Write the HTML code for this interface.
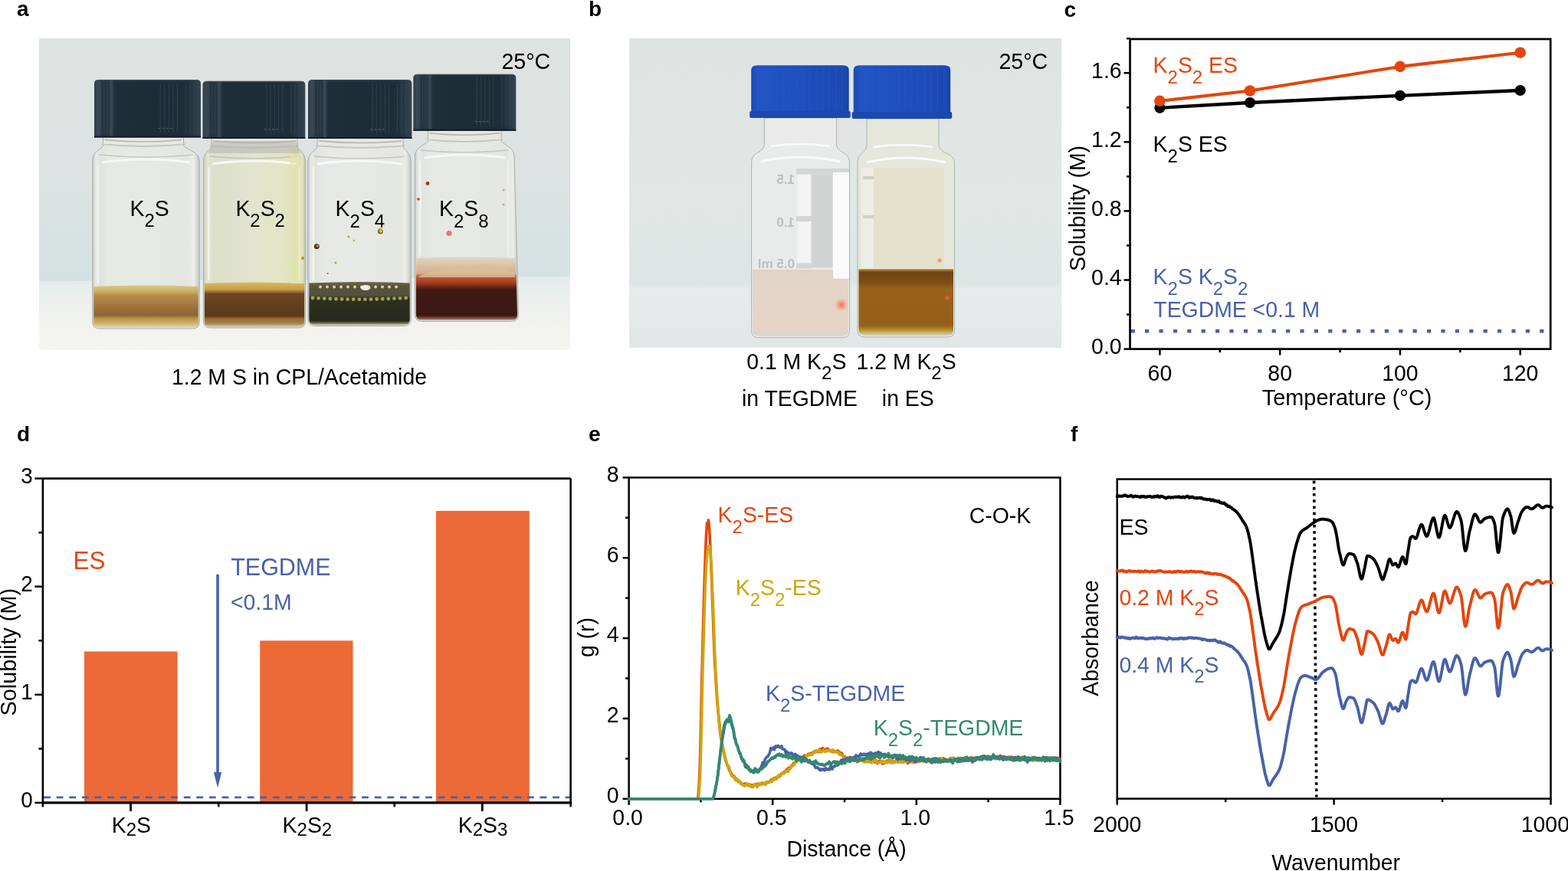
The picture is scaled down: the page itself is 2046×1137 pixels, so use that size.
<!DOCTYPE html>
<html><head><meta charset="utf-8"><title>Figure</title>
<style>
html,body{margin:0;padding:0;background:#fff;}
body{width:2046px;height:1137px;overflow:hidden;}
svg{display:block;}
text{font-family:"Liberation Sans", Arial, Helvetica, sans-serif;}
</style></head><body>
<svg width="2046" height="1137" viewBox="0 0 2046 1137">
<text x="22" y="21.1" font-size="28" fill="#000" text-anchor="start" font-weight="bold" >a</text>
<text x="768" y="21.1" font-size="28" fill="#000" text-anchor="start" font-weight="bold" >b</text>
<text x="1388.6" y="21.5" font-size="28" fill="#000" text-anchor="start" font-weight="bold" >c</text>
<text x="22" y="576" font-size="28" fill="#000" text-anchor="start" font-weight="bold" >d</text>
<text x="768" y="576.2" font-size="28" fill="#000" text-anchor="start" font-weight="bold" >e</text>
<text x="1397" y="576" font-size="28" fill="#000" text-anchor="start" font-weight="bold" >f</text>
<defs>
<linearGradient id="bgA" x1="0" y1="0" x2="0" y2="1">
 <stop offset="0" stop-color="#DEE3E1"/><stop offset="0.45" stop-color="#DCE3E2"/><stop offset="0.8" stop-color="#D5E1E1"/><stop offset="1" stop-color="#CCDDDE"/>
</linearGradient>
<linearGradient id="tblA" x1="0" y1="0" x2="0" y2="1">
 <stop offset="0" stop-color="#E2EBEB"/><stop offset="0.25" stop-color="#EBEFEE"/><stop offset="1" stop-color="#F7F4EE"/>
</linearGradient>
<linearGradient id="bgB" x1="0" y1="0" x2="0" y2="1">
 <stop offset="0" stop-color="#DFE3E2"/><stop offset="0.5" stop-color="#E1E7E5"/><stop offset="0.85" stop-color="#DCE6E5"/><stop offset="0.96" stop-color="#D4E2E2"/><stop offset="1" stop-color="#CFDFDF"/>
</linearGradient>
<linearGradient id="tblB" x1="0" y1="0" x2="0" y2="1">
 <stop offset="0" stop-color="#DCE6E5"/><stop offset="0.1" stop-color="#E5ECEB"/><stop offset="0.5" stop-color="#E4EAE9"/><stop offset="1" stop-color="#E0E7E6"/>
</linearGradient>
<linearGradient id="capK" x1="0" y1="0" x2="1" y2="0">
 <stop offset="0" stop-color="#2C3C48"/><stop offset="0.04" stop-color="#3A4A56"/><stop offset="0.08" stop-color="#24333E"/>
 <stop offset="0.14" stop-color="#283843"/><stop offset="0.16" stop-color="#3C4C58"/><stop offset="0.19" stop-color="#1F2F3A"/>
 <stop offset="0.5" stop-color="#1D2D38"/><stop offset="0.86" stop-color="#1E2E39"/><stop offset="0.95" stop-color="#2A3A46"/><stop offset="1" stop-color="#364652"/>
</linearGradient>
<linearGradient id="capB" x1="0" y1="0" x2="1" y2="0">
 <stop offset="0" stop-color="#1C4AB4"/><stop offset="0.08" stop-color="#2254C4"/><stop offset="0.5" stop-color="#1F4FBE"/>
 <stop offset="0.92" stop-color="#1C49B2"/><stop offset="1" stop-color="#1A44A8"/>
</linearGradient>
<linearGradient id="glass" x1="0" y1="0" x2="1" y2="0">
 <stop offset="0" stop-color="#C6CAC6"/><stop offset="0.03" stop-color="#E8EAE7"/><stop offset="0.08" stop-color="#E0E3DF"/>
 <stop offset="0.14" stop-color="#E6E8E4"/><stop offset="0.5" stop-color="#E7E9E5"/>
 <stop offset="0.88" stop-color="#E4E6E2"/><stop offset="0.95" stop-color="#EAECE8"/><stop offset="1" stop-color="#C2C6C2"/>
</linearGradient>
<linearGradient id="glassY" x1="0" y1="0" x2="1" y2="0">
 <stop offset="0" stop-color="#C8CBB8"/><stop offset="0.04" stop-color="#E2E5D2"/><stop offset="0.1" stop-color="#DCDFCB"/>
 <stop offset="0.5" stop-color="#E2E4CE"/><stop offset="0.8" stop-color="#E2E5C4"/><stop offset="0.9" stop-color="#DCE0B4"/><stop offset="0.97" stop-color="#E2E4C0"/><stop offset="1" stop-color="#BFC2AA"/>
</linearGradient>
<linearGradient id="liq1" x1="0" y1="0" x2="0" y2="1">
 <stop offset="0" stop-color="#D8C888"/><stop offset="0.14" stop-color="#CDB066"/><stop offset="0.24" stop-color="#B68C48"/><stop offset="0.45" stop-color="#A57840"/><stop offset="0.7" stop-color="#8E6234"/><stop offset="0.78" stop-color="#B89448"/><stop offset="0.88" stop-color="#CCB064"/><stop offset="0.95" stop-color="#D6CA98"/><stop offset="1" stop-color="#DEDACA"/>
</linearGradient>
<linearGradient id="liq2" x1="0" y1="0" x2="0" y2="1">
 <stop offset="0" stop-color="#D6BC66"/><stop offset="0.16" stop-color="#C69E44"/><stop offset="0.26" stop-color="#6E4620"/><stop offset="0.5" stop-color="#62401E"/><stop offset="0.75" stop-color="#5A3A1A"/><stop offset="0.82" stop-color="#9A6C34"/><stop offset="0.92" stop-color="#A88450"/><stop offset="1" stop-color="#D8D2C0"/>
</linearGradient>
<linearGradient id="liq3" x1="0" y1="0" x2="0" y2="1">
 <stop offset="0" stop-color="#6E6A48"/><stop offset="0.1" stop-color="#57543A"/><stop offset="0.3" stop-color="#54523A"/><stop offset="0.4" stop-color="#2E2F1F"/><stop offset="0.9" stop-color="#26291E"/><stop offset="0.95" stop-color="#6E6E48"/><stop offset="1" stop-color="#C8C8BA"/>
</linearGradient>
<linearGradient id="liq4" x1="0" y1="0" x2="0" y2="1">
 <stop offset="0" stop-color="#DDD6CC"/><stop offset="0.1" stop-color="#DCC8AE"/><stop offset="0.26" stop-color="#D4AE88"/><stop offset="0.3" stop-color="#B8603A"/><stop offset="0.4" stop-color="#A4401F"/><stop offset="0.47" stop-color="#6E2616"/><stop offset="0.52" stop-color="#3E1A12"/><stop offset="0.92" stop-color="#3A1812"/><stop offset="0.97" stop-color="#8A5A4A"/><stop offset="1" stop-color="#D8CCC6"/>
</linearGradient>
<linearGradient id="liqB1" x1="0" y1="0" x2="0" y2="1">
 <stop offset="0" stop-color="#DCD3C6"/><stop offset="0.08" stop-color="#E2D5C7"/><stop offset="0.9" stop-color="#E6D4C6"/><stop offset="1" stop-color="#DAD4CC"/>
</linearGradient>
<linearGradient id="liqB2" x1="0" y1="0" x2="0" y2="1">
 <stop offset="0" stop-color="#B89030"/><stop offset="0.05" stop-color="#704214"/><stop offset="0.2" stop-color="#7E4E16"/><stop offset="0.3" stop-color="#986218"/><stop offset="0.85" stop-color="#94601A"/><stop offset="0.92" stop-color="#B8922A"/><stop offset="1" stop-color="#D9D5C4"/>
</linearGradient>
<radialGradient id="laser" cx="0.5" cy="0.5" r="0.5">
 <stop offset="0" stop-color="#FF5A48" stop-opacity="0.9"/><stop offset="1" stop-color="#FF8070" stop-opacity="0"/>
</radialGradient>
</defs>
<rect x="51" y="50" width="693" height="405.5" fill="url(#bgA)"/>
<path d="M51,367.6 L744,361 L744,455.5 L51,455.5 Z" fill="url(#tblA)"/>
<path d="M134.5,179.5 L239.5,179.5 L239.5,190 C243.5,196 260.2,198 260.2,210 L260.2,420 Q260.2,429 251.2,429 L129.8,429 Q120.8,429 120.8,420 L120.8,210 C120.8,198 130.5,196 134.5,190 Z" fill="url(#glass)" stroke="#A9AEAA" stroke-width="1"/>
<path d="M132.5,188 Q187.0,194 241.5,188" fill="none" stroke="#C4C7C3" stroke-width="2"/>
<rect x="135.5" y="179.5" width="103.0" height="8.5" fill="#E6E7E4" opacity="0.85"/>
<path d="M136.5,182.5 Q187.0,187.5 237.5,182.5" fill="none" stroke="#8C8F8C" stroke-width="1.5" opacity="0.6"/>
<path d="M128.8,202 Q190.5,208 252.2,202" fill="none" stroke="#A4A7A4" stroke-width="1.5" opacity="0.5"/>
<path d="M132.8,212 Q190.5,204 248.2,212" fill="none" stroke="#F7F8F5" stroke-width="3"/>
<line x1="127.8" y1="216" x2="127.8" y2="370" stroke="#F4F5F2" stroke-width="2.5" opacity="0.9"/>
<line x1="252.2" y1="216" x2="252.2" y2="370" stroke="#F0F1EE" stroke-width="2" opacity="0.7"/>
<path d="M122.3,374 Q190.5,371 258.7,374 L258.7,420 Q258.7,428 250.2,428 L130.8,428 Q122.3,428 122.3,420 Z" fill="url(#liq1)"/>
<path d="M123,179.5 L123,108.9 Q123,103.9 129,103.9 L256,103.9 Q262,103.9 262,108.9 L262,179.5 Z" fill="url(#capK)"/>
<line x1="127.2" y1="107.9" x2="127.2" y2="173.5" stroke="#3A4A56" stroke-width="1.2" opacity="0.55"/>
<line x1="131.3" y1="107.9" x2="131.3" y2="173.5" stroke="#3A4A56" stroke-width="1.2" opacity="0.55"/>
<line x1="135.5" y1="107.9" x2="135.5" y2="173.5" stroke="#3A4A56" stroke-width="1.2" opacity="0.55"/>
<line x1="139.7" y1="107.9" x2="139.7" y2="173.5" stroke="#3A4A56" stroke-width="1.2" opacity="0.55"/>
<line x1="209.2" y1="107.9" x2="209.2" y2="173.5" stroke="#3A4A56" stroke-width="1.2" opacity="0.55"/>
<line x1="214.7" y1="107.9" x2="214.7" y2="173.5" stroke="#3A4A56" stroke-width="1.2" opacity="0.55"/>
<line x1="220.3" y1="107.9" x2="220.3" y2="173.5" stroke="#3A4A56" stroke-width="1.2" opacity="0.55"/>
<line x1="225.9" y1="107.9" x2="225.9" y2="173.5" stroke="#3A4A56" stroke-width="1.2" opacity="0.55"/>
<line x1="231.4" y1="107.9" x2="231.4" y2="173.5" stroke="#3A4A56" stroke-width="1.2" opacity="0.55"/>
<line x1="242.5" y1="107.9" x2="242.5" y2="173.5" stroke="#3A4A56" stroke-width="1.2" opacity="0.55"/>
<line x1="248.1" y1="107.9" x2="248.1" y2="173.5" stroke="#3A4A56" stroke-width="1.2" opacity="0.55"/>
<line x1="253.7" y1="107.9" x2="253.7" y2="173.5" stroke="#3A4A56" stroke-width="1.2" opacity="0.55"/>
<line x1="206.4" y1="167.5" x2="227.2" y2="167.5" stroke="#5A636C" stroke-width="1.2" stroke-dasharray="3 2" opacity="0.8"/>
<line x1="123" y1="178.5" x2="262" y2="178.5" stroke="#161B21" stroke-width="2"/>
<line x1="126" y1="104.9" x2="259" y2="104.9" stroke="#4A5560" stroke-width="1.2" opacity="0.8"/>
<path d="M276,181.1 L388,181.1 L388,192 C392,198 398.6,200 398.6,212 L398.6,419 Q398.6,428 389.6,428 L274.4,428 Q265.4,428 265.4,419 L265.4,212 C265.4,200 272,198 276,192 Z" fill="url(#glassY)" stroke="#A9AEAA" stroke-width="1"/>
<path d="M274,190 Q332.0,196 390,190" fill="none" stroke="#C4C7C3" stroke-width="2"/>
<rect x="277" y="181.1" width="110" height="8.900000000000006" fill="#E6E7E4" opacity="0.85"/>
<path d="M278,184.1 Q332.0,189.1 386,184.1" fill="none" stroke="#8C8F8C" stroke-width="1.5" opacity="0.6"/>
<path d="M273.4,204 Q332.0,210 390.6,204" fill="none" stroke="#A4A7A4" stroke-width="1.5" opacity="0.5"/>
<path d="M277.4,214 Q332.0,206 386.6,214" fill="none" stroke="#F7F8F5" stroke-width="3"/>
<line x1="272.4" y1="218" x2="272.4" y2="366" stroke="#F4F5F2" stroke-width="2.5" opacity="0.9"/>
<line x1="390.6" y1="218" x2="390.6" y2="366" stroke="#F0F1EE" stroke-width="2" opacity="0.7"/>
<path d="M266.9,370 Q332.0,367 397.1,370 L397.1,419 Q397.1,427 388.6,427 L275.4,427 Q266.9,427 266.9,419 Z" fill="url(#liq2)"/>
<path d="M264.5,181.1 L264.5,110.7 Q264.5,105.7 270.5,105.7 L392.3,105.7 Q398.3,105.7 398.3,110.7 L398.3,181.1 Z" fill="url(#capK)"/>
<line x1="268.5" y1="109.7" x2="268.5" y2="175.1" stroke="#3A4A56" stroke-width="1.2" opacity="0.55"/>
<line x1="272.5" y1="109.7" x2="272.5" y2="175.1" stroke="#3A4A56" stroke-width="1.2" opacity="0.55"/>
<line x1="276.5" y1="109.7" x2="276.5" y2="175.1" stroke="#3A4A56" stroke-width="1.2" opacity="0.55"/>
<line x1="280.6" y1="109.7" x2="280.6" y2="175.1" stroke="#3A4A56" stroke-width="1.2" opacity="0.55"/>
<line x1="347.5" y1="109.7" x2="347.5" y2="175.1" stroke="#3A4A56" stroke-width="1.2" opacity="0.55"/>
<line x1="352.8" y1="109.7" x2="352.8" y2="175.1" stroke="#3A4A56" stroke-width="1.2" opacity="0.55"/>
<line x1="358.2" y1="109.7" x2="358.2" y2="175.1" stroke="#3A4A56" stroke-width="1.2" opacity="0.55"/>
<line x1="363.5" y1="109.7" x2="363.5" y2="175.1" stroke="#3A4A56" stroke-width="1.2" opacity="0.55"/>
<line x1="368.9" y1="109.7" x2="368.9" y2="175.1" stroke="#3A4A56" stroke-width="1.2" opacity="0.55"/>
<line x1="379.6" y1="109.7" x2="379.6" y2="175.1" stroke="#3A4A56" stroke-width="1.2" opacity="0.55"/>
<line x1="384.9" y1="109.7" x2="384.9" y2="175.1" stroke="#3A4A56" stroke-width="1.2" opacity="0.55"/>
<line x1="390.3" y1="109.7" x2="390.3" y2="175.1" stroke="#3A4A56" stroke-width="1.2" opacity="0.55"/>
<line x1="344.8" y1="169.1" x2="364.9" y2="169.1" stroke="#5A636C" stroke-width="1.2" stroke-dasharray="3 2" opacity="0.8"/>
<line x1="264.5" y1="180.1" x2="398.3" y2="180.1" stroke="#161B21" stroke-width="2"/>
<line x1="267.5" y1="106.7" x2="395.3" y2="106.7" stroke="#4A5560" stroke-width="1.2" opacity="0.8"/>
<path d="M414,181.1 L526,181.1 L526,192 C530,198 536.2,200 536.2,212 L536.2,416.5 Q536.2,425.5 527.2,425.5 L410.8,425.5 Q401.8,425.5 401.8,416.5 L401.8,212 C401.8,200 410,198 414,192 Z" fill="url(#glass)" stroke="#A9AEAA" stroke-width="1"/>
<path d="M412,190 Q470.0,196 528,190" fill="none" stroke="#C4C7C3" stroke-width="2"/>
<rect x="415" y="181.1" width="110" height="8.900000000000006" fill="#E6E7E4" opacity="0.85"/>
<path d="M416,184.1 Q470.0,189.1 524,184.1" fill="none" stroke="#8C8F8C" stroke-width="1.5" opacity="0.6"/>
<path d="M409.8,204 Q469.0,210 528.2,204" fill="none" stroke="#A4A7A4" stroke-width="1.5" opacity="0.5"/>
<path d="M413.8,214 Q469.0,206 524.2,214" fill="none" stroke="#F7F8F5" stroke-width="3"/>
<line x1="408.8" y1="218" x2="408.8" y2="365.5" stroke="#F4F5F2" stroke-width="2.5" opacity="0.9"/>
<line x1="528.2" y1="218" x2="528.2" y2="365.5" stroke="#F0F1EE" stroke-width="2" opacity="0.7"/>
<path d="M403.3,369.5 Q469.0,366.5 534.7,369.5 L534.7,416.5 Q534.7,424.5 526.2,424.5 L411.8,424.5 Q403.3,424.5 403.3,416.5 Z" fill="url(#liq3)"/>
<path d="M402,181.1 L402,109 Q402,104 408,104 L531.4,104 Q537.4,104 537.4,109 L537.4,181.1 Z" fill="url(#capK)"/>
<line x1="406.1" y1="108" x2="406.1" y2="175.1" stroke="#3A4A56" stroke-width="1.2" opacity="0.55"/>
<line x1="410.1" y1="108" x2="410.1" y2="175.1" stroke="#3A4A56" stroke-width="1.2" opacity="0.55"/>
<line x1="414.2" y1="108" x2="414.2" y2="175.1" stroke="#3A4A56" stroke-width="1.2" opacity="0.55"/>
<line x1="418.2" y1="108" x2="418.2" y2="175.1" stroke="#3A4A56" stroke-width="1.2" opacity="0.55"/>
<line x1="485.9" y1="108" x2="485.9" y2="175.1" stroke="#3A4A56" stroke-width="1.2" opacity="0.55"/>
<line x1="491.4" y1="108" x2="491.4" y2="175.1" stroke="#3A4A56" stroke-width="1.2" opacity="0.55"/>
<line x1="496.8" y1="108" x2="496.8" y2="175.1" stroke="#3A4A56" stroke-width="1.2" opacity="0.55"/>
<line x1="502.2" y1="108" x2="502.2" y2="175.1" stroke="#3A4A56" stroke-width="1.2" opacity="0.55"/>
<line x1="507.6" y1="108" x2="507.6" y2="175.1" stroke="#3A4A56" stroke-width="1.2" opacity="0.55"/>
<line x1="518.4" y1="108" x2="518.4" y2="175.1" stroke="#3A4A56" stroke-width="1.2" opacity="0.55"/>
<line x1="523.9" y1="108" x2="523.9" y2="175.1" stroke="#3A4A56" stroke-width="1.2" opacity="0.55"/>
<line x1="529.3" y1="108" x2="529.3" y2="175.1" stroke="#3A4A56" stroke-width="1.2" opacity="0.55"/>
<line x1="483.2" y1="169.1" x2="503.5" y2="169.1" stroke="#5A636C" stroke-width="1.2" stroke-dasharray="3 2" opacity="0.8"/>
<line x1="402" y1="180.1" x2="537.4" y2="180.1" stroke="#161B21" stroke-width="2"/>
<line x1="405" y1="105" x2="534.4" y2="105" stroke="#4A5560" stroke-width="1.2" opacity="0.8"/>
<path d="M558.4,170.7 L654.1,170.7 L654.1,184 C658.1,190 671,192 671,204 L676.5,410.5 Q676.5,419.5 667.5,419.5 L550.4,419.5 Q541.4,419.5 541.4,410.5 L541.4,204 C541.4,192 554.4,190 558.4,184 Z" fill="url(#glass)" stroke="#A9AEAA" stroke-width="1"/>
<path d="M556.4,182 Q606.25,188 656.1,182" fill="none" stroke="#C4C7C3" stroke-width="2"/>
<rect x="559.4" y="170.7" width="93.70000000000005" height="11.300000000000011" fill="#E6E7E4" opacity="0.85"/>
<path d="M560.4,173.7 Q606.25,178.7 652.1,173.7" fill="none" stroke="#8C8F8C" stroke-width="1.5" opacity="0.6"/>
<path d="M549.4,196 Q606.2,202 663,196" fill="none" stroke="#A4A7A4" stroke-width="1.5" opacity="0.5"/>
<path d="M553.4,206 Q606.2,198 659,206" fill="none" stroke="#F7F8F5" stroke-width="3"/>
<line x1="548.4" y1="210" x2="548.4" y2="333" stroke="#F4F5F2" stroke-width="2.5" opacity="0.9"/>
<line x1="663" y1="210" x2="663" y2="333" stroke="#F0F1EE" stroke-width="2" opacity="0.7"/>
<path d="M542.9,337 Q607.9614379084967,334 673.0228758169935,337 L675.0,410.5 Q675.0,418.5 666.5,418.5 L551.4,418.5 Q542.9,418.5 542.9,410.5 Z" fill="url(#liq4)"/>
<path d="M539.3,170.7 L539.3,101.7 Q539.3,96.7 545.3,96.7 L667.3,96.7 Q673.3,96.7 673.3,101.7 L673.3,170.7 Z" fill="url(#capK)"/>
<line x1="543.3" y1="100.7" x2="543.3" y2="164.7" stroke="#3A4A56" stroke-width="1.2" opacity="0.55"/>
<line x1="547.3" y1="100.7" x2="547.3" y2="164.7" stroke="#3A4A56" stroke-width="1.2" opacity="0.55"/>
<line x1="551.4" y1="100.7" x2="551.4" y2="164.7" stroke="#3A4A56" stroke-width="1.2" opacity="0.55"/>
<line x1="555.4" y1="100.7" x2="555.4" y2="164.7" stroke="#3A4A56" stroke-width="1.2" opacity="0.55"/>
<line x1="622.4" y1="100.7" x2="622.4" y2="164.7" stroke="#3A4A56" stroke-width="1.2" opacity="0.55"/>
<line x1="627.7" y1="100.7" x2="627.7" y2="164.7" stroke="#3A4A56" stroke-width="1.2" opacity="0.55"/>
<line x1="633.1" y1="100.7" x2="633.1" y2="164.7" stroke="#3A4A56" stroke-width="1.2" opacity="0.55"/>
<line x1="638.5" y1="100.7" x2="638.5" y2="164.7" stroke="#3A4A56" stroke-width="1.2" opacity="0.55"/>
<line x1="643.8" y1="100.7" x2="643.8" y2="164.7" stroke="#3A4A56" stroke-width="1.2" opacity="0.55"/>
<line x1="654.5" y1="100.7" x2="654.5" y2="164.7" stroke="#3A4A56" stroke-width="1.2" opacity="0.55"/>
<line x1="659.9" y1="100.7" x2="659.9" y2="164.7" stroke="#3A4A56" stroke-width="1.2" opacity="0.55"/>
<line x1="665.3" y1="100.7" x2="665.3" y2="164.7" stroke="#3A4A56" stroke-width="1.2" opacity="0.55"/>
<line x1="619.7" y1="158.7" x2="639.8" y2="158.7" stroke="#5A636C" stroke-width="1.2" stroke-dasharray="3 2" opacity="0.8"/>
<line x1="539.3" y1="169.7" x2="673.3" y2="169.7" stroke="#161B21" stroke-width="2"/>
<line x1="542.3" y1="97.7" x2="670.3" y2="97.7" stroke="#4A5560" stroke-width="1.2" opacity="0.8"/>
<path d="M278,184 L386,184 L392,200 L272,200 Z" fill="#B4B5AE" opacity="0.55"/>
<rect x="378" y="200" width="12" height="170" fill="#E4E6AC" opacity="0.6"/>
<circle cx="408.0" cy="389.0" r="2.4" fill="#A8A25A" opacity="0.95"/>
<circle cx="415.6" cy="389.35116257962903" r="2.4" fill="#A8A25A" opacity="0.95"/>
<circle cx="423.2" cy="389.68883017825715" r="2.4" fill="#A8A25A" opacity="0.95"/>
<circle cx="430.8" cy="390.0000264194353" r="2.4" fill="#A8A25A" opacity="0.95"/>
<circle cx="438.4" cy="390.27279220613576" r="2.4" fill="#A8A25A" opacity="0.95"/>
<circle cx="446.0" cy="390.4966453021446" r="2.4" fill="#A8A25A" opacity="0.95"/>
<circle cx="453.6" cy="390.6629831585203" r="2.4" fill="#A8A25A" opacity="0.95"/>
<circle cx="461.2" cy="390.7654135047258" r="2.4" fill="#A8A25A" opacity="0.95"/>
<circle cx="468.8" cy="390.8" r="2.4" fill="#A8A25A" opacity="0.95"/>
<circle cx="476.4" cy="390.7654135047258" r="2.4" fill="#A8A25A" opacity="0.95"/>
<circle cx="484.0" cy="390.6629831585203" r="2.4" fill="#A8A25A" opacity="0.95"/>
<circle cx="491.6" cy="390.4966453021446" r="2.4" fill="#A8A25A" opacity="0.95"/>
<circle cx="499.2" cy="390.27279220613576" r="2.4" fill="#A8A25A" opacity="0.95"/>
<circle cx="506.8" cy="390.0000264194353" r="2.4" fill="#A8A25A" opacity="0.95"/>
<circle cx="514.4" cy="389.68883017825715" r="2.4" fill="#A8A25A" opacity="0.95"/>
<circle cx="522.0" cy="389.35116257962903" r="2.4" fill="#A8A25A" opacity="0.95"/>
<circle cx="529.6" cy="389.0" r="2.4" fill="#A8A25A" opacity="0.95"/>
<circle cx="418.0" cy="374.5" r="2" fill="#DCD8B8" opacity="0.95"/>
<circle cx="427.0" cy="374.5" r="2" fill="#DCD8B8" opacity="0.95"/>
<circle cx="436.0" cy="374.5" r="2" fill="#DCD8B8" opacity="0.95"/>
<circle cx="445.0" cy="374.5" r="2" fill="#DCD8B8" opacity="0.95"/>
<circle cx="454.0" cy="374.5" r="2" fill="#DCD8B8" opacity="0.95"/>
<circle cx="463.0" cy="374.5" r="2" fill="#DCD8B8" opacity="0.95"/>
<circle cx="472.0" cy="374.5" r="2" fill="#DCD8B8" opacity="0.95"/>
<circle cx="481.0" cy="374.5" r="2" fill="#DCD8B8" opacity="0.95"/>
<circle cx="490.0" cy="374.5" r="2" fill="#DCD8B8" opacity="0.95"/>
<circle cx="499.0" cy="374.5" r="2" fill="#DCD8B8" opacity="0.95"/>
<circle cx="508.0" cy="374.5" r="2" fill="#DCD8B8" opacity="0.95"/>
<circle cx="517.0" cy="374.5" r="2" fill="#DCD8B8" opacity="0.95"/>
<ellipse cx="477" cy="375.5" rx="6.5" ry="3.5" fill="#F2F2EC"/>
<path d="M545,362 C560,352 575,356 590,349 C602,343 612,352 625,346 C640,340 655,352 672,356 L672,362 Z" fill="#D9BE9A" opacity="0.8"/>
<circle cx="413.3" cy="321.7" r="3.4" fill="#3A3418"/>
<circle cx="496.3" cy="302" r="3.5" fill="#7A6A10"/>
<circle cx="455" cy="309" r="1.6" fill="#C0A840"/>
<circle cx="462" cy="314" r="1.2" fill="#C0A840"/>
<circle cx="438" cy="343" r="1.5" fill="#B8A030"/>
<circle cx="427.7" cy="357" r="1.1" fill="#807030"/>
<circle cx="558" cy="239.5" r="2.4" fill="#A83020"/>
<circle cx="546" cy="260" r="1.8" fill="#B84030"/>
<circle cx="586" cy="304.5" r="3.6" fill="#E08060"/>
<circle cx="657" cy="248" r="1.6" fill="#D0A098"/>
<circle cx="657" cy="267" r="1.6" fill="#D0A098"/>
<circle cx="395" cy="337" r="2" fill="#B89418"/>
<circle cx="496.8" cy="301.5" r="2.2" fill="#D8C020"/>
<circle cx="414" cy="321" r="1.8" fill="#B8A030"/>
<text x="169.6" y="282" font-size="28.4" fill="#000" transform="matrix(1 0 0 1.035 0 -9.870)">K<tspan dy="14" font-size="24">2</tspan><tspan dy="-14">S</tspan></text>
<text x="307.4" y="282" font-size="28.4" fill="#000" transform="matrix(1 0 0 1.035 0 -9.870)">K<tspan dy="14" font-size="24">2</tspan><tspan dy="-14">S</tspan><tspan dy="14" font-size="24">2</tspan></text>
<text x="437.6" y="282.3" font-size="28.4" fill="#000" transform="matrix(1 0 0 1.035 0 -9.880)">K<tspan dy="14" font-size="24">2</tspan><tspan dy="-14">S</tspan><tspan dy="14" font-size="24">4</tspan></text>
<text x="573" y="282.3" font-size="28.4" fill="#000" transform="matrix(1 0 0 1.035 0 -9.880)">K<tspan dy="14" font-size="24">2</tspan><tspan dy="-14">S</tspan><tspan dy="14" font-size="24">8</tspan></text>
<text x="654.4" y="90.2" font-size="28.6" fill="#000" text-anchor="start" font-weight="normal"  transform="matrix(1 0 0 1.035 0 -3.157)">25°C</text>
<text x="390.5" y="502" font-size="28.4" fill="#000" text-anchor="middle" font-weight="normal"  transform="matrix(1 0 0 1.035 0 -17.570)">1.2 M S in CPL/Acetamide</text>
<rect x="821" y="50" width="564" height="403.8" fill="url(#bgB)"/>
<rect x="821" y="369.5" width="564" height="84.3" fill="url(#tblB)"/>
<path d="M997.4,154 L1091.5,154 L1091.5,189 C1093.5,201 1108.5,197 1108.5,213 L1108.5,431.7 Q1108.5,440.7 1099.5,440.7 L989.6,440.7 Q980.6,440.7 980.6,431.7 L980.6,213 C980.6,197 995.4,201 997.4,189 Z" fill="#E8EBE9" stroke="#AEB2AF" stroke-width="1"/>
<path d="M992.6,211 Q1044.55,199 1096.5,211" fill="none" stroke="#FAFBF9" stroke-width="3"/>
<path d="M1005.4,191 Q1044.45,185 1083.5,191" fill="none" stroke="#FAFBF9" stroke-width="2.5"/>
<path d="M982.1,352 L1107.0,352 L1107.0,431.7 Q1107.0,438.7 1098.5,438.7 L990.6,438.7 Q982.1,438.7 982.1,431.7 Z" fill="url(#liqB1)"/>
<path d="M980.2,146 L980.2,91.2 Q980.2,85.2 988.2,85.2 L1099.7,85.2 Q1107.7,85.2 1107.7,91.2 L1107.7,146 Z" fill="url(#capB)"/>
<rect x="978.2" y="145" width="131.5" height="9" rx="2" fill="#1C48B0"/>
<line x1="988.7" y1="89.2" x2="988.7" y2="143" stroke="#2A5AC8" stroke-width="1" opacity="0.6"/>
<line x1="997.2" y1="89.2" x2="997.2" y2="143" stroke="#2A5AC8" stroke-width="1" opacity="0.6"/>
<line x1="1005.7" y1="89.2" x2="1005.7" y2="143" stroke="#2A5AC8" stroke-width="1" opacity="0.6"/>
<line x1="1014.2" y1="89.2" x2="1014.2" y2="143" stroke="#2A5AC8" stroke-width="1" opacity="0.6"/>
<line x1="1022.7" y1="89.2" x2="1022.7" y2="143" stroke="#2A5AC8" stroke-width="1" opacity="0.6"/>
<line x1="1031.2" y1="89.2" x2="1031.2" y2="143" stroke="#2A5AC8" stroke-width="1" opacity="0.6"/>
<line x1="1039.7" y1="89.2" x2="1039.7" y2="143" stroke="#2A5AC8" stroke-width="1" opacity="0.6"/>
<line x1="1048.2" y1="89.2" x2="1048.2" y2="143" stroke="#2A5AC8" stroke-width="1" opacity="0.6"/>
<line x1="1056.7" y1="89.2" x2="1056.7" y2="143" stroke="#2A5AC8" stroke-width="1" opacity="0.6"/>
<line x1="1065.2" y1="89.2" x2="1065.2" y2="143" stroke="#2A5AC8" stroke-width="1" opacity="0.6"/>
<line x1="1073.7" y1="89.2" x2="1073.7" y2="143" stroke="#2A5AC8" stroke-width="1" opacity="0.6"/>
<line x1="1082.2" y1="89.2" x2="1082.2" y2="143" stroke="#2A5AC8" stroke-width="1" opacity="0.6"/>
<line x1="1090.7" y1="89.2" x2="1090.7" y2="143" stroke="#2A5AC8" stroke-width="1" opacity="0.6"/>
<line x1="1099.2" y1="89.2" x2="1099.2" y2="143" stroke="#2A5AC8" stroke-width="1" opacity="0.6"/>
<path d="M1131,155 L1225,155 L1225,190 C1227,202 1245.5,198 1245.5,214 L1245.5,431 Q1245.5,440 1236.5,440 L1128,440 Q1119,440 1119,431 L1119,214 C1119,198 1129,202 1131,190 Z" fill="#E5E6DC" stroke="#AEB2AF" stroke-width="1"/>
<path d="M1131,212 Q1182.25,200 1233.5,212" fill="none" stroke="#FAFBF9" stroke-width="3"/>
<path d="M1139,192 Q1178.0,186 1217,192" fill="none" stroke="#FAFBF9" stroke-width="2.5"/>
<path d="M1120.5,351.2 L1244.0,351.2 L1244.0,431 Q1244.0,438 1235.5,438 L1129,438 Q1120.5,438 1120.5,431 Z" fill="url(#liqB2)"/>
<path d="M1113.7,147 L1113.7,91.2 Q1113.7,85.2 1121.7,85.2 L1232.2,85.2 Q1240.2,85.2 1240.2,91.2 L1240.2,147 Z" fill="url(#capB)"/>
<rect x="1111.7" y="146" width="130.5" height="9" rx="2" fill="#1C48B0"/>
<line x1="1122.1" y1="89.2" x2="1122.1" y2="144" stroke="#2A5AC8" stroke-width="1" opacity="0.6"/>
<line x1="1130.6" y1="89.2" x2="1130.6" y2="144" stroke="#2A5AC8" stroke-width="1" opacity="0.6"/>
<line x1="1139.0" y1="89.2" x2="1139.0" y2="144" stroke="#2A5AC8" stroke-width="1" opacity="0.6"/>
<line x1="1147.4" y1="89.2" x2="1147.4" y2="144" stroke="#2A5AC8" stroke-width="1" opacity="0.6"/>
<line x1="1155.9" y1="89.2" x2="1155.9" y2="144" stroke="#2A5AC8" stroke-width="1" opacity="0.6"/>
<line x1="1164.3" y1="89.2" x2="1164.3" y2="144" stroke="#2A5AC8" stroke-width="1" opacity="0.6"/>
<line x1="1172.7" y1="89.2" x2="1172.7" y2="144" stroke="#2A5AC8" stroke-width="1" opacity="0.6"/>
<line x1="1181.2" y1="89.2" x2="1181.2" y2="144" stroke="#2A5AC8" stroke-width="1" opacity="0.6"/>
<line x1="1189.6" y1="89.2" x2="1189.6" y2="144" stroke="#2A5AC8" stroke-width="1" opacity="0.6"/>
<line x1="1198.0" y1="89.2" x2="1198.0" y2="144" stroke="#2A5AC8" stroke-width="1" opacity="0.6"/>
<line x1="1206.5" y1="89.2" x2="1206.5" y2="144" stroke="#2A5AC8" stroke-width="1" opacity="0.6"/>
<line x1="1214.9" y1="89.2" x2="1214.9" y2="144" stroke="#2A5AC8" stroke-width="1" opacity="0.6"/>
<line x1="1223.3" y1="89.2" x2="1223.3" y2="144" stroke="#2A5AC8" stroke-width="1" opacity="0.6"/>
<line x1="1231.8" y1="89.2" x2="1231.8" y2="144" stroke="#2A5AC8" stroke-width="1" opacity="0.6"/>
<rect x="1039" y="219.7" width="69" height="132.3" fill="#ECEDEC"/>
<rect x="1041.5" y="228" width="17" height="54" fill="#F3F4F3"/>
<rect x="1041.5" y="290" width="17" height="53.5" fill="#F3F4F3"/>
<rect x="1058.5" y="227.5" width="28" height="122" fill="#D0D3D2"/>
<rect x="1039" y="220" width="69" height="7.5" fill="#D3D6D5"/>
<rect x="1039" y="282" width="20" height="7" fill="#D3D6D5"/>
<rect x="1039" y="343.5" width="20" height="7" fill="#D3D6D5"/>
<rect x="1087" y="224.8" width="21" height="139" fill="#FAFAFA"/>
<text x="-1037" y="240" font-size="17" font-weight="bold" fill="#BDBFBE" transform="scale(-1,1)">1.5</text>
<text x="-1037" y="296" font-size="17" font-weight="bold" fill="#BDBFBE" transform="scale(-1,1)">1.0</text>
<text x="-1037" y="350" font-size="17" font-weight="bold" fill="#BDBFBE" transform="scale(-1,1)">0.5 ml</text>
<rect x="1140" y="219" width="92" height="131" fill="#E4E1CC"/>
<rect x="1124" y="219" width="16" height="131" fill="#EDEDE5"/>
<rect x="1126" y="230" width="14" height="4" fill="#CFCFC4"/>
<rect x="1126" y="281" width="14" height="4" fill="#CFCFC4"/>
<circle cx="1098" cy="398" r="9" fill="url(#laser)"/>
<circle cx="1226" cy="340" r="4" fill="url(#laser)"/>
<circle cx="1236" cy="389" r="4" fill="url(#laser)"/>
<text x="1303.4" y="89.8" font-size="28.6" fill="#000" text-anchor="start" font-weight="normal"  transform="matrix(1 0 0 1.035 0 -3.143)">25°C</text>
<text x="1039.3" y="482.1" font-size="28.4" text-anchor="middle" transform="matrix(1 0 0 1.035 0 -16.873)">0.1 M K<tspan dy="12.8" font-size="24">2</tspan><tspan dy="-12.8">S</tspan></text>
<text x="1182.6" y="482.1" font-size="28.4" text-anchor="middle" transform="matrix(1 0 0 1.035 0 -16.873)">1.2 M K<tspan dy="12.8" font-size="24">2</tspan><tspan dy="-12.8">S</tspan></text>
<text x="1043.4" y="529.8" font-size="28.4" fill="#000" text-anchor="middle" font-weight="normal"  transform="matrix(1 0 0 1.035 0 -18.543)">in TEGDME</text>
<text x="1184.8" y="529.8" font-size="28.4" fill="#000" text-anchor="middle" font-weight="normal"  transform="matrix(1 0 0 1.035 0 -18.543)">in ES</text>
<line x1="1475.6" y1="432.2" x2="2016" y2="432.2" stroke="#4862A8" stroke-width="4.6" stroke-dasharray="5.2 13.2"/>
<rect x="1474.5" y="51.0" width="548.7" height="404.6" fill="none" stroke="#000" stroke-width="2.7" stroke-linejoin="miter"/>
<line x1="1466.5" y1="455.6" x2="1474.5" y2="455.6" stroke="#000" stroke-width="2.5" />
<line x1="1466.5" y1="365.52000000000004" x2="1474.5" y2="365.52000000000004" stroke="#000" stroke-width="2.5" />
<line x1="1466.5" y1="275.44000000000005" x2="1474.5" y2="275.44000000000005" stroke="#000" stroke-width="2.5" />
<line x1="1466.5" y1="185.36000000000007" x2="1474.5" y2="185.36000000000007" stroke="#000" stroke-width="2.5" />
<line x1="1466.5" y1="95.28000000000003" x2="1474.5" y2="95.28000000000003" stroke="#000" stroke-width="2.5" />
<line x1="1470.0" y1="410.56" x2="1474.5" y2="410.56" stroke="#000" stroke-width="2.5" />
<line x1="1470.0" y1="320.48" x2="1474.5" y2="320.48" stroke="#000" stroke-width="2.5" />
<line x1="1470.0" y1="230.40000000000003" x2="1474.5" y2="230.40000000000003" stroke="#000" stroke-width="2.5" />
<line x1="1470.0" y1="140.32000000000005" x2="1474.5" y2="140.32000000000005" stroke="#000" stroke-width="2.5" />
<line x1="1470.0" y1="50.24000000000001" x2="1474.5" y2="50.24000000000001" stroke="#000" stroke-width="2.5" />
<line x1="1513.4" y1="455.6" x2="1513.4" y2="463.6" stroke="#000" stroke-width="2.5" />
<line x1="1670.16" y1="455.6" x2="1670.16" y2="463.6" stroke="#000" stroke-width="2.5" />
<line x1="1826.92" y1="455.6" x2="1826.92" y2="463.6" stroke="#000" stroke-width="2.5" />
<line x1="1983.68" y1="455.6" x2="1983.68" y2="463.6" stroke="#000" stroke-width="2.5" />
<line x1="1591.7800000000002" y1="455.6" x2="1591.7800000000002" y2="460.1" stroke="#000" stroke-width="2.5" />
<line x1="1748.5400000000002" y1="455.6" x2="1748.5400000000002" y2="460.1" stroke="#000" stroke-width="2.5" />
<line x1="1905.3000000000002" y1="455.6" x2="1905.3000000000002" y2="460.1" stroke="#000" stroke-width="2.5" />
<text x="1463.6" y="462.0" font-size="28.4" fill="#000" text-anchor="end" font-weight="normal"  transform="matrix(1 0 0 1.035 0 -16.170)">0.0</text>
<text x="1463.6" y="371.92" font-size="28.4" fill="#000" text-anchor="end" font-weight="normal"  transform="matrix(1 0 0 1.035 0 -13.017)">0.4</text>
<text x="1463.6" y="281.84000000000003" font-size="28.4" fill="#000" text-anchor="end" font-weight="normal"  transform="matrix(1 0 0 1.035 0 -9.864)">0.8</text>
<text x="1463.6" y="191.76000000000008" font-size="28.4" fill="#000" text-anchor="end" font-weight="normal"  transform="matrix(1 0 0 1.035 0 -6.712)">1.2</text>
<text x="1463.6" y="101.68000000000004" font-size="28.4" fill="#000" text-anchor="end" font-weight="normal"  transform="matrix(1 0 0 1.035 0 -3.559)">1.6</text>
<text x="1513.4" y="497.2" font-size="28.4" fill="#000" text-anchor="middle" font-weight="normal"  transform="matrix(1 0 0 1.035 0 -17.402)">60</text>
<text x="1670.16" y="497.2" font-size="28.4" fill="#000" text-anchor="middle" font-weight="normal"  transform="matrix(1 0 0 1.035 0 -17.402)">80</text>
<text x="1826.92" y="497.2" font-size="28.4" fill="#000" text-anchor="middle" font-weight="normal"  transform="matrix(1 0 0 1.035 0 -17.402)">100</text>
<text x="1983.68" y="497.2" font-size="28.4" fill="#000" text-anchor="middle" font-weight="normal"  transform="matrix(1 0 0 1.035 0 -17.402)">120</text>
<text x="1757.6" y="528.7" font-size="28.85" fill="#000" text-anchor="middle" font-weight="normal"  transform="matrix(1 0 0 1.035 0 -18.504)">Temperature (°C)</text>
<text x="1415.6" y="272" font-size="28.4" fill="#000" text-anchor="middle" transform="rotate(-90 1415.6 272) matrix(1 0 0 1.035 0 -9.520)">Solubility (M)</text>
<path d="M1513.4,140.8 L1631.0,134.0 L1826.9,124.8 L1983.7,118.0" fill="none" stroke="#000" stroke-width="4.3" stroke-linejoin="round" stroke-linecap="round" />
<circle cx="1513.4" cy="140.8" r="7.1" fill="#000"/>
<circle cx="1631.0" cy="134.0" r="7.1" fill="#000"/>
<circle cx="1826.9" cy="124.8" r="7.1" fill="#000"/>
<circle cx="1983.7" cy="118.0" r="7.1" fill="#000"/>
<path d="M1513.4,131.8 L1631.0,118.5 L1826.9,86.9 L1983.7,68.7" fill="none" stroke="#E5450C" stroke-width="4.1" stroke-linejoin="round" stroke-linecap="round" />
<circle cx="1513.4" cy="131.8" r="7.3" fill="#E5450C"/>
<circle cx="1631.0" cy="118.5" r="7.3" fill="#E5450C"/>
<circle cx="1826.9" cy="86.9" r="7.3" fill="#E5450C"/>
<circle cx="1983.7" cy="68.7" r="7.3" fill="#E5450C"/>
<text x="1504.6" y="94.9" font-size="28.4" fill="#E5450C" text-anchor="start" transform="matrix(1 0 0 1.035 0 -3.321)">K<tspan dy="14" font-size="24">2</tspan><tspan dy="-14">S</tspan><tspan dy="14" font-size="24">2</tspan><tspan dy="-14"> ES</tspan></text>
<text x="1504.6" y="198" font-size="28.4" fill="#000" text-anchor="start" transform="matrix(1 0 0 1.035 0 -6.930)">K<tspan dy="14" font-size="24">2</tspan><tspan dy="-14">S ES</tspan></text>
<text x="1504.6" y="371" font-size="28.4" fill="#4862A8" text-anchor="start" transform="matrix(1 0 0 1.035 0 -12.985)">K<tspan dy="13.7" font-size="24">2</tspan><tspan dy="-13.7">S K</tspan><tspan dy="13.7" font-size="24">2</tspan><tspan dy="-13.7">S</tspan><tspan dy="13.7" font-size="24">2</tspan></text>
<text x="1505.3" y="413.9" font-size="28.4" fill="#4862A8" text-anchor="start" font-weight="normal"  transform="matrix(1 0 0 1.035 0 -14.486)">TEGDME &lt;0.1 M</text>
<rect x="110" y="850.4" width="121.6" height="197.5" fill="#EC6A37"/>
<rect x="339.2" y="836.3" width="121.3" height="211.6" fill="#EC6A37"/>
<rect x="568.8" y="666.9" width="122.0" height="381.0" fill="#EC6A37"/>
<line x1="57.1" y1="1040.9" x2="744" y2="1040.9" stroke="#4862A8" stroke-width="2.8" stroke-dasharray="8.8 7.8"/>
<line x1="55.9" y1="624.6" x2="744.6" y2="624.6" stroke="#000" stroke-width="2.6" />
<line x1="55.9" y1="624.6" x2="55.9" y2="1047.9" stroke="#000" stroke-width="2.6" />
<line x1="744.6" y1="624.6" x2="744.6" y2="1047.9" stroke="#000" stroke-width="2.6" />
<line x1="54.6" y1="1047.9" x2="745.9" y2="1047.9" stroke="#000" stroke-width="3.4" />
<line x1="45.4" y1="1047.9" x2="55.9" y2="1047.9" stroke="#000" stroke-width="2.5" />
<line x1="45.4" y1="906.8000000000001" x2="55.9" y2="906.8000000000001" stroke="#000" stroke-width="2.5" />
<line x1="45.4" y1="765.7" x2="55.9" y2="765.7" stroke="#000" stroke-width="2.5" />
<line x1="45.4" y1="624.6000000000001" x2="55.9" y2="624.6000000000001" stroke="#000" stroke-width="2.5" />
<line x1="50.4" y1="977.3500000000001" x2="55.9" y2="977.3500000000001" stroke="#000" stroke-width="2.5" />
<line x1="50.4" y1="836.2500000000001" x2="55.9" y2="836.2500000000001" stroke="#000" stroke-width="2.5" />
<line x1="50.4" y1="695.1500000000001" x2="55.9" y2="695.1500000000001" stroke="#000" stroke-width="2.5" />
<line x1="170.5" y1="1047.9" x2="170.5" y2="1058.9" stroke="#000" stroke-width="2.8" />
<line x1="400.1" y1="1047.9" x2="400.1" y2="1058.9" stroke="#000" stroke-width="2.8" />
<line x1="629.3" y1="1047.9" x2="629.3" y2="1058.9" stroke="#000" stroke-width="2.8" />
<line x1="55.9" y1="1047.9" x2="55.9" y2="1053.4" stroke="#000" stroke-width="2.6" />
<line x1="285.2" y1="1047.9" x2="285.2" y2="1053.4" stroke="#000" stroke-width="2.6" />
<line x1="514.7" y1="1047.9" x2="514.7" y2="1053.4" stroke="#000" stroke-width="2.6" />
<line x1="744.6" y1="1047.9" x2="744.6" y2="1053.4" stroke="#000" stroke-width="2.6" />
<text x="42.6" y="1054.1000000000001" font-size="27.8" fill="#000" text-anchor="end" font-weight="normal"  transform="matrix(1 0 0 1.035 0 -36.893)">0</text>
<text x="42.6" y="913.0000000000001" font-size="27.8" fill="#000" text-anchor="end" font-weight="normal"  transform="matrix(1 0 0 1.035 0 -31.955)">1</text>
<text x="42.6" y="771.9000000000001" font-size="27.8" fill="#000" text-anchor="end" font-weight="normal"  transform="matrix(1 0 0 1.035 0 -27.016)">2</text>
<text x="42.6" y="630.8000000000002" font-size="27.8" fill="#000" text-anchor="end" font-weight="normal"  transform="matrix(1 0 0 1.035 0 -22.078)">3</text>
<text x="171.3" y="1086.9" font-size="28.4" text-anchor="middle" transform="matrix(1 0 0 1.035 0 -38.041)">K<tspan font-size="24" dy="3.9">2</tspan><tspan dy="-3.9">S</tspan></text>
<text x="400.90000000000003" y="1086.9" font-size="28.4" text-anchor="middle" transform="matrix(1 0 0 1.035 0 -38.041)">K<tspan font-size="24" dy="3.9">2</tspan><tspan dy="-3.9">S</tspan><tspan font-size="24" dy="3.9">2</tspan></text>
<text x="630.0999999999999" y="1086.9" font-size="28.4" text-anchor="middle" transform="matrix(1 0 0 1.035 0 -38.041)">K<tspan font-size="24" dy="3.9">2</tspan><tspan dy="-3.9">S</tspan><tspan font-size="24" dy="3.9">3</tspan></text>
<text x="20.9" y="851.2" font-size="28.8" fill="#000" text-anchor="middle" transform="rotate(-90 20.9 851.2) matrix(1 0 0 1.035 0 -29.792)">Solubility (M)</text>
<text x="95.5" y="743" font-size="31.5" fill="#E5450C" text-anchor="start" font-weight="normal"  transform="matrix(1 0 0 1.035 0 -26.005)">ES</text>
<text x="301.2" y="750.9" font-size="30.5" fill="#4862A8" text-anchor="start" font-weight="normal"  transform="matrix(1 0 0 1.035 0 -26.281)">TEGDME</text>
<text x="300.9" y="796.1" font-size="28.4" fill="#4862A8" text-anchor="start" font-weight="normal"  transform="matrix(1 0 0 1.035 0 -27.863)">&lt;0.1M</text>
<line x1="284" y1="749.7" x2="284" y2="1012" stroke="#4862A8" stroke-width="3.6" />
<path d="M278.8,1008 L289.2,1008 L284,1028.5 Z" fill="#4862A8"/>
<rect x="820.6" y="623.4" width="562.8000000000001" height="419.4" fill="none" stroke="#000" stroke-width="2.5" stroke-linejoin="miter"/>
<line x1="812.6" y1="1042.8" x2="820.6" y2="1042.8" stroke="#000" stroke-width="2.5" />
<line x1="812.6" y1="937.9399999999999" x2="820.6" y2="937.9399999999999" stroke="#000" stroke-width="2.5" />
<line x1="812.6" y1="833.0799999999999" x2="820.6" y2="833.0799999999999" stroke="#000" stroke-width="2.5" />
<line x1="812.6" y1="728.22" x2="820.6" y2="728.22" stroke="#000" stroke-width="2.5" />
<line x1="812.6" y1="623.3599999999999" x2="820.6" y2="623.3599999999999" stroke="#000" stroke-width="2.5" />
<line x1="816.1" y1="990.37" x2="820.6" y2="990.37" stroke="#000" stroke-width="2.5" />
<line x1="816.1" y1="885.51" x2="820.6" y2="885.51" stroke="#000" stroke-width="2.5" />
<line x1="816.1" y1="780.65" x2="820.6" y2="780.65" stroke="#000" stroke-width="2.5" />
<line x1="816.1" y1="675.79" x2="820.6" y2="675.79" stroke="#000" stroke-width="2.5" />
<line x1="820.6" y1="1042.8" x2="820.6" y2="1050.8" stroke="#000" stroke-width="2.5" />
<line x1="1008.2" y1="1042.8" x2="1008.2" y2="1050.8" stroke="#000" stroke-width="2.5" />
<line x1="1195.8" y1="1042.8" x2="1195.8" y2="1050.8" stroke="#000" stroke-width="2.5" />
<line x1="1383.4" y1="1042.8" x2="1383.4" y2="1050.8" stroke="#000" stroke-width="2.5" />
<line x1="914.4" y1="1042.8" x2="914.4" y2="1047.3" stroke="#000" stroke-width="2.5" />
<line x1="1102.0" y1="1042.8" x2="1102.0" y2="1047.3" stroke="#000" stroke-width="2.5" />
<line x1="1289.6" y1="1042.8" x2="1289.6" y2="1047.3" stroke="#000" stroke-width="2.5" />
<path d="M820.6,1042.8 L821.2,1042.8 L821.7,1042.8 L822.3,1042.8 L822.9,1042.8 L823.4,1042.8 L824.0,1042.8 L824.5,1042.8 L825.1,1042.8 L825.7,1042.8 L826.2,1042.8 L826.8,1042.8 L827.4,1042.8 L827.9,1042.8 L828.5,1042.8 L829.1,1042.8 L829.6,1042.8 L830.2,1042.8 L830.7,1042.8 L831.3,1042.8 L831.9,1042.8 L832.4,1042.8 L833.0,1042.8 L833.6,1042.8 L834.1,1042.8 L834.7,1042.8 L835.2,1042.8 L835.8,1042.8 L836.4,1042.8 L836.9,1042.8 L837.5,1042.8 L838.1,1042.8 L838.6,1042.8 L839.2,1042.8 L839.8,1042.8 L840.3,1042.8 L840.9,1042.8 L841.4,1042.8 L842.0,1042.8 L842.6,1042.8 L843.1,1042.8 L843.7,1042.8 L844.3,1042.8 L844.8,1042.8 L845.4,1042.8 L846.0,1042.8 L846.5,1042.8 L847.1,1042.8 L847.6,1042.8 L848.2,1042.8 L848.8,1042.8 L849.3,1042.8 L849.9,1042.8 L850.5,1042.8 L851.0,1042.8 L851.6,1042.8 L852.1,1042.8 L852.7,1042.8 L853.3,1042.8 L853.8,1042.8 L854.4,1042.8 L855.0,1042.8 L855.5,1042.8 L856.1,1042.8 L856.7,1042.8 L857.2,1042.8 L857.8,1042.8 L858.3,1042.8 L858.9,1042.8 L859.5,1042.8 L860.0,1042.8 L860.6,1042.8 L861.2,1042.8 L861.7,1042.8 L862.3,1042.8 L862.9,1042.8 L863.4,1042.8 L864.0,1042.8 L864.5,1042.8 L865.1,1042.8 L865.7,1042.8 L866.2,1042.8 L866.8,1042.8 L867.4,1042.8 L867.9,1042.8 L868.5,1042.8 L869.0,1042.8 L869.6,1042.8 L870.2,1042.8 L870.7,1042.8 L871.3,1042.8 L871.9,1042.8 L872.4,1042.8 L873.0,1042.8 L873.6,1042.8 L874.1,1042.8 L874.7,1042.8 L875.2,1042.8 L875.8,1042.8 L876.4,1042.8 L876.9,1042.8 L877.5,1042.8 L878.1,1042.8 L878.6,1042.8 L879.2,1042.8 L879.8,1042.8 L880.3,1042.8 L880.9,1042.8 L881.4,1042.8 L882.0,1042.8 L882.6,1042.8 L883.1,1042.8 L883.7,1042.8 L884.3,1042.8 L884.8,1042.8 L885.4,1042.8 L886.0,1042.8 L886.5,1042.8 L887.1,1042.8 L887.6,1042.8 L888.2,1042.8 L888.8,1042.8 L889.3,1042.8 L889.9,1042.8 L890.5,1042.8 L891.0,1042.8 L891.6,1042.8 L892.1,1042.8 L892.7,1042.8 L893.3,1042.8 L893.8,1042.8 L894.4,1042.8 L895.0,1042.8 L895.5,1042.8 L896.1,1042.8 L896.7,1042.8 L897.2,1042.8 L897.8,1042.8 L898.3,1042.8 L898.9,1042.8 L899.5,1042.8 L900.0,1042.8 L900.6,1042.8 L901.2,1042.8 L901.7,1042.8 L902.3,1042.8 L902.9,1042.8 L903.4,1042.8 L904.0,1042.8 L904.5,1042.8 L905.1,1042.8 L905.7,1042.8 L906.2,1042.8 L906.8,1042.8 L907.4,1042.8 L907.9,1042.8 L908.5,1042.8 L909.0,1042.8 L909.6,1042.8 L910.2,1042.8 L910.7,1041.2 L911.3,1035.8 L911.9,1027.7 L912.4,1018.2 L913.0,1005.9 L913.6,987.2 L914.1,963.9 L914.7,938.0 L915.2,911.2 L915.8,885.6 L916.4,863.0 L916.9,841.4 L917.5,819.5 L918.1,797.9 L918.6,777.2 L919.2,758.0 L919.8,740.9 L920.3,726.1 L920.9,712.2 L921.4,699.9 L922.0,690.0 L922.6,682.7 L923.1,683.7 L923.7,688.4 L924.3,678.8 L924.8,681.1 L925.4,687.5 L925.9,696.0 L926.5,707.0 L927.1,719.6 L927.6,732.6 L928.2,745.6 L928.8,759.9 L929.3,775.4 L929.9,791.7 L930.5,808.1 L931.0,824.1 L931.6,839.4 L932.1,853.2 L932.7,865.2 L933.3,873.7 L933.8,883.3 L934.4,894.1 L935.0,903.1 L935.5,910.9 L936.1,918.6 L936.7,924.8 L937.2,930.2 L937.8,936.8 L938.3,942.8 L938.9,947.7 L939.5,953.1 L940.0,957.9 L940.6,962.1 L941.2,966.0 L941.7,969.7 L942.3,972.6 L942.8,975.1 L943.4,977.8 L944.0,980.4 L944.5,982.6 L945.1,984.7 L945.7,987.3 L946.2,989.9 L946.8,992.1 L947.4,994.4 L947.9,995.9 L948.5,997.0 L949.0,999.0 L949.6,1000.4 L950.2,1000.8 L950.7,1002.0 L951.3,1004.5 L951.9,1006.3 L952.4,1006.3 L953.0,1007.2 L953.6,1008.8 L954.1,1009.2 L954.7,1010.6 L955.2,1011.9 L955.8,1012.0 L956.4,1012.3 L956.9,1013.4 L957.5,1014.0 L958.1,1013.5 L958.6,1015.0 L959.2,1016.4 L959.8,1015.9 L960.3,1016.1 L960.9,1016.7 L961.4,1017.3 L962.0,1017.7 L962.6,1018.2 L963.1,1018.8 L963.7,1019.0 L964.3,1020.0 L964.8,1020.9 L965.4,1020.7 L965.9,1020.8 L966.5,1021.8 L967.1,1022.4 L967.6,1022.8 L968.2,1024.1 L968.8,1024.2 L969.3,1023.8 L969.9,1024.1 L970.5,1023.7 L971.0,1023.0 L971.6,1023.1 L972.1,1024.2 L972.7,1024.4 L973.3,1024.8 L973.8,1024.5 L974.4,1022.9 L975.0,1023.8 L975.5,1024.8 L976.1,1024.0 L976.7,1024.8 L977.2,1025.7 L977.8,1024.4 L978.3,1023.9 L978.9,1024.8 L979.5,1025.0 L980.0,1024.9 L980.6,1025.2 L981.2,1024.8 L981.7,1024.9 L982.3,1025.9 L982.8,1026.4 L983.4,1026.0 L984.0,1025.4 L984.5,1024.5 L985.1,1024.1 L985.7,1024.2 L986.2,1024.3 L986.8,1024.8 L987.4,1025.0 L987.9,1023.7 L988.5,1023.0 L989.0,1024.2 L989.6,1024.9 L990.2,1024.7 L990.7,1024.8 L991.3,1024.6 L991.9,1024.0 L992.4,1023.2 L993.0,1022.4 L993.6,1022.6 L994.1,1022.5 L994.7,1022.2 L995.2,1022.1 L995.8,1021.9 L996.4,1022.7 L996.9,1023.3 L997.5,1022.8 L998.1,1022.7 L998.6,1022.9 L999.2,1022.8 L999.7,1022.2 L1000.3,1020.8 L1000.9,1020.8 L1001.4,1021.7 L1002.0,1021.7 L1002.6,1021.1 L1003.1,1020.8 L1003.7,1021.1 L1004.3,1020.8 L1004.8,1020.1 L1005.4,1019.2 L1005.9,1017.8 L1006.5,1017.3 L1007.1,1017.6 L1007.6,1018.1 L1008.2,1018.3 L1008.8,1017.4 L1009.3,1016.7 L1009.9,1015.8 L1010.5,1015.9 L1011.0,1017.2 L1011.6,1017.0 L1012.1,1016.1 L1012.7,1015.7 L1013.3,1015.9 L1013.8,1015.4 L1014.4,1014.0 L1015.0,1013.3 L1015.5,1013.6 L1016.1,1014.0 L1016.7,1013.3 L1017.2,1012.0 L1017.8,1012.5 L1018.3,1012.8 L1018.9,1011.2 L1019.5,1010.0 L1020.0,1009.9 L1020.6,1009.8 L1021.2,1009.7 L1021.7,1009.7 L1022.3,1009.1 L1022.8,1008.5 L1023.4,1007.4 L1024.0,1007.0 L1024.5,1007.5 L1025.1,1007.2 L1025.7,1005.9 L1026.2,1004.8 L1026.8,1005.0 L1027.4,1005.6 L1027.9,1004.5 L1028.5,1002.6 L1029.0,1002.4 L1029.6,1003.9 L1030.2,1003.3 L1030.7,1001.9 L1031.3,1002.7 L1031.9,1002.4 L1032.4,1000.2 L1033.0,999.2 L1033.6,999.3 L1034.1,998.6 L1034.7,997.3 L1035.2,996.4 L1035.8,996.1 L1036.4,996.1 L1036.9,996.4 L1037.5,996.0 L1038.1,994.6 L1038.6,993.3 L1039.2,993.2 L1039.7,993.5 L1040.3,992.4 L1040.9,991.6 L1041.4,991.9 L1042.0,992.0 L1042.6,992.2 L1043.1,992.3 L1043.7,991.0 L1044.3,990.3 L1044.8,990.2 L1045.4,989.9 L1045.9,990.3 L1046.5,990.1 L1047.1,988.5 L1047.6,987.6 L1048.2,988.3 L1048.8,987.6 L1049.3,986.4 L1049.9,986.1 L1050.5,986.3 L1051.0,987.9 L1051.6,988.3 L1052.1,987.0 L1052.7,986.7 L1053.3,986.9 L1053.8,986.1 L1054.4,984.5 L1055.0,984.2 L1055.5,984.6 L1056.1,984.1 L1056.6,983.9 L1057.2,984.2 L1057.8,984.0 L1058.3,983.6 L1058.9,983.0 L1059.5,982.9 L1060.0,982.8 L1060.6,982.4 L1061.2,982.6 L1061.7,982.2 L1062.3,981.1 L1062.8,980.8 L1063.4,980.8 L1064.0,980.2 L1064.5,980.5 L1065.1,981.4 L1065.7,981.2 L1066.2,980.4 L1066.8,980.6 L1067.4,981.5 L1067.9,981.6 L1068.5,981.0 L1069.0,980.0 L1069.6,978.4 L1070.2,977.6 L1070.7,977.9 L1071.3,978.7 L1071.9,979.3 L1072.4,978.8 L1073.0,977.4 L1073.6,976.5 L1074.1,977.4 L1074.7,978.7 L1075.2,979.1 L1075.8,979.5 L1076.4,979.7 L1076.9,979.3 L1077.5,978.1 L1078.1,977.5 L1078.6,977.8 L1079.2,977.3 L1079.7,977.2 L1080.3,977.9 L1080.9,977.8 L1081.4,978.4 L1082.0,979.5 L1082.6,979.6 L1083.1,979.7 L1083.7,980.1 L1084.3,980.1 L1084.8,979.9 L1085.4,980.1 L1085.9,980.8 L1086.5,981.3 L1087.1,981.6 L1087.6,980.8 L1088.2,980.1 L1088.8,980.3 L1089.3,980.4 L1089.9,980.8 L1090.5,981.6 L1091.0,981.6 L1091.6,980.8 L1092.1,980.5 L1092.7,980.1 L1093.3,979.9 L1093.8,980.8 L1094.4,981.1 L1095.0,981.2 L1095.5,982.7 L1096.1,984.2 L1096.6,984.5 L1097.2,983.4 L1097.8,982.8 L1098.3,983.4 L1098.9,984.5 L1099.5,985.3 L1100.0,986.7 L1100.6,988.3 L1101.2,988.3 L1101.7,988.6 L1102.3,988.6 L1102.8,987.9 L1103.4,989.4 L1104.0,990.8 L1104.5,990.0 L1105.1,989.2 L1105.7,989.4 L1106.2,989.2 L1106.8,988.9 L1107.4,990.0 L1107.9,991.2 L1108.5,990.5 L1109.0,989.8 L1109.6,991.1 L1110.2,991.8 L1110.7,990.8 L1111.3,990.1 L1111.9,990.1 L1112.4,990.8 L1113.0,991.3 L1113.5,990.7 L1114.1,991.1 L1114.7,991.8 L1115.2,990.0 L1115.8,989.5 L1116.4,991.3 L1116.9,991.4 L1117.5,991.3 L1118.1,993.3 L1118.6,994.6 L1119.2,994.0 L1119.7,993.3 L1120.3,992.6 L1120.9,991.8 L1121.4,992.3 L1122.0,993.0 L1122.6,991.7 L1123.1,990.3 L1123.7,990.4 L1124.3,991.3 L1124.8,991.8 L1125.4,992.2 L1125.9,992.7 L1126.5,992.5 L1127.1,992.1 L1127.6,991.7 L1128.2,992.4 L1128.8,993.5 L1129.3,992.8 L1129.9,992.4 L1130.4,993.6 L1131.0,994.2 L1131.6,994.5 L1132.1,994.2 L1132.7,992.5 L1133.3,991.5 L1133.8,992.0 L1134.4,992.8 L1135.0,993.2 L1135.5,993.5 L1136.1,993.5 L1136.6,992.6 L1137.2,991.9 L1137.8,992.6 L1138.3,993.5 L1138.9,993.8 L1139.5,993.0 L1140.0,992.2 L1140.6,993.6 L1141.2,994.9 L1141.7,993.4 L1142.3,991.8 L1142.8,992.2 L1143.4,992.8 L1144.0,994.2 L1144.5,996.1 L1145.1,996.6 L1145.7,995.6 L1146.2,994.4 L1146.8,993.5 L1147.4,993.4 L1147.9,993.6 L1148.5,993.5 L1149.0,994.1 L1149.6,994.3 L1150.2,994.0 L1150.7,995.5 L1151.3,997.0 L1151.9,995.9 L1152.4,995.6 L1153.0,996.6 L1153.5,995.7 L1154.1,995.0 L1154.7,995.9 L1155.2,995.9 L1155.8,995.2 L1156.4,994.2 L1156.9,993.1 L1157.5,993.9 L1158.1,995.5 L1158.6,995.1 L1159.2,993.1 L1159.7,992.1 L1160.3,992.9 L1160.9,992.9 L1161.4,992.5 L1162.0,993.4 L1162.6,994.8 L1163.1,995.5 L1163.7,994.1 L1164.3,993.1 L1164.8,994.3 L1165.4,995.1 L1165.9,995.1 L1166.5,994.1 L1167.1,993.4 L1167.6,993.6 L1168.2,993.3 L1168.8,993.0 L1169.3,992.7 L1169.9,992.2 L1170.4,992.9 L1171.0,994.2 L1171.6,995.0 L1172.1,994.8 L1172.7,994.1 L1173.3,993.0 L1173.8,991.3 L1174.4,991.6 L1175.0,993.6 L1175.5,993.7 L1176.1,993.6 L1176.6,995.0 L1177.2,994.7 L1177.8,993.8 L1178.3,994.5 L1178.9,994.8 L1179.5,994.1 L1180.0,993.5 L1180.6,993.4 L1181.2,993.3 L1181.7,993.2 L1182.3,993.1 L1182.8,993.2 L1183.4,994.4 L1184.0,995.8 L1184.5,996.3 L1185.1,995.8 L1185.7,994.3 L1186.2,992.9 L1186.8,993.2 L1187.3,994.3 L1187.9,994.7 L1188.5,994.4 L1189.0,994.1 L1189.6,994.5 L1190.2,994.8 L1190.7,993.8 L1191.3,993.5 L1191.9,994.6 L1192.4,995.0 L1193.0,994.8 L1193.5,994.1 L1194.1,994.4 L1194.7,994.9 L1195.2,993.0 L1195.8,991.5 L1196.4,991.7 L1196.9,992.0 L1197.5,993.4 L1198.1,994.4 L1198.6,993.5 L1199.2,993.5 L1199.7,993.8 L1200.3,992.6 L1200.9,992.4 L1201.4,992.7 L1202.0,992.6 L1202.6,992.8 L1203.1,992.9 L1203.7,992.9 L1204.3,993.0 L1204.8,992.7 L1205.4,991.7 L1205.9,991.2 L1206.5,991.6 L1207.1,992.8 L1207.6,992.8 L1208.2,993.0 L1208.8,994.7 L1209.3,993.9 L1209.9,991.8 L1210.4,991.2 L1211.0,991.5 L1211.6,991.9 L1212.1,992.2 L1212.7,993.1 L1213.3,994.2 L1213.8,994.3 L1214.4,993.5 L1215.0,993.0 L1215.5,994.2 L1216.1,995.9 L1216.6,995.2 L1217.2,993.1 L1217.8,992.2 L1218.3,992.7 L1218.9,993.8 L1219.5,993.3 L1220.0,991.7 L1220.6,991.3 L1221.2,990.4 L1221.7,989.9 L1222.3,991.2 L1222.8,992.1 L1223.4,992.4 L1224.0,992.5 L1224.5,992.0 L1225.1,991.4 L1225.7,990.9 L1226.2,990.0 L1226.8,990.1 L1227.3,990.8 L1227.9,991.3 L1228.5,992.2 L1229.0,992.8 L1229.6,992.8 L1230.2,992.2 L1230.7,990.8 L1231.3,989.9 L1231.9,990.1 L1232.4,990.9 L1233.0,991.5 L1233.5,992.2 L1234.1,992.3 L1234.7,991.4 L1235.2,991.4 L1235.8,991.9 L1236.4,992.0 L1236.9,992.5 L1237.5,992.4 L1238.1,992.0 L1238.6,992.3 L1239.2,991.9 L1239.7,990.7 L1240.3,989.9 L1240.9,990.0 L1241.4,991.1 L1242.0,992.3 L1242.6,992.4 L1243.1,992.0 L1243.7,990.8 L1244.2,989.9 L1244.8,990.6 L1245.4,991.6 L1245.9,991.5 L1246.5,991.6 L1247.1,992.1 L1247.6,991.4 L1248.2,991.0 L1248.8,991.5 L1249.3,991.5 L1249.9,991.4 L1250.4,991.9 L1251.0,991.6 L1251.6,990.6 L1252.1,989.8 L1252.7,989.9 L1253.3,991.7 L1253.8,992.3 L1254.4,990.5 L1255.0,990.1 L1255.5,991.7 L1256.1,992.3 L1256.6,992.2 L1257.2,992.4 L1257.8,992.6 L1258.3,992.8 L1258.9,992.7 L1259.5,992.6 L1260.0,991.2 L1260.6,989.8 L1261.2,990.1 L1261.7,990.5 L1262.3,991.3 L1262.8,992.2 L1263.4,991.8 L1264.0,990.5 L1264.5,989.6 L1265.1,989.8 L1265.7,991.0 L1266.2,991.2 L1266.8,990.1 L1267.3,988.7 L1267.9,988.8 L1268.5,990.8 L1269.0,992.3 L1269.6,991.8 L1270.2,990.1 L1270.7,990.2 L1271.3,991.0 L1271.9,991.7 L1272.4,993.1 L1273.0,992.3 L1273.5,990.1 L1274.1,989.5 L1274.7,990.4 L1275.2,990.7 L1275.8,989.4 L1276.4,989.0 L1276.9,990.4 L1277.5,990.7 L1278.1,990.2 L1278.6,989.9 L1279.2,989.8 L1279.7,990.3 L1280.3,990.6 L1280.9,990.4 L1281.4,990.3 L1282.0,990.1 L1282.6,989.5 L1283.1,989.3 L1283.7,989.9 L1284.2,989.6 L1284.8,988.8 L1285.4,989.3 L1285.9,989.3 L1286.5,988.7 L1287.1,988.7 L1287.6,989.0 L1288.2,989.5 L1288.8,989.9 L1289.3,988.8 L1289.9,987.7 L1290.4,988.7 L1291.0,989.9 L1291.6,989.8 L1292.1,989.7 L1292.7,989.4 L1293.3,989.4 L1293.8,989.3 L1294.4,988.3 L1295.0,988.1 L1295.5,988.0 L1296.1,987.5 L1296.6,987.1 L1297.2,988.0 L1297.8,989.5 L1298.3,990.2 L1298.9,990.7 L1299.5,989.8 L1300.0,988.1 L1300.6,987.4 L1301.1,987.7 L1301.7,988.6 L1302.3,988.8 L1302.8,988.3 L1303.4,987.4 L1304.0,987.4 L1304.5,987.2 L1305.1,986.3 L1305.7,987.8 L1306.2,989.2 L1306.8,988.6 L1307.3,988.2 L1307.9,988.8 L1308.5,989.0 L1309.0,988.4 L1309.6,988.2 L1310.2,987.6 L1310.7,988.3 L1311.3,990.3 L1311.9,991.2 L1312.4,990.7 L1313.0,989.8 L1313.5,989.4 L1314.1,989.8 L1314.7,990.1 L1315.2,989.2 L1315.8,989.1 L1316.4,990.4 L1316.9,990.5 L1317.5,989.9 L1318.0,990.1 L1318.6,989.5 L1319.2,988.2 L1319.7,988.0 L1320.3,989.2 L1320.9,989.5 L1321.4,988.6 L1322.0,989.3 L1322.6,990.7 L1323.1,991.0 L1323.7,990.0 L1324.2,988.8 L1324.8,989.3 L1325.4,991.1 L1325.9,991.7 L1326.5,991.1 L1327.1,991.4 L1327.6,991.5 L1328.2,990.7 L1328.8,990.5 L1329.3,989.7 L1329.9,989.9 L1330.4,991.5 L1331.0,991.9 L1331.6,991.8 L1332.1,990.8 L1332.7,990.3 L1333.3,990.5 L1333.8,989.7 L1334.4,990.5 L1335.0,991.6 L1335.5,990.8 L1336.1,990.5 L1336.6,991.3 L1337.2,991.6 L1337.8,991.2 L1338.3,990.1 L1338.9,990.2 L1339.5,990.5 L1340.0,990.5 L1340.6,991.4 L1341.1,990.7 L1341.7,989.4 L1342.3,989.5 L1342.8,989.5 L1343.4,990.2 L1344.0,991.2 L1344.5,991.1 L1345.1,990.9 L1345.7,991.3 L1346.2,991.8 L1346.8,992.2 L1347.3,992.1 L1347.9,991.0 L1348.5,990.1 L1349.0,990.7 L1349.6,991.5 L1350.2,990.8 L1350.7,991.0 L1351.3,991.8 L1351.9,990.9 L1352.4,989.9 L1353.0,989.7 L1353.5,989.6 L1354.1,989.4 L1354.7,989.7 L1355.2,991.3 L1355.8,992.7 L1356.4,992.1 L1356.9,991.0 L1357.5,990.8 L1358.0,990.1 L1358.6,989.9 L1359.2,989.7 L1359.7,989.7 L1360.3,990.5 L1360.9,990.7 L1361.4,991.1 L1362.0,991.4 L1362.6,990.9 L1363.1,990.8 L1363.7,990.9 L1364.2,991.4 L1364.8,991.6 L1365.4,991.6 L1365.9,991.5 L1366.5,991.7 L1367.1,991.7 L1367.6,991.3 L1368.2,992.0 L1368.8,991.8 L1369.3,990.2 L1369.9,989.5 L1370.4,989.9 L1371.0,989.5 L1371.6,989.4 L1372.1,991.2 L1372.7,992.4 L1373.3,991.6 L1373.8,990.5 L1374.4,989.9 L1374.9,989.5 L1375.5,989.8 L1376.1,991.0 L1376.6,992.0 L1377.2,991.1 L1377.8,989.2 L1378.3,989.1 L1378.9,990.2 L1379.5,991.0 L1380.0,991.3 L1380.6,991.4 L1381.1,992.3 L1381.7,993.0 L1382.3,992.1 L1382.8,991.1 L1383.4,990.8" fill="none" stroke="#E5450C" stroke-width="3.6" stroke-linejoin="round" stroke-linecap="round" />
<path d="M820.6,1042.8 L821.2,1042.8 L821.7,1042.8 L822.3,1042.8 L822.9,1042.8 L823.4,1042.8 L824.0,1042.8 L824.5,1042.8 L825.1,1042.8 L825.7,1042.8 L826.2,1042.8 L826.8,1042.8 L827.4,1042.8 L827.9,1042.8 L828.5,1042.8 L829.1,1042.8 L829.6,1042.8 L830.2,1042.8 L830.7,1042.8 L831.3,1042.8 L831.9,1042.8 L832.4,1042.8 L833.0,1042.8 L833.6,1042.8 L834.1,1042.8 L834.7,1042.8 L835.2,1042.8 L835.8,1042.8 L836.4,1042.8 L836.9,1042.8 L837.5,1042.8 L838.1,1042.8 L838.6,1042.8 L839.2,1042.8 L839.8,1042.8 L840.3,1042.8 L840.9,1042.8 L841.4,1042.8 L842.0,1042.8 L842.6,1042.8 L843.1,1042.8 L843.7,1042.8 L844.3,1042.8 L844.8,1042.8 L845.4,1042.8 L846.0,1042.8 L846.5,1042.8 L847.1,1042.8 L847.6,1042.8 L848.2,1042.8 L848.8,1042.8 L849.3,1042.8 L849.9,1042.8 L850.5,1042.8 L851.0,1042.8 L851.6,1042.8 L852.1,1042.8 L852.7,1042.8 L853.3,1042.8 L853.8,1042.8 L854.4,1042.8 L855.0,1042.8 L855.5,1042.8 L856.1,1042.8 L856.7,1042.8 L857.2,1042.8 L857.8,1042.8 L858.3,1042.8 L858.9,1042.8 L859.5,1042.8 L860.0,1042.8 L860.6,1042.8 L861.2,1042.8 L861.7,1042.8 L862.3,1042.8 L862.9,1042.8 L863.4,1042.8 L864.0,1042.8 L864.5,1042.8 L865.1,1042.8 L865.7,1042.8 L866.2,1042.8 L866.8,1042.8 L867.4,1042.8 L867.9,1042.8 L868.5,1042.8 L869.0,1042.8 L869.6,1042.8 L870.2,1042.8 L870.7,1042.8 L871.3,1042.8 L871.9,1042.8 L872.4,1042.8 L873.0,1042.8 L873.6,1042.8 L874.1,1042.8 L874.7,1042.8 L875.2,1042.8 L875.8,1042.8 L876.4,1042.8 L876.9,1042.8 L877.5,1042.8 L878.1,1042.8 L878.6,1042.8 L879.2,1042.8 L879.8,1042.8 L880.3,1042.8 L880.9,1042.8 L881.4,1042.8 L882.0,1042.8 L882.6,1042.8 L883.1,1042.8 L883.7,1042.8 L884.3,1042.8 L884.8,1042.8 L885.4,1042.8 L886.0,1042.8 L886.5,1042.8 L887.1,1042.8 L887.6,1042.8 L888.2,1042.8 L888.8,1042.8 L889.3,1042.8 L889.9,1042.8 L890.5,1042.8 L891.0,1042.8 L891.6,1042.8 L892.1,1042.8 L892.7,1042.8 L893.3,1042.8 L893.8,1042.8 L894.4,1042.8 L895.0,1042.8 L895.5,1042.8 L896.1,1042.8 L896.7,1042.8 L897.2,1042.8 L897.8,1042.8 L898.3,1042.8 L898.9,1042.8 L899.5,1042.8 L900.0,1042.8 L900.6,1042.8 L901.2,1042.8 L901.7,1042.8 L902.3,1042.8 L902.9,1042.8 L903.4,1042.8 L904.0,1042.8 L904.5,1042.8 L905.1,1042.8 L905.7,1042.8 L906.2,1042.8 L906.8,1042.8 L907.4,1042.8 L907.9,1042.8 L908.5,1042.8 L909.0,1042.8 L909.6,1042.8 L910.2,1042.8 L910.7,1042.8 L911.3,1042.2 L911.9,1037.9 L912.4,1030.5 L913.0,1021.4 L913.6,1010.9 L914.1,994.8 L914.7,973.9 L915.2,949.9 L915.8,924.8 L916.4,900.3 L916.9,878.2 L917.5,858.2 L918.1,837.6 L918.6,817.2 L919.2,797.6 L919.8,779.8 L920.3,764.5 L920.9,752.5 L921.4,742.1 L922.0,732.6 L922.6,724.8 L923.1,719.3 L923.7,716.5 L924.3,714.3 L924.8,712.9 L925.4,712.5 L925.9,714.2 L926.5,717.8 L927.1,722.3 L927.6,728.7 L928.2,738.7 L928.8,750.8 L929.3,763.2 L929.9,776.0 L930.5,790.3 L931.0,805.8 L931.6,821.6 L932.1,837.1 L932.7,851.6 L933.3,865.1 L933.8,875.3 L934.4,885.5 L935.0,895.1 L935.5,903.6 L936.1,912.8 L936.7,922.7 L937.2,930.0 L937.8,934.5 L938.3,938.7 L938.9,944.4 L939.5,950.1 L940.0,954.6 L940.6,958.5 L941.2,962.4 L941.7,966.8 L942.3,970.3 L942.8,972.2 L943.4,975.2 L944.0,978.7 L944.5,980.2 L945.1,983.0 L945.7,987.6 L946.2,990.4 L946.8,991.1 L947.4,992.6 L947.9,995.8 L948.5,997.7 L949.0,998.2 L949.6,1000.0 L950.2,1000.8 L950.7,999.9 L951.3,1001.0 L951.9,1004.1 L952.4,1006.5 L953.0,1008.5 L953.6,1010.5 L954.1,1011.1 L954.7,1012.0 L955.2,1013.7 L955.8,1014.1 L956.4,1013.4 L956.9,1013.6 L957.5,1014.0 L958.1,1014.7 L958.6,1016.4 L959.2,1018.1 L959.8,1018.6 L960.3,1017.7 L960.9,1017.0 L961.4,1017.4 L962.0,1018.3 L962.6,1019.6 L963.1,1020.3 L963.7,1020.9 L964.3,1020.6 L964.8,1019.3 L965.4,1019.9 L965.9,1022.1 L966.5,1022.9 L967.1,1023.3 L967.6,1023.7 L968.2,1023.8 L968.8,1024.3 L969.3,1024.6 L969.9,1024.7 L970.5,1025.0 L971.0,1025.7 L971.6,1026.1 L972.1,1025.8 L972.7,1025.3 L973.3,1024.8 L973.8,1023.9 L974.4,1023.0 L975.0,1023.5 L975.5,1024.4 L976.1,1024.7 L976.7,1024.6 L977.2,1023.9 L977.8,1024.6 L978.3,1025.7 L978.9,1024.9 L979.5,1025.4 L980.0,1027.4 L980.6,1027.2 L981.2,1026.8 L981.7,1027.6 L982.3,1027.4 L982.8,1026.5 L983.4,1025.4 L984.0,1024.0 L984.5,1023.5 L985.1,1024.3 L985.7,1024.6 L986.2,1024.7 L986.8,1025.5 L987.4,1026.8 L987.9,1027.4 L988.5,1026.1 L989.0,1024.0 L989.6,1023.0 L990.2,1023.4 L990.7,1024.3 L991.3,1024.3 L991.9,1022.9 L992.4,1022.7 L993.0,1023.9 L993.6,1024.4 L994.1,1023.9 L994.7,1022.6 L995.2,1022.5 L995.8,1022.9 L996.4,1022.5 L996.9,1022.5 L997.5,1023.3 L998.1,1024.1 L998.6,1024.5 L999.2,1023.8 L999.7,1021.4 L1000.3,1020.5 L1000.9,1022.0 L1001.4,1021.7 L1002.0,1021.1 L1002.6,1021.4 L1003.1,1021.3 L1003.7,1020.7 L1004.3,1019.9 L1004.8,1019.8 L1005.4,1019.5 L1005.9,1018.9 L1006.5,1019.8 L1007.1,1020.6 L1007.6,1019.3 L1008.2,1017.8 L1008.8,1017.6 L1009.3,1017.9 L1009.9,1018.0 L1010.5,1017.0 L1011.0,1016.0 L1011.6,1015.3 L1012.1,1014.6 L1012.7,1015.6 L1013.3,1017.0 L1013.8,1016.3 L1014.4,1014.5 L1015.0,1013.6 L1015.5,1013.1 L1016.1,1012.4 L1016.7,1011.4 L1017.2,1011.5 L1017.8,1012.4 L1018.3,1011.8 L1018.9,1011.4 L1019.5,1011.5 L1020.0,1010.0 L1020.6,1008.8 L1021.2,1009.2 L1021.7,1009.6 L1022.3,1009.8 L1022.8,1009.8 L1023.4,1009.3 L1024.0,1008.7 L1024.5,1008.2 L1025.1,1007.6 L1025.7,1006.5 L1026.2,1006.0 L1026.8,1006.3 L1027.4,1006.2 L1027.9,1007.2 L1028.5,1007.3 L1029.0,1005.2 L1029.6,1003.6 L1030.2,1003.5 L1030.7,1003.9 L1031.3,1002.8 L1031.9,1001.1 L1032.4,1000.1 L1033.0,999.9 L1033.6,999.9 L1034.1,1000.0 L1034.7,999.5 L1035.2,998.3 L1035.8,997.6 L1036.4,997.9 L1036.9,997.3 L1037.5,995.1 L1038.1,993.6 L1038.6,993.8 L1039.2,994.1 L1039.7,993.6 L1040.3,992.5 L1040.9,991.4 L1041.4,990.9 L1042.0,991.6 L1042.6,992.6 L1043.1,992.7 L1043.7,992.6 L1044.3,991.6 L1044.8,989.6 L1045.4,989.5 L1045.9,989.7 L1046.5,988.5 L1047.1,988.7 L1047.6,989.4 L1048.2,988.7 L1048.8,988.5 L1049.3,989.4 L1049.9,989.6 L1050.5,988.1 L1051.0,988.0 L1051.6,988.7 L1052.1,987.0 L1052.7,985.9 L1053.3,986.3 L1053.8,986.2 L1054.4,986.3 L1055.0,986.4 L1055.5,985.4 L1056.1,984.7 L1056.6,985.4 L1057.2,985.0 L1057.8,984.5 L1058.3,984.9 L1058.9,985.2 L1059.5,985.4 L1060.0,984.8 L1060.6,983.5 L1061.2,983.2 L1061.7,982.3 L1062.3,980.8 L1062.8,981.6 L1063.4,982.4 L1064.0,982.3 L1064.5,981.7 L1065.1,980.9 L1065.7,980.7 L1066.2,979.8 L1066.8,979.9 L1067.4,980.7 L1067.9,980.4 L1068.5,979.4 L1069.0,978.5 L1069.6,979.7 L1070.2,981.6 L1070.7,982.2 L1071.3,981.7 L1071.9,981.0 L1072.4,981.0 L1073.0,981.1 L1073.6,980.5 L1074.1,979.2 L1074.7,979.0 L1075.2,980.3 L1075.8,980.9 L1076.4,981.0 L1076.9,981.5 L1077.5,981.4 L1078.1,980.4 L1078.6,979.4 L1079.2,979.7 L1079.7,980.0 L1080.3,979.4 L1080.9,979.5 L1081.4,979.9 L1082.0,980.2 L1082.6,980.4 L1083.1,979.9 L1083.7,979.9 L1084.3,981.1 L1084.8,981.1 L1085.4,979.9 L1085.9,978.9 L1086.5,978.7 L1087.1,980.0 L1087.6,980.9 L1088.2,981.2 L1088.8,981.0 L1089.3,981.1 L1089.9,982.0 L1090.5,982.2 L1091.0,981.9 L1091.6,981.8 L1092.1,981.5 L1092.7,981.2 L1093.3,981.6 L1093.8,982.6 L1094.4,983.8 L1095.0,984.8 L1095.5,985.0 L1096.1,984.4 L1096.6,984.1 L1097.2,985.1 L1097.8,985.7 L1098.3,985.5 L1098.9,986.3 L1099.5,987.3 L1100.0,987.2 L1100.6,988.3 L1101.2,990.4 L1101.7,990.4 L1102.3,989.3 L1102.8,989.6 L1103.4,990.3 L1104.0,989.7 L1104.5,988.9 L1105.1,989.3 L1105.7,989.3 L1106.2,989.4 L1106.8,990.1 L1107.4,990.4 L1107.9,991.0 L1108.5,991.8 L1109.0,991.6 L1109.6,990.8 L1110.2,991.2 L1110.7,992.2 L1111.3,991.7 L1111.9,990.1 L1112.4,990.3 L1113.0,991.7 L1113.5,992.9 L1114.1,993.2 L1114.7,992.2 L1115.2,992.2 L1115.8,992.6 L1116.4,991.5 L1116.9,991.5 L1117.5,993.0 L1118.1,993.4 L1118.6,992.9 L1119.2,992.6 L1119.7,993.3 L1120.3,993.4 L1120.9,992.1 L1121.4,991.4 L1122.0,991.2 L1122.6,991.5 L1123.1,992.5 L1123.7,992.5 L1124.3,992.0 L1124.8,992.2 L1125.4,993.2 L1125.9,993.7 L1126.5,993.7 L1127.1,994.1 L1127.6,994.9 L1128.2,995.1 L1128.8,994.5 L1129.3,994.4 L1129.9,994.3 L1130.4,993.6 L1131.0,992.6 L1131.6,991.9 L1132.1,993.3 L1132.7,994.7 L1133.3,994.4 L1133.8,994.0 L1134.4,994.0 L1135.0,994.5 L1135.5,994.9 L1136.1,994.8 L1136.6,995.4 L1137.2,995.9 L1137.8,995.3 L1138.3,993.9 L1138.9,993.3 L1139.5,994.0 L1140.0,994.3 L1140.6,993.7 L1141.2,992.9 L1141.7,992.5 L1142.3,993.2 L1142.8,993.6 L1143.4,992.7 L1144.0,992.8 L1144.5,994.1 L1145.1,995.1 L1145.7,995.8 L1146.2,995.7 L1146.8,995.4 L1147.4,995.2 L1147.9,995.0 L1148.5,994.9 L1149.0,994.5 L1149.6,994.1 L1150.2,994.4 L1150.7,995.4 L1151.3,995.3 L1151.9,993.5 L1152.4,993.1 L1153.0,994.1 L1153.5,994.9 L1154.1,996.2 L1154.7,996.5 L1155.2,994.8 L1155.8,993.9 L1156.4,995.1 L1156.9,995.0 L1157.5,994.3 L1158.1,995.1 L1158.6,994.6 L1159.2,993.9 L1159.7,994.4 L1160.3,993.4 L1160.9,992.8 L1161.4,994.4 L1162.0,995.2 L1162.6,995.0 L1163.1,995.6 L1163.7,995.1 L1164.3,993.6 L1164.8,994.2 L1165.4,995.9 L1165.9,995.4 L1166.5,994.1 L1167.1,994.4 L1167.6,995.3 L1168.2,994.8 L1168.8,993.9 L1169.3,993.6 L1169.9,994.4 L1170.4,994.7 L1171.0,993.3 L1171.6,992.5 L1172.1,991.5 L1172.7,991.2 L1173.3,993.6 L1173.8,994.8 L1174.4,993.9 L1175.0,994.0 L1175.5,994.8 L1176.1,994.3 L1176.6,993.2 L1177.2,994.2 L1177.8,995.4 L1178.3,995.2 L1178.9,994.9 L1179.5,994.3 L1180.0,994.5 L1180.6,994.5 L1181.2,994.0 L1181.7,993.7 L1182.3,992.9 L1182.8,992.5 L1183.4,993.7 L1184.0,994.2 L1184.5,993.3 L1185.1,992.8 L1185.7,993.1 L1186.2,993.4 L1186.8,993.3 L1187.3,992.9 L1187.9,993.1 L1188.5,993.9 L1189.0,994.0 L1189.6,993.7 L1190.2,993.7 L1190.7,993.2 L1191.3,992.7 L1191.9,993.2 L1192.4,993.9 L1193.0,993.3 L1193.5,991.7 L1194.1,992.1 L1194.7,993.9 L1195.2,993.4 L1195.8,991.3 L1196.4,991.0 L1196.9,991.8 L1197.5,992.5 L1198.1,993.6 L1198.6,993.2 L1199.2,993.0 L1199.7,994.3 L1200.3,993.8 L1200.9,992.0 L1201.4,991.8 L1202.0,992.6 L1202.6,992.1 L1203.1,991.4 L1203.7,992.8 L1204.3,993.8 L1204.8,993.3 L1205.4,992.4 L1205.9,991.6 L1206.5,992.2 L1207.1,992.1 L1207.6,991.1 L1208.2,991.7 L1208.8,992.0 L1209.3,991.4 L1209.9,991.4 L1210.4,991.7 L1211.0,991.8 L1211.6,992.7 L1212.1,993.5 L1212.7,993.0 L1213.3,992.5 L1213.8,992.3 L1214.4,992.4 L1215.0,992.0 L1215.5,990.7 L1216.1,991.2 L1216.6,993.2 L1217.2,993.2 L1217.8,993.6 L1218.3,994.2 L1218.9,992.9 L1219.5,992.4 L1220.0,992.7 L1220.6,992.1 L1221.2,990.8 L1221.7,990.3 L1222.3,990.8 L1222.8,991.2 L1223.4,991.5 L1224.0,992.0 L1224.5,992.3 L1225.1,992.3 L1225.7,992.1 L1226.2,991.3 L1226.8,990.7 L1227.3,990.6 L1227.9,989.5 L1228.5,989.8 L1229.0,992.2 L1229.6,992.6 L1230.2,992.1 L1230.7,992.6 L1231.3,992.7 L1231.9,992.1 L1232.4,991.9 L1233.0,992.1 L1233.5,992.1 L1234.1,992.9 L1234.7,993.0 L1235.2,991.5 L1235.8,991.5 L1236.4,992.1 L1236.9,991.7 L1237.5,992.5 L1238.1,992.9 L1238.6,992.1 L1239.2,992.3 L1239.7,992.0 L1240.3,990.7 L1240.9,989.6 L1241.4,989.6 L1242.0,990.9 L1242.6,991.8 L1243.1,991.3 L1243.7,989.7 L1244.2,989.0 L1244.8,990.2 L1245.4,991.0 L1245.9,990.6 L1246.5,991.1 L1247.1,991.6 L1247.6,991.2 L1248.2,990.5 L1248.8,990.1 L1249.3,989.6 L1249.9,989.3 L1250.4,990.9 L1251.0,993.2 L1251.6,993.1 L1252.1,991.5 L1252.7,990.0 L1253.3,989.2 L1253.8,990.1 L1254.4,990.6 L1255.0,989.7 L1255.5,989.7 L1256.1,990.4 L1256.6,990.9 L1257.2,991.8 L1257.8,991.5 L1258.3,990.7 L1258.9,991.0 L1259.5,990.3 L1260.0,989.5 L1260.6,989.4 L1261.2,989.4 L1261.7,990.7 L1262.3,992.5 L1262.8,992.5 L1263.4,991.1 L1264.0,990.5 L1264.5,991.4 L1265.1,991.7 L1265.7,990.6 L1266.2,990.2 L1266.8,991.6 L1267.3,991.9 L1267.9,991.3 L1268.5,991.7 L1269.0,991.2 L1269.6,991.3 L1270.2,992.0 L1270.7,991.7 L1271.3,991.2 L1271.9,990.5 L1272.4,989.4 L1273.0,989.0 L1273.5,989.7 L1274.1,990.4 L1274.7,990.6 L1275.2,990.0 L1275.8,990.1 L1276.4,991.0 L1276.9,990.6 L1277.5,990.2 L1278.1,990.1 L1278.6,989.4 L1279.2,989.1 L1279.7,989.6 L1280.3,990.0 L1280.9,989.8 L1281.4,989.8 L1282.0,989.9 L1282.6,989.4 L1283.1,989.0 L1283.7,989.2 L1284.2,990.1 L1284.8,990.7 L1285.4,991.0 L1285.9,990.9 L1286.5,990.1 L1287.1,989.5 L1287.6,987.7 L1288.2,986.8 L1288.8,988.1 L1289.3,988.4 L1289.9,988.8 L1290.4,990.1 L1291.0,990.1 L1291.6,988.8 L1292.1,987.9 L1292.7,989.1 L1293.3,990.8 L1293.8,990.9 L1294.4,989.4 L1295.0,988.2 L1295.5,988.4 L1296.1,988.5 L1296.6,988.3 L1297.2,989.0 L1297.8,989.5 L1298.3,990.2 L1298.9,990.6 L1299.5,989.5 L1300.0,988.5 L1300.6,988.9 L1301.1,990.2 L1301.7,990.1 L1302.3,988.8 L1302.8,988.2 L1303.4,988.5 L1304.0,989.5 L1304.5,989.9 L1305.1,989.8 L1305.7,989.7 L1306.2,989.6 L1306.8,988.9 L1307.3,988.2 L1307.9,989.3 L1308.5,990.4 L1309.0,989.4 L1309.6,989.3 L1310.2,990.7 L1310.7,990.8 L1311.3,989.8 L1311.9,989.5 L1312.4,990.5 L1313.0,991.1 L1313.5,990.2 L1314.1,988.6 L1314.7,988.4 L1315.2,989.0 L1315.8,987.8 L1316.4,987.5 L1316.9,988.4 L1317.5,988.5 L1318.0,988.9 L1318.6,989.5 L1319.2,990.2 L1319.7,990.7 L1320.3,991.5 L1320.9,991.9 L1321.4,991.3 L1322.0,990.6 L1322.6,989.5 L1323.1,989.1 L1323.7,989.9 L1324.2,990.2 L1324.8,990.8 L1325.4,991.5 L1325.9,990.8 L1326.5,990.3 L1327.1,990.8 L1327.6,992.0 L1328.2,992.5 L1328.8,991.3 L1329.3,989.7 L1329.9,988.8 L1330.4,988.5 L1331.0,988.7 L1331.6,989.2 L1332.1,989.5 L1332.7,990.0 L1333.3,989.7 L1333.8,988.5 L1334.4,988.0 L1335.0,989.8 L1335.5,990.9 L1336.1,990.3 L1336.6,990.7 L1337.2,991.1 L1337.8,991.2 L1338.3,990.9 L1338.9,989.7 L1339.5,989.9 L1340.0,990.9 L1340.6,991.1 L1341.1,990.8 L1341.7,990.6 L1342.3,991.1 L1342.8,991.8 L1343.4,991.7 L1344.0,991.3 L1344.5,991.1 L1345.1,991.4 L1345.7,991.1 L1346.2,989.6 L1346.8,988.5 L1347.3,990.4 L1347.9,993.1 L1348.5,992.6 L1349.0,991.3 L1349.6,990.2 L1350.2,989.3 L1350.7,990.6 L1351.3,992.3 L1351.9,991.6 L1352.4,990.6 L1353.0,990.1 L1353.5,990.2 L1354.1,990.9 L1354.7,991.2 L1355.2,991.9 L1355.8,991.5 L1356.4,989.8 L1356.9,989.4 L1357.5,991.4 L1358.0,992.4 L1358.6,991.5 L1359.2,990.7 L1359.7,990.4 L1360.3,991.4 L1360.9,991.6 L1361.4,990.5 L1362.0,990.2 L1362.6,990.9 L1363.1,991.2 L1363.7,990.7 L1364.2,990.7 L1364.8,991.2 L1365.4,992.3 L1365.9,992.9 L1366.5,992.0 L1367.1,990.6 L1367.6,989.8 L1368.2,990.1 L1368.8,990.3 L1369.3,989.2 L1369.9,988.9 L1370.4,990.2 L1371.0,990.7 L1371.6,990.8 L1372.1,991.4 L1372.7,991.2 L1373.3,991.1 L1373.8,992.4 L1374.4,992.9 L1374.9,992.5 L1375.5,992.1 L1376.1,990.9 L1376.6,990.6 L1377.2,991.3 L1377.8,991.3 L1378.3,991.6 L1378.9,991.7 L1379.5,990.7 L1380.0,989.9 L1380.6,991.0 L1381.1,992.5 L1381.7,992.0 L1382.3,991.5 L1382.8,992.4 L1383.4,992.4" fill="none" stroke="#CFA511" stroke-width="3.6" stroke-linejoin="round" stroke-linecap="round" />
<path d="M820.6,1042.8 L821.2,1042.8 L821.7,1042.8 L822.3,1042.8 L822.9,1042.8 L823.4,1042.8 L824.0,1042.8 L824.5,1042.8 L825.1,1042.8 L825.7,1042.8 L826.2,1042.8 L826.8,1042.8 L827.4,1042.8 L827.9,1042.8 L828.5,1042.8 L829.1,1042.8 L829.6,1042.8 L830.2,1042.8 L830.7,1042.8 L831.3,1042.8 L831.9,1042.8 L832.4,1042.8 L833.0,1042.8 L833.6,1042.8 L834.1,1042.8 L834.7,1042.8 L835.2,1042.8 L835.8,1042.8 L836.4,1042.8 L836.9,1042.8 L837.5,1042.8 L838.1,1042.8 L838.6,1042.8 L839.2,1042.8 L839.8,1042.8 L840.3,1042.8 L840.9,1042.8 L841.4,1042.8 L842.0,1042.8 L842.6,1042.8 L843.1,1042.8 L843.7,1042.8 L844.3,1042.8 L844.8,1042.8 L845.4,1042.8 L846.0,1042.8 L846.5,1042.8 L847.1,1042.8 L847.6,1042.8 L848.2,1042.8 L848.8,1042.8 L849.3,1042.8 L849.9,1042.8 L850.5,1042.8 L851.0,1042.8 L851.6,1042.8 L852.1,1042.8 L852.7,1042.8 L853.3,1042.8 L853.8,1042.8 L854.4,1042.8 L855.0,1042.8 L855.5,1042.8 L856.1,1042.8 L856.7,1042.8 L857.2,1042.8 L857.8,1042.8 L858.3,1042.8 L858.9,1042.8 L859.5,1042.8 L860.0,1042.8 L860.6,1042.8 L861.2,1042.8 L861.7,1042.8 L862.3,1042.8 L862.9,1042.8 L863.4,1042.8 L864.0,1042.8 L864.5,1042.8 L865.1,1042.8 L865.7,1042.8 L866.2,1042.8 L866.8,1042.8 L867.4,1042.8 L867.9,1042.8 L868.5,1042.8 L869.0,1042.8 L869.6,1042.8 L870.2,1042.8 L870.7,1042.8 L871.3,1042.8 L871.9,1042.8 L872.4,1042.8 L873.0,1042.8 L873.6,1042.8 L874.1,1042.8 L874.7,1042.8 L875.2,1042.8 L875.8,1042.8 L876.4,1042.8 L876.9,1042.8 L877.5,1042.8 L878.1,1042.8 L878.6,1042.8 L879.2,1042.8 L879.8,1042.8 L880.3,1042.8 L880.9,1042.8 L881.4,1042.8 L882.0,1042.8 L882.6,1042.8 L883.1,1042.8 L883.7,1042.8 L884.3,1042.8 L884.8,1042.8 L885.4,1042.8 L886.0,1042.8 L886.5,1042.8 L887.1,1042.8 L887.6,1042.8 L888.2,1042.8 L888.8,1042.8 L889.3,1042.8 L889.9,1042.8 L890.5,1042.8 L891.0,1042.8 L891.6,1042.8 L892.1,1042.8 L892.7,1042.8 L893.3,1042.8 L893.8,1042.8 L894.4,1042.8 L895.0,1042.8 L895.5,1042.8 L896.1,1042.8 L896.7,1042.8 L897.2,1042.8 L897.8,1042.8 L898.3,1042.8 L898.9,1042.8 L899.5,1042.8 L900.0,1042.8 L900.6,1042.8 L901.2,1042.8 L901.7,1042.8 L902.3,1042.8 L902.9,1042.8 L903.4,1042.8 L904.0,1042.8 L904.5,1042.8 L905.1,1042.8 L905.7,1042.8 L906.2,1042.8 L906.8,1042.8 L907.4,1042.8 L907.9,1042.8 L908.5,1042.8 L909.0,1042.8 L909.6,1042.8 L910.2,1042.8 L910.7,1042.8 L911.3,1042.8 L911.9,1042.8 L912.4,1042.8 L913.0,1042.8 L913.6,1042.8 L914.1,1042.8 L914.7,1042.8 L915.2,1042.8 L915.8,1042.8 L916.4,1042.8 L916.9,1042.8 L917.5,1042.8 L918.1,1042.8 L918.6,1042.8 L919.2,1042.8 L919.8,1042.8 L920.3,1042.8 L920.9,1042.8 L921.4,1042.8 L922.0,1042.8 L922.6,1042.8 L923.1,1042.8 L923.7,1042.8 L924.3,1042.8 L924.8,1042.8 L925.4,1042.8 L925.9,1042.8 L926.5,1042.8 L927.1,1042.8 L927.6,1042.8 L928.2,1042.8 L928.8,1042.8 L929.3,1042.8 L929.9,1042.8 L930.5,1042.2 L931.0,1040.8 L931.6,1038.9 L932.1,1036.6 L932.7,1034.2 L933.3,1029.7 L933.8,1027.8 L934.4,1025.6 L935.0,1023.3 L935.5,1019.8 L936.1,1015.4 L936.7,1011.6 L937.2,1006.6 L937.8,1000.9 L938.3,996.0 L938.9,992.2 L939.5,988.1 L940.0,983.0 L940.6,978.5 L941.2,974.2 L941.7,969.9 L942.3,966.4 L942.8,963.1 L943.4,959.7 L944.0,956.8 L944.5,954.1 L945.1,950.6 L945.7,946.9 L946.2,943.0 L946.8,942.0 L947.4,943.2 L947.9,941.9 L948.5,940.7 L949.0,940.2 L949.6,939.0 L950.2,939.4 L950.7,940.2 L951.3,939.2 L951.9,938.6 L952.4,939.8 L953.0,941.3 L953.6,941.2 L954.1,942.4 L954.7,945.8 L955.2,948.1 L955.8,949.9 L956.4,951.5 L956.9,953.0 L957.5,956.8 L958.1,961.6 L958.6,964.4 L959.2,964.8 L959.8,965.6 L960.3,968.8 L960.9,971.4 L961.4,972.9 L962.0,973.8 L962.6,974.7 L963.1,977.4 L963.7,979.4 L964.3,980.6 L964.8,982.8 L965.4,984.2 L965.9,984.4 L966.5,986.0 L967.1,988.6 L967.6,990.6 L968.2,991.4 L968.8,990.8 L969.3,991.0 L969.9,991.8 L970.5,992.8 L971.0,994.4 L971.6,996.0 L972.1,996.5 L972.7,997.6 L973.3,998.8 L973.8,998.8 L974.4,999.0 L975.0,1000.7 L975.5,1002.0 L976.1,1001.2 L976.7,1001.2 L977.2,1003.3 L977.8,1004.9 L978.3,1004.8 L978.9,1005.5 L979.5,1007.3 L980.0,1006.5 L980.6,1005.8 L981.2,1006.5 L981.7,1005.7 L982.3,1006.1 L982.8,1007.3 L983.4,1007.9 L984.0,1008.8 L984.5,1007.3 L985.1,1005.6 L985.7,1005.6 L986.2,1004.9 L986.8,1004.8 L987.4,1004.9 L987.9,1006.3 L988.5,1008.1 L989.0,1006.9 L989.6,1005.7 L990.2,1006.4 L990.7,1005.9 L991.3,1004.1 L991.9,1004.1 L992.4,1004.4 L993.0,1002.3 L993.6,1000.0 L994.1,998.9 L994.7,996.9 L995.2,995.4 L995.8,996.4 L996.4,997.6 L996.9,996.8 L997.5,994.1 L998.1,991.7 L998.6,990.6 L999.2,990.0 L999.7,989.4 L1000.3,988.4 L1000.9,987.7 L1001.4,987.3 L1002.0,987.4 L1002.6,986.7 L1003.1,985.1 L1003.7,984.3 L1004.3,982.9 L1004.8,980.9 L1005.4,978.7 L1005.9,976.3 L1006.5,977.0 L1007.1,978.3 L1007.6,977.3 L1008.2,977.0 L1008.8,976.8 L1009.3,976.0 L1009.9,977.8 L1010.5,978.7 L1011.0,976.3 L1011.6,974.4 L1012.1,973.9 L1012.7,975.2 L1013.3,975.4 L1013.8,974.2 L1014.4,974.9 L1015.0,974.4 L1015.5,973.3 L1016.1,974.3 L1016.7,975.2 L1017.2,974.9 L1017.8,975.1 L1018.3,975.9 L1018.9,975.5 L1019.5,974.1 L1020.0,973.9 L1020.6,976.4 L1021.2,977.9 L1021.7,977.4 L1022.3,977.8 L1022.8,978.2 L1023.4,978.0 L1024.0,978.4 L1024.5,980.0 L1025.1,982.1 L1025.7,984.0 L1026.2,982.7 L1026.8,980.9 L1027.4,982.3 L1027.9,984.1 L1028.5,984.1 L1029.0,982.9 L1029.6,983.4 L1030.2,984.3 L1030.7,983.6 L1031.3,983.0 L1031.9,983.7 L1032.4,983.9 L1033.0,983.0 L1033.6,983.6 L1034.1,985.3 L1034.7,986.1 L1035.2,985.6 L1035.8,985.1 L1036.4,985.2 L1036.9,984.9 L1037.5,984.5 L1038.1,984.4 L1038.6,985.2 L1039.2,987.6 L1039.7,989.1 L1040.3,987.7 L1040.9,986.6 L1041.4,987.0 L1042.0,987.7 L1042.6,988.8 L1043.1,989.8 L1043.7,989.4 L1044.3,988.1 L1044.8,988.8 L1045.4,990.8 L1045.9,991.7 L1046.5,990.3 L1047.1,988.8 L1047.6,989.9 L1048.2,990.8 L1048.8,989.5 L1049.3,988.9 L1049.9,989.7 L1050.5,990.3 L1051.0,990.6 L1051.6,991.2 L1052.1,992.4 L1052.7,993.0 L1053.3,992.4 L1053.8,991.9 L1054.4,993.1 L1055.0,995.3 L1055.5,994.7 L1056.1,993.9 L1056.6,995.0 L1057.2,995.1 L1057.8,994.7 L1058.3,995.7 L1058.9,997.1 L1059.5,997.0 L1060.0,995.8 L1060.6,995.9 L1061.2,997.4 L1061.7,998.3 L1062.3,998.1 L1062.8,998.7 L1063.4,1001.0 L1064.0,1002.0 L1064.5,1001.6 L1065.1,1002.2 L1065.7,1002.3 L1066.2,1001.5 L1066.8,1001.8 L1067.4,1002.6 L1067.9,1003.1 L1068.5,1003.9 L1069.0,1004.2 L1069.6,1005.3 L1070.2,1005.3 L1070.7,1003.9 L1071.3,1004.3 L1071.9,1005.3 L1072.4,1004.7 L1073.0,1004.0 L1073.6,1004.2 L1074.1,1003.9 L1074.7,1003.8 L1075.2,1005.1 L1075.8,1005.9 L1076.4,1005.0 L1076.9,1003.4 L1077.5,1002.6 L1078.1,1003.1 L1078.6,1004.5 L1079.2,1004.8 L1079.7,1004.4 L1080.3,1004.5 L1080.9,1003.8 L1081.4,1003.8 L1082.0,1004.8 L1082.6,1004.6 L1083.1,1003.0 L1083.7,1000.3 L1084.3,999.4 L1084.8,1001.3 L1085.4,1003.4 L1085.9,1004.0 L1086.5,1002.2 L1087.1,1001.2 L1087.6,1001.0 L1088.2,1000.4 L1088.8,1000.8 L1089.3,1000.1 L1089.9,999.3 L1090.5,999.2 L1091.0,997.3 L1091.6,997.0 L1092.1,999.2 L1092.7,999.2 L1093.3,997.1 L1093.8,997.1 L1094.4,997.9 L1095.0,997.2 L1095.5,996.3 L1096.1,995.4 L1096.6,994.4 L1097.2,993.4 L1097.8,992.1 L1098.3,991.9 L1098.9,992.4 L1099.5,992.0 L1100.0,991.6 L1100.6,992.9 L1101.2,993.9 L1101.7,993.0 L1102.3,991.7 L1102.8,991.0 L1103.4,991.4 L1104.0,991.6 L1104.5,990.6 L1105.1,989.9 L1105.7,990.8 L1106.2,991.5 L1106.8,991.4 L1107.4,991.3 L1107.9,991.0 L1108.5,990.5 L1109.0,989.2 L1109.6,988.4 L1110.2,989.5 L1110.7,990.2 L1111.3,989.6 L1111.9,989.6 L1112.4,990.6 L1113.0,990.5 L1113.5,989.1 L1114.1,988.3 L1114.7,988.6 L1115.2,989.4 L1115.8,989.1 L1116.4,987.2 L1116.9,985.9 L1117.5,986.5 L1118.1,986.9 L1118.6,987.2 L1119.2,988.0 L1119.7,987.9 L1120.3,987.1 L1120.9,986.5 L1121.4,987.0 L1122.0,987.0 L1122.6,984.8 L1123.1,983.8 L1123.7,985.1 L1124.3,985.4 L1124.8,984.8 L1125.4,985.4 L1125.9,985.8 L1126.5,984.7 L1127.1,984.3 L1127.6,984.1 L1128.2,984.6 L1128.8,985.5 L1129.3,984.9 L1129.9,984.5 L1130.4,985.5 L1131.0,985.9 L1131.6,986.4 L1132.1,986.1 L1132.7,983.9 L1133.3,983.3 L1133.8,983.7 L1134.4,983.8 L1135.0,984.9 L1135.5,984.1 L1136.1,982.1 L1136.6,983.6 L1137.2,987.9 L1137.8,989.5 L1138.3,986.5 L1138.9,983.9 L1139.5,984.2 L1140.0,984.3 L1140.6,984.1 L1141.2,984.6 L1141.7,983.9 L1142.3,982.9 L1142.8,983.0 L1143.4,983.7 L1144.0,984.2 L1144.5,984.1 L1145.1,983.6 L1145.7,981.7 L1146.2,981.3 L1146.8,984.9 L1147.4,987.3 L1147.9,985.9 L1148.5,983.9 L1149.0,982.8 L1149.6,983.5 L1150.2,985.6 L1150.7,985.6 L1151.3,984.8 L1151.9,985.2 L1152.4,985.0 L1153.0,984.8 L1153.5,984.6 L1154.1,984.3 L1154.7,984.3 L1155.2,985.3 L1155.8,986.6 L1156.4,986.5 L1156.9,986.1 L1157.5,985.6 L1158.1,985.3 L1158.6,986.8 L1159.2,988.1 L1159.7,988.3 L1160.3,987.4 L1160.9,987.0 L1161.4,987.2 L1162.0,986.5 L1162.6,986.8 L1163.1,988.5 L1163.7,989.2 L1164.3,988.0 L1164.8,988.1 L1165.4,989.1 L1165.9,987.1 L1166.5,985.9 L1167.1,987.1 L1167.6,986.7 L1168.2,985.4 L1168.8,986.8 L1169.3,989.4 L1169.9,989.7 L1170.4,989.5 L1171.0,990.9 L1171.6,991.7 L1172.1,990.4 L1172.7,989.9 L1173.3,990.0 L1173.8,989.5 L1174.4,989.3 L1175.0,990.4 L1175.5,990.9 L1176.1,989.4 L1176.6,988.7 L1177.2,989.3 L1177.8,989.0 L1178.3,989.8 L1178.9,990.2 L1179.5,989.8 L1180.0,990.2 L1180.6,990.4 L1181.2,990.6 L1181.7,991.3 L1182.3,992.4 L1182.8,992.0 L1183.4,990.3 L1184.0,990.3 L1184.5,991.3 L1185.1,991.4 L1185.7,991.8 L1186.2,993.1 L1186.8,993.3 L1187.3,992.6 L1187.9,992.8 L1188.5,992.7 L1189.0,992.1 L1189.6,991.9 L1190.2,991.1 L1190.7,989.5 L1191.3,989.1 L1191.9,989.9 L1192.4,991.4 L1193.0,993.1 L1193.5,993.8 L1194.1,994.1 L1194.7,994.6 L1195.2,993.2 L1195.8,990.6 L1196.4,989.4 L1196.9,990.6 L1197.5,992.2 L1198.1,992.4 L1198.6,992.2 L1199.2,991.7 L1199.7,991.4 L1200.3,989.9 L1200.9,988.5 L1201.4,988.6 L1202.0,989.2 L1202.6,991.0 L1203.1,991.8 L1203.7,990.2 L1204.3,990.1 L1204.8,992.0 L1205.4,993.3 L1205.9,993.9 L1206.5,992.9 L1207.1,991.6 L1207.6,992.4 L1208.2,993.8 L1208.8,994.1 L1209.3,992.4 L1209.9,991.2 L1210.4,991.4 L1211.0,992.6 L1211.6,992.9 L1212.1,991.4 L1212.7,991.8 L1213.3,992.4 L1213.8,993.1 L1214.4,994.6 L1215.0,994.0 L1215.5,992.7 L1216.1,991.7 L1216.6,990.9 L1217.2,992.5 L1217.8,994.6 L1218.3,994.0 L1218.9,992.7 L1219.5,993.2 L1220.0,995.0 L1220.6,995.0 L1221.2,993.0 L1221.7,992.2 L1222.3,993.6 L1222.8,993.8 L1223.4,993.5 L1224.0,995.2 L1224.5,993.7 L1225.1,991.0 L1225.7,991.9 L1226.2,993.4 L1226.8,993.4 L1227.3,992.8 L1227.9,993.5 L1228.5,993.3 L1229.0,993.2 L1229.6,993.5 L1230.2,993.3 L1230.7,994.4 L1231.3,994.5 L1231.9,993.6 L1232.4,993.2 L1233.0,992.2 L1233.5,991.9 L1234.1,993.1 L1234.7,994.0 L1235.2,994.0 L1235.8,993.2 L1236.4,992.4 L1236.9,992.5 L1237.5,992.7 L1238.1,993.2 L1238.6,993.4 L1239.2,993.0 L1239.7,993.5 L1240.3,992.6 L1240.9,991.8 L1241.4,993.2 L1242.0,994.2 L1242.6,994.7 L1243.1,994.8 L1243.7,994.7 L1244.2,994.0 L1244.8,993.2 L1245.4,991.8 L1245.9,990.6 L1246.5,991.0 L1247.1,991.6 L1247.6,992.2 L1248.2,993.0 L1248.8,994.2 L1249.3,994.5 L1249.9,992.2 L1250.4,990.1 L1251.0,991.0 L1251.6,991.5 L1252.1,990.8 L1252.7,991.8 L1253.3,993.4 L1253.8,993.9 L1254.4,993.5 L1255.0,991.4 L1255.5,989.8 L1256.1,991.3 L1256.6,993.1 L1257.2,992.8 L1257.8,992.9 L1258.3,993.3 L1258.9,991.8 L1259.5,990.3 L1260.0,990.2 L1260.6,991.1 L1261.2,993.1 L1261.7,992.9 L1262.3,990.0 L1262.8,990.0 L1263.4,991.9 L1264.0,991.5 L1264.5,990.4 L1265.1,990.1 L1265.7,990.5 L1266.2,991.0 L1266.8,990.6 L1267.3,990.4 L1267.9,991.5 L1268.5,994.1 L1269.0,995.0 L1269.6,993.7 L1270.2,992.4 L1270.7,990.6 L1271.3,989.3 L1271.9,989.8 L1272.4,990.5 L1273.0,989.7 L1273.5,989.3 L1274.1,989.8 L1274.7,989.1 L1275.2,988.7 L1275.8,988.6 L1276.4,988.7 L1276.9,989.4 L1277.5,989.8 L1278.1,990.7 L1278.6,991.6 L1279.2,991.0 L1279.7,990.3 L1280.3,990.4 L1280.9,990.6 L1281.4,990.2 L1282.0,988.0 L1282.6,986.9 L1283.1,987.4 L1283.7,987.3 L1284.2,986.8 L1284.8,986.7 L1285.4,988.9 L1285.9,990.0 L1286.5,988.5 L1287.1,989.1 L1287.6,990.6 L1288.2,991.2 L1288.8,991.2 L1289.3,990.6 L1289.9,989.4 L1290.4,987.6 L1291.0,988.3 L1291.6,991.1 L1292.1,991.6 L1292.7,991.3 L1293.3,991.2 L1293.8,990.0 L1294.4,989.3 L1295.0,989.9 L1295.5,989.5 L1296.1,987.8 L1296.6,986.3 L1297.2,986.5 L1297.8,987.5 L1298.3,988.3 L1298.9,988.9 L1299.5,989.3 L1300.0,989.2 L1300.6,989.2 L1301.1,990.3 L1301.7,990.5 L1302.3,989.1 L1302.8,989.1 L1303.4,990.4 L1304.0,990.2 L1304.5,989.0 L1305.1,989.2 L1305.7,989.8 L1306.2,989.6 L1306.8,988.6 L1307.3,987.5 L1307.9,988.6 L1308.5,991.5 L1309.0,992.2 L1309.6,989.7 L1310.2,988.0 L1310.7,988.1 L1311.3,988.7 L1311.9,990.2 L1312.4,990.8 L1313.0,989.4 L1313.5,988.7 L1314.1,989.6 L1314.7,990.7 L1315.2,990.6 L1315.8,989.9 L1316.4,989.6 L1316.9,990.3 L1317.5,991.1 L1318.0,990.2 L1318.6,988.9 L1319.2,989.7 L1319.7,991.3 L1320.3,992.1 L1320.9,990.9 L1321.4,990.1 L1322.0,991.7 L1322.6,991.7 L1323.1,989.4 L1323.7,988.7 L1324.2,989.4 L1324.8,989.1 L1325.4,988.6 L1325.9,988.9 L1326.5,988.9 L1327.1,988.5 L1327.6,988.5 L1328.2,989.2 L1328.8,990.2 L1329.3,990.6 L1329.9,992.0 L1330.4,992.4 L1331.0,991.1 L1331.6,990.8 L1332.1,991.0 L1332.7,990.5 L1333.3,989.3 L1333.8,990.2 L1334.4,991.6 L1335.0,990.5 L1335.5,989.9 L1336.1,990.6 L1336.6,989.3 L1337.2,987.7 L1337.8,988.6 L1338.3,990.4 L1338.9,990.9 L1339.5,991.1 L1340.0,993.5 L1340.6,995.0 L1341.1,993.5 L1341.7,991.2 L1342.3,989.3 L1342.8,990.1 L1343.4,992.3 L1344.0,992.2 L1344.5,991.2 L1345.1,991.7 L1345.7,991.8 L1346.2,991.1 L1346.8,990.7 L1347.3,990.6 L1347.9,989.9 L1348.5,988.5 L1349.0,989.2 L1349.6,990.3 L1350.2,988.9 L1350.7,988.7 L1351.3,989.9 L1351.9,990.8 L1352.4,990.8 L1353.0,990.4 L1353.5,990.2 L1354.1,989.6 L1354.7,990.3 L1355.2,991.7 L1355.8,991.2 L1356.4,989.9 L1356.9,990.0 L1357.5,991.1 L1358.0,991.5 L1358.6,991.9 L1359.2,992.9 L1359.7,992.1 L1360.3,990.3 L1360.9,990.6 L1361.4,991.6 L1362.0,991.1 L1362.6,989.2 L1363.1,988.7 L1363.7,990.1 L1364.2,991.1 L1364.8,990.7 L1365.4,989.2 L1365.9,989.7 L1366.5,990.9 L1367.1,990.1 L1367.6,989.9 L1368.2,990.3 L1368.8,990.9 L1369.3,992.0 L1369.9,991.8 L1370.4,990.8 L1371.0,991.4 L1371.6,991.2 L1372.1,989.7 L1372.7,990.7 L1373.3,992.3 L1373.8,991.9 L1374.4,990.4 L1374.9,989.7 L1375.5,990.0 L1376.1,991.0 L1376.6,992.6 L1377.2,992.7 L1377.8,991.9 L1378.3,991.3 L1378.9,991.8 L1379.5,991.5 L1380.0,989.5 L1380.6,990.4 L1381.1,990.9 L1381.7,989.8 L1382.3,989.8 L1382.8,992.1 L1383.4,994.3" fill="none" stroke="#4862A8" stroke-width="3.6" stroke-linejoin="round" stroke-linecap="round" />
<path d="M820.6,1042.8 L821.2,1042.8 L821.7,1042.8 L822.3,1042.8 L822.9,1042.8 L823.4,1042.8 L824.0,1042.8 L824.5,1042.8 L825.1,1042.8 L825.7,1042.8 L826.2,1042.8 L826.8,1042.8 L827.4,1042.8 L827.9,1042.8 L828.5,1042.8 L829.1,1042.8 L829.6,1042.8 L830.2,1042.8 L830.7,1042.8 L831.3,1042.8 L831.9,1042.8 L832.4,1042.8 L833.0,1042.8 L833.6,1042.8 L834.1,1042.8 L834.7,1042.8 L835.2,1042.8 L835.8,1042.8 L836.4,1042.8 L836.9,1042.8 L837.5,1042.8 L838.1,1042.8 L838.6,1042.8 L839.2,1042.8 L839.8,1042.8 L840.3,1042.8 L840.9,1042.8 L841.4,1042.8 L842.0,1042.8 L842.6,1042.8 L843.1,1042.8 L843.7,1042.8 L844.3,1042.8 L844.8,1042.8 L845.4,1042.8 L846.0,1042.8 L846.5,1042.8 L847.1,1042.8 L847.6,1042.8 L848.2,1042.8 L848.8,1042.8 L849.3,1042.8 L849.9,1042.8 L850.5,1042.8 L851.0,1042.8 L851.6,1042.8 L852.1,1042.8 L852.7,1042.8 L853.3,1042.8 L853.8,1042.8 L854.4,1042.8 L855.0,1042.8 L855.5,1042.8 L856.1,1042.8 L856.7,1042.8 L857.2,1042.8 L857.8,1042.8 L858.3,1042.8 L858.9,1042.8 L859.5,1042.8 L860.0,1042.8 L860.6,1042.8 L861.2,1042.8 L861.7,1042.8 L862.3,1042.8 L862.9,1042.8 L863.4,1042.8 L864.0,1042.8 L864.5,1042.8 L865.1,1042.8 L865.7,1042.8 L866.2,1042.8 L866.8,1042.8 L867.4,1042.8 L867.9,1042.8 L868.5,1042.8 L869.0,1042.8 L869.6,1042.8 L870.2,1042.8 L870.7,1042.8 L871.3,1042.8 L871.9,1042.8 L872.4,1042.8 L873.0,1042.8 L873.6,1042.8 L874.1,1042.8 L874.7,1042.8 L875.2,1042.8 L875.8,1042.8 L876.4,1042.8 L876.9,1042.8 L877.5,1042.8 L878.1,1042.8 L878.6,1042.8 L879.2,1042.8 L879.8,1042.8 L880.3,1042.8 L880.9,1042.8 L881.4,1042.8 L882.0,1042.8 L882.6,1042.8 L883.1,1042.8 L883.7,1042.8 L884.3,1042.8 L884.8,1042.8 L885.4,1042.8 L886.0,1042.8 L886.5,1042.8 L887.1,1042.8 L887.6,1042.8 L888.2,1042.8 L888.8,1042.8 L889.3,1042.8 L889.9,1042.8 L890.5,1042.8 L891.0,1042.8 L891.6,1042.8 L892.1,1042.8 L892.7,1042.8 L893.3,1042.8 L893.8,1042.8 L894.4,1042.8 L895.0,1042.8 L895.5,1042.8 L896.1,1042.8 L896.7,1042.8 L897.2,1042.8 L897.8,1042.8 L898.3,1042.8 L898.9,1042.8 L899.5,1042.8 L900.0,1042.8 L900.6,1042.8 L901.2,1042.8 L901.7,1042.8 L902.3,1042.8 L902.9,1042.8 L903.4,1042.8 L904.0,1042.8 L904.5,1042.8 L905.1,1042.8 L905.7,1042.8 L906.2,1042.8 L906.8,1042.8 L907.4,1042.8 L907.9,1042.8 L908.5,1042.8 L909.0,1042.8 L909.6,1042.8 L910.2,1042.8 L910.7,1042.8 L911.3,1042.8 L911.9,1042.8 L912.4,1042.8 L913.0,1042.8 L913.6,1042.8 L914.1,1042.8 L914.7,1042.8 L915.2,1042.8 L915.8,1042.8 L916.4,1042.8 L916.9,1042.8 L917.5,1042.8 L918.1,1042.8 L918.6,1042.8 L919.2,1042.8 L919.8,1042.8 L920.3,1042.8 L920.9,1042.8 L921.4,1042.8 L922.0,1042.8 L922.6,1042.8 L923.1,1042.8 L923.7,1042.8 L924.3,1042.8 L924.8,1042.8 L925.4,1042.8 L925.9,1042.8 L926.5,1042.8 L927.1,1042.8 L927.6,1042.8 L928.2,1042.8 L928.8,1042.8 L929.3,1042.8 L929.9,1042.8 L930.5,1042.2 L931.0,1040.8 L931.6,1038.9 L932.1,1036.6 L932.7,1034.2 L933.3,1032.4 L933.8,1028.0 L934.4,1024.6 L935.0,1022.5 L935.5,1019.2 L936.1,1016.3 L936.7,1011.8 L937.2,1006.8 L937.8,1003.9 L938.3,999.3 L938.9,992.4 L939.5,986.6 L940.0,981.9 L940.6,977.3 L941.2,972.9 L941.7,968.3 L942.3,965.0 L942.8,961.9 L943.4,958.0 L944.0,953.8 L944.5,948.9 L945.1,945.7 L945.7,945.0 L946.2,945.0 L946.8,944.6 L947.4,942.8 L947.9,940.5 L948.5,939.3 L949.0,939.1 L949.6,939.9 L950.2,941.6 L950.7,942.5 L951.3,938.5 L951.9,933.7 L952.4,934.1 L953.0,936.1 L953.6,937.7 L954.1,940.5 L954.7,943.9 L955.2,946.4 L955.8,947.5 L956.4,949.4 L956.9,951.9 L957.5,955.2 L958.1,959.1 L958.6,961.7 L959.2,964.1 L959.8,967.4 L960.3,970.1 L960.9,971.3 L961.4,972.2 L962.0,972.9 L962.6,974.4 L963.1,976.9 L963.7,979.0 L964.3,981.1 L964.8,982.4 L965.4,982.8 L965.9,983.2 L966.5,985.4 L967.1,987.8 L967.6,988.7 L968.2,990.0 L968.8,992.1 L969.3,994.0 L969.9,993.9 L970.5,992.9 L971.0,994.4 L971.6,997.1 L972.1,999.9 L972.7,1001.4 L973.3,1001.2 L973.8,1000.9 L974.4,1001.5 L975.0,1002.7 L975.5,1002.1 L976.1,1002.1 L976.7,1003.7 L977.2,1004.6 L977.8,1005.4 L978.3,1005.4 L978.9,1004.4 L979.5,1004.6 L980.0,1006.3 L980.6,1006.4 L981.2,1006.4 L981.7,1007.7 L982.3,1008.1 L982.8,1008.3 L983.4,1007.8 L984.0,1006.2 L984.5,1004.4 L985.1,1003.0 L985.7,1003.3 L986.2,1004.7 L986.8,1006.2 L987.4,1006.8 L987.9,1007.5 L988.5,1007.7 L989.0,1005.9 L989.6,1006.3 L990.2,1007.5 L990.7,1006.1 L991.3,1003.9 L991.9,1003.2 L992.4,1003.9 L993.0,1003.7 L993.6,1003.8 L994.1,1003.9 L994.7,1002.7 L995.2,1002.4 L995.8,1002.2 L996.4,1001.1 L996.9,1001.0 L997.5,1000.6 L998.1,1000.3 L998.6,1000.1 L999.2,998.6 L999.7,997.6 L1000.3,997.8 L1000.9,996.2 L1001.4,994.3 L1002.0,994.8 L1002.6,994.3 L1003.1,993.3 L1003.7,993.0 L1004.3,992.6 L1004.8,991.9 L1005.4,990.9 L1005.9,990.8 L1006.5,990.5 L1007.1,989.0 L1007.6,989.1 L1008.2,990.1 L1008.8,990.4 L1009.3,989.8 L1009.9,988.8 L1010.5,987.6 L1011.0,987.6 L1011.6,988.9 L1012.1,988.1 L1012.7,986.3 L1013.3,986.2 L1013.8,985.7 L1014.4,984.9 L1015.0,985.3 L1015.5,986.0 L1016.1,985.4 L1016.7,984.0 L1017.2,984.7 L1017.8,986.2 L1018.3,986.6 L1018.9,986.5 L1019.5,985.3 L1020.0,985.0 L1020.6,986.2 L1021.2,987.6 L1021.7,987.9 L1022.3,986.5 L1022.8,986.2 L1023.4,986.3 L1024.0,986.1 L1024.5,987.1 L1025.1,987.8 L1025.7,988.3 L1026.2,987.1 L1026.8,985.0 L1027.4,985.9 L1027.9,986.8 L1028.5,987.8 L1029.0,989.8 L1029.6,988.8 L1030.2,987.7 L1030.7,988.0 L1031.3,988.4 L1031.9,989.3 L1032.4,988.2 L1033.0,987.9 L1033.6,990.5 L1034.1,990.8 L1034.7,989.2 L1035.2,988.9 L1035.8,989.1 L1036.4,988.7 L1036.9,989.3 L1037.5,990.6 L1038.1,990.9 L1038.6,992.1 L1039.2,994.0 L1039.7,993.1 L1040.3,990.5 L1040.9,989.0 L1041.4,989.4 L1042.0,991.4 L1042.6,991.8 L1043.1,990.9 L1043.7,990.9 L1044.3,990.8 L1044.8,991.4 L1045.4,993.4 L1045.9,995.0 L1046.5,993.2 L1047.1,990.4 L1047.6,989.8 L1048.2,990.8 L1048.8,992.5 L1049.3,993.6 L1049.9,993.6 L1050.5,992.9 L1051.0,992.5 L1051.6,991.7 L1052.1,991.6 L1052.7,993.0 L1053.3,993.9 L1053.8,994.2 L1054.4,993.6 L1055.0,993.8 L1055.5,994.3 L1056.1,993.2 L1056.6,992.5 L1057.2,993.8 L1057.8,995.6 L1058.3,995.9 L1058.9,995.4 L1059.5,995.8 L1060.0,995.9 L1060.6,994.9 L1061.2,994.8 L1061.7,995.2 L1062.3,994.0 L1062.8,994.0 L1063.4,995.4 L1064.0,993.8 L1064.5,993.0 L1065.1,995.0 L1065.7,996.3 L1066.2,996.9 L1066.8,996.6 L1067.4,996.2 L1067.9,996.6 L1068.5,997.6 L1069.0,998.0 L1069.6,997.8 L1070.2,997.9 L1070.7,997.8 L1071.3,997.8 L1071.9,998.1 L1072.4,997.3 L1073.0,997.6 L1073.6,999.0 L1074.1,998.3 L1074.7,998.2 L1075.2,999.2 L1075.8,999.4 L1076.4,999.0 L1076.9,998.0 L1077.5,997.7 L1078.1,997.6 L1078.6,997.0 L1079.2,996.9 L1079.7,996.1 L1080.3,996.1 L1080.9,997.1 L1081.4,995.3 L1082.0,994.2 L1082.6,995.8 L1083.1,996.4 L1083.7,996.5 L1084.3,996.7 L1084.8,997.0 L1085.4,996.8 L1085.9,995.6 L1086.5,995.2 L1087.1,995.2 L1087.6,994.2 L1088.2,994.1 L1088.8,995.4 L1089.3,995.7 L1089.9,993.9 L1090.5,995.0 L1091.0,998.3 L1091.6,998.7 L1092.1,996.7 L1092.7,994.7 L1093.3,994.3 L1093.8,995.5 L1094.4,995.4 L1095.0,995.6 L1095.5,996.4 L1096.1,995.9 L1096.6,995.5 L1097.2,995.5 L1097.8,996.1 L1098.3,997.2 L1098.9,997.0 L1099.5,995.7 L1100.0,995.1 L1100.6,994.7 L1101.2,994.2 L1101.7,995.4 L1102.3,996.5 L1102.8,995.8 L1103.4,995.1 L1104.0,994.2 L1104.5,993.0 L1105.1,992.7 L1105.7,992.6 L1106.2,993.0 L1106.8,993.4 L1107.4,993.1 L1107.9,993.5 L1108.5,994.2 L1109.0,994.6 L1109.6,994.2 L1110.2,993.6 L1110.7,992.2 L1111.3,990.0 L1111.9,989.2 L1112.4,990.8 L1113.0,992.1 L1113.5,992.0 L1114.1,992.5 L1114.7,993.3 L1115.2,993.2 L1115.8,993.1 L1116.4,992.5 L1116.9,991.5 L1117.5,992.3 L1118.1,992.5 L1118.6,991.9 L1119.2,992.8 L1119.7,993.8 L1120.3,992.9 L1120.9,991.3 L1121.4,990.6 L1122.0,991.0 L1122.6,992.0 L1123.1,991.8 L1123.7,991.2 L1124.3,992.0 L1124.8,992.4 L1125.4,992.3 L1125.9,991.7 L1126.5,990.1 L1127.1,990.5 L1127.6,991.8 L1128.2,990.5 L1128.8,990.0 L1129.3,989.5 L1129.9,989.1 L1130.4,990.0 L1131.0,989.7 L1131.6,989.0 L1132.1,989.5 L1132.7,989.9 L1133.3,989.2 L1133.8,989.6 L1134.4,989.7 L1135.0,988.1 L1135.5,989.1 L1136.1,991.6 L1136.6,989.9 L1137.2,986.3 L1137.8,985.8 L1138.3,988.2 L1138.9,990.1 L1139.5,988.8 L1140.0,987.0 L1140.6,987.3 L1141.2,988.6 L1141.7,988.5 L1142.3,987.5 L1142.8,987.4 L1143.4,987.3 L1144.0,986.1 L1144.5,985.5 L1145.1,986.3 L1145.7,988.0 L1146.2,988.6 L1146.8,986.6 L1147.4,985.8 L1147.9,988.0 L1148.5,989.8 L1149.0,988.8 L1149.6,986.2 L1150.2,984.5 L1150.7,984.8 L1151.3,985.3 L1151.9,984.9 L1152.4,985.6 L1153.0,987.7 L1153.5,988.9 L1154.1,988.6 L1154.7,987.8 L1155.2,987.2 L1155.8,987.3 L1156.4,987.6 L1156.9,987.5 L1157.5,986.4 L1158.1,985.1 L1158.6,984.7 L1159.2,983.4 L1159.7,984.2 L1160.3,986.5 L1160.9,986.0 L1161.4,986.3 L1162.0,987.6 L1162.6,986.9 L1163.1,986.3 L1163.7,986.8 L1164.3,987.4 L1164.8,987.0 L1165.4,986.4 L1165.9,987.0 L1166.5,987.6 L1167.1,987.8 L1167.6,987.7 L1168.2,988.3 L1168.8,988.5 L1169.3,986.6 L1169.9,985.8 L1170.4,985.9 L1171.0,986.4 L1171.6,986.6 L1172.1,985.8 L1172.7,986.7 L1173.3,986.9 L1173.8,985.7 L1174.4,985.5 L1175.0,987.1 L1175.5,988.4 L1176.1,988.8 L1176.6,989.7 L1177.2,988.9 L1177.8,987.0 L1178.3,986.0 L1178.9,987.0 L1179.5,988.4 L1180.0,988.9 L1180.6,989.1 L1181.2,988.3 L1181.7,988.1 L1182.3,989.0 L1182.8,989.6 L1183.4,989.8 L1184.0,989.0 L1184.5,988.8 L1185.1,989.9 L1185.7,989.7 L1186.2,988.4 L1186.8,987.4 L1187.3,987.5 L1187.9,989.1 L1188.5,991.1 L1189.0,991.0 L1189.6,988.6 L1190.2,987.4 L1190.7,987.6 L1191.3,988.1 L1191.9,989.6 L1192.4,989.7 L1193.0,989.1 L1193.5,990.0 L1194.1,989.9 L1194.7,989.4 L1195.2,989.0 L1195.8,988.9 L1196.4,990.7 L1196.9,992.5 L1197.5,993.5 L1198.1,993.1 L1198.6,992.0 L1199.2,991.5 L1199.7,991.0 L1200.3,991.0 L1200.9,992.5 L1201.4,993.3 L1202.0,991.7 L1202.6,991.2 L1203.1,992.5 L1203.7,991.7 L1204.3,989.3 L1204.8,988.7 L1205.4,989.3 L1205.9,990.0 L1206.5,991.2 L1207.1,991.7 L1207.6,991.3 L1208.2,991.8 L1208.8,992.2 L1209.3,992.0 L1209.9,991.4 L1210.4,991.4 L1211.0,991.1 L1211.6,990.3 L1212.1,991.9 L1212.7,992.5 L1213.3,991.7 L1213.8,992.7 L1214.4,993.1 L1215.0,994.0 L1215.5,995.6 L1216.1,994.9 L1216.6,993.7 L1217.2,992.9 L1217.8,991.7 L1218.3,990.7 L1218.9,989.8 L1219.5,989.7 L1220.0,990.7 L1220.6,991.5 L1221.2,992.1 L1221.7,993.2 L1222.3,992.5 L1222.8,990.8 L1223.4,991.9 L1224.0,994.1 L1224.5,993.7 L1225.1,991.8 L1225.7,991.1 L1226.2,992.3 L1226.8,994.8 L1227.3,995.3 L1227.9,994.3 L1228.5,994.1 L1229.0,993.5 L1229.6,992.8 L1230.2,992.6 L1230.7,992.6 L1231.3,992.0 L1231.9,991.8 L1232.4,993.0 L1233.0,993.5 L1233.5,992.1 L1234.1,991.8 L1234.7,992.3 L1235.2,993.4 L1235.8,994.2 L1236.4,993.5 L1236.9,993.9 L1237.5,993.8 L1238.1,992.3 L1238.6,992.3 L1239.2,992.2 L1239.7,990.9 L1240.3,991.6 L1240.9,994.2 L1241.4,994.1 L1242.0,992.7 L1242.6,994.7 L1243.1,996.4 L1243.7,994.0 L1244.2,991.8 L1244.8,991.4 L1245.4,992.1 L1245.9,992.7 L1246.5,992.4 L1247.1,992.6 L1247.6,992.7 L1248.2,992.1 L1248.8,992.3 L1249.3,992.5 L1249.9,991.1 L1250.4,990.3 L1251.0,992.2 L1251.6,994.4 L1252.1,993.3 L1252.7,992.5 L1253.3,992.7 L1253.8,992.5 L1254.4,992.4 L1255.0,991.0 L1255.5,990.8 L1256.1,991.2 L1256.6,990.1 L1257.2,990.1 L1257.8,991.5 L1258.3,992.3 L1258.9,990.7 L1259.5,988.9 L1260.0,990.0 L1260.6,991.2 L1261.2,989.5 L1261.7,988.2 L1262.3,989.5 L1262.8,991.7 L1263.4,993.2 L1264.0,992.9 L1264.5,991.8 L1265.1,990.5 L1265.7,990.4 L1266.2,992.1 L1266.8,993.0 L1267.3,992.6 L1267.9,991.5 L1268.5,990.5 L1269.0,990.9 L1269.6,990.2 L1270.2,989.9 L1270.7,990.5 L1271.3,989.9 L1271.9,990.4 L1272.4,991.8 L1273.0,991.7 L1273.5,990.1 L1274.1,990.0 L1274.7,991.3 L1275.2,990.6 L1275.8,990.3 L1276.4,991.0 L1276.9,990.5 L1277.5,990.1 L1278.1,989.6 L1278.6,989.5 L1279.2,989.3 L1279.7,987.7 L1280.3,988.1 L1280.9,990.9 L1281.4,992.0 L1282.0,990.9 L1282.6,989.6 L1283.1,988.6 L1283.7,987.3 L1284.2,987.1 L1284.8,988.1 L1285.4,988.8 L1285.9,989.5 L1286.5,989.1 L1287.1,987.9 L1287.6,988.6 L1288.2,989.5 L1288.8,989.3 L1289.3,988.6 L1289.9,988.3 L1290.4,989.4 L1291.0,990.1 L1291.6,989.6 L1292.1,989.8 L1292.7,989.6 L1293.3,988.7 L1293.8,989.7 L1294.4,990.3 L1295.0,987.8 L1295.5,986.0 L1296.1,985.0 L1296.6,985.6 L1297.2,988.8 L1297.8,989.8 L1298.3,988.4 L1298.9,988.0 L1299.5,989.1 L1300.0,988.9 L1300.6,988.4 L1301.1,989.2 L1301.7,988.6 L1302.3,987.8 L1302.8,988.3 L1303.4,988.4 L1304.0,989.6 L1304.5,991.1 L1305.1,990.6 L1305.7,989.8 L1306.2,989.6 L1306.8,989.2 L1307.3,988.7 L1307.9,988.7 L1308.5,989.3 L1309.0,989.9 L1309.6,990.1 L1310.2,990.3 L1310.7,989.7 L1311.3,989.5 L1311.9,990.8 L1312.4,991.3 L1313.0,991.7 L1313.5,990.9 L1314.1,989.5 L1314.7,989.1 L1315.2,989.1 L1315.8,990.4 L1316.4,991.2 L1316.9,990.9 L1317.5,990.7 L1318.0,990.8 L1318.6,990.8 L1319.2,989.9 L1319.7,989.1 L1320.3,989.7 L1320.9,990.5 L1321.4,991.2 L1322.0,992.2 L1322.6,993.1 L1323.1,992.5 L1323.7,992.2 L1324.2,992.4 L1324.8,991.3 L1325.4,991.4 L1325.9,992.3 L1326.5,991.6 L1327.1,990.3 L1327.6,990.0 L1328.2,989.5 L1328.8,987.7 L1329.3,988.2 L1329.9,990.5 L1330.4,991.0 L1331.0,991.9 L1331.6,993.0 L1332.1,991.6 L1332.7,990.2 L1333.3,990.9 L1333.8,990.7 L1334.4,989.3 L1335.0,989.5 L1335.5,989.6 L1336.1,988.6 L1336.6,989.6 L1337.2,991.8 L1337.8,992.5 L1338.3,991.7 L1338.9,990.3 L1339.5,989.2 L1340.0,989.3 L1340.6,990.8 L1341.1,991.4 L1341.7,990.3 L1342.3,990.8 L1342.8,992.6 L1343.4,992.6 L1344.0,991.1 L1344.5,989.9 L1345.1,990.5 L1345.7,990.7 L1346.2,990.5 L1346.8,991.9 L1347.3,991.3 L1347.9,989.0 L1348.5,989.7 L1349.0,991.1 L1349.6,990.2 L1350.2,989.0 L1350.7,990.2 L1351.3,990.8 L1351.9,990.7 L1352.4,991.9 L1353.0,992.5 L1353.5,992.5 L1354.1,992.4 L1354.7,991.5 L1355.2,991.5 L1355.8,992.2 L1356.4,991.0 L1356.9,989.7 L1357.5,990.2 L1358.0,990.4 L1358.6,991.0 L1359.2,992.1 L1359.7,992.1 L1360.3,991.2 L1360.9,989.7 L1361.4,988.1 L1362.0,988.8 L1362.6,991.2 L1363.1,992.6 L1363.7,993.9 L1364.2,993.7 L1364.8,991.0 L1365.4,991.2 L1365.9,993.2 L1366.5,991.2 L1367.1,988.7 L1367.6,989.4 L1368.2,990.6 L1368.8,991.4 L1369.3,992.8 L1369.9,993.6 L1370.4,992.9 L1371.0,991.9 L1371.6,991.3 L1372.1,989.9 L1372.7,988.9 L1373.3,989.5 L1373.8,990.5 L1374.4,992.1 L1374.9,991.9 L1375.5,989.5 L1376.1,988.9 L1376.6,990.0 L1377.2,992.1 L1377.8,992.8 L1378.3,992.1 L1378.9,993.2 L1379.5,993.1 L1380.0,992.0 L1380.6,991.1 L1381.1,990.1 L1381.7,991.3 L1382.3,992.8 L1382.8,992.6 L1383.4,993.0" fill="none" stroke="#33896C" stroke-width="3.6" stroke-linejoin="round" stroke-linecap="round" />
<text x="807.6" y="1048.2" font-size="28.4" fill="#000" text-anchor="end" font-weight="normal"  transform="matrix(1 0 0 1.035 0 -36.687)">0</text>
<text x="807.6" y="943.3399999999999" font-size="28.4" fill="#000" text-anchor="end" font-weight="normal"  transform="matrix(1 0 0 1.035 0 -33.017)">2</text>
<text x="807.6" y="838.4799999999999" font-size="28.4" fill="#000" text-anchor="end" font-weight="normal"  transform="matrix(1 0 0 1.035 0 -29.347)">4</text>
<text x="807.6" y="733.62" font-size="28.4" fill="#000" text-anchor="end" font-weight="normal"  transform="matrix(1 0 0 1.035 0 -25.677)">6</text>
<text x="807.6" y="628.7599999999999" font-size="28.4" fill="#000" text-anchor="end" font-weight="normal"  transform="matrix(1 0 0 1.035 0 -22.007)">8</text>
<text x="819.1" y="1077.1" font-size="28.4" fill="#000" text-anchor="middle" font-weight="normal"  transform="matrix(1 0 0 1.035 0 -37.698)">0.0</text>
<text x="1006.7" y="1077.1" font-size="28.4" fill="#000" text-anchor="middle" font-weight="normal"  transform="matrix(1 0 0 1.035 0 -37.698)">0.5</text>
<text x="1194.3" y="1077.1" font-size="28.4" fill="#000" text-anchor="middle" font-weight="normal"  transform="matrix(1 0 0 1.035 0 -37.698)">1.0</text>
<text x="1381.9" y="1077.1" font-size="28.4" fill="#000" text-anchor="middle" font-weight="normal"  transform="matrix(1 0 0 1.035 0 -37.698)">1.5</text>
<text x="1104.6" y="1117.8" font-size="28.4" fill="#000" text-anchor="middle" font-weight="normal"  transform="matrix(1 0 0 1.035 0 -39.123)">Distance (Å)</text>
<text x="775.3" y="832" font-size="28.4" fill="#000" text-anchor="middle" transform="rotate(-90 775.3 832) matrix(1 0 0 1.035 0 -29.120)">g (r)</text>
<text x="936.6" y="682.3" font-size="28.4" fill="#E5450C" text-anchor="start" transform="matrix(1 0 0 1.035 0 -23.880)">K<tspan dy="13.5" font-size="24">2</tspan><tspan dy="-13.5">S-ES</tspan></text>
<text x="959.8" y="776.8" font-size="28.4" fill="#CFA511" text-anchor="start" transform="matrix(1 0 0 1.035 0 -27.188)">K<tspan dy="13.5" font-size="24">2</tspan><tspan dy="-13.5">S</tspan><tspan dy="13.5" font-size="24">2</tspan><tspan dy="-13.5">-ES</tspan></text>
<text x="999" y="915.1" font-size="28.4" fill="#4862A8" text-anchor="start" transform="matrix(1 0 0 1.035 0 -32.028)">K<tspan dy="13.5" font-size="24">2</tspan><tspan dy="-13.5">S-TEGDME</tspan></text>
<text x="1139.8" y="959.9" font-size="28.4" fill="#33896C" text-anchor="start" transform="matrix(1 0 0 1.035 0 -33.596)">K<tspan dy="13.5" font-size="24">2</tspan><tspan dy="-13.5">S</tspan><tspan dy="13.5" font-size="24">2</tspan><tspan dy="-13.5">-TEGDME</tspan></text>
<text x="1264.8" y="682.7" font-size="28.4" fill="#000" text-anchor="start" font-weight="normal"  transform="matrix(1 0 0 1.035 0 -23.894)">C-O-K</text>
<rect x="1457.7" y="625.5" width="565.8" height="417.0999999999999" fill="none" stroke="#000" stroke-width="2.5" stroke-linejoin="miter"/>
<line x1="1457.7" y1="1042.6" x2="1457.7" y2="1050.6" stroke="#000" stroke-width="2.5" />
<line x1="1740.6" y1="1042.6" x2="1740.6" y2="1050.6" stroke="#000" stroke-width="2.5" />
<line x1="2023.5" y1="1042.6" x2="2023.5" y2="1050.6" stroke="#000" stroke-width="2.5" />
<line x1="1599.15" y1="1042.6" x2="1599.15" y2="1047.1" stroke="#000" stroke-width="2.5" />
<line x1="1882.05" y1="1042.6" x2="1882.05" y2="1047.1" stroke="#000" stroke-width="2.5" />
<line x1="1714.6" y1="627.6" x2="1717.8" y2="1040.5" stroke="#000" stroke-width="3.6" stroke-dasharray="3.6 4.6"/>
<path d="M1457.7,648.1 L1458.1,648.0 L1458.5,647.9 L1458.9,647.8 L1459.3,647.6 L1459.7,647.3 L1460.1,647.6 L1460.5,647.2 L1460.9,647.7 L1461.3,647.6 L1461.8,647.8 L1462.2,647.6 L1462.6,647.9 L1463.0,647.7 L1463.4,647.9 L1463.8,647.7 L1464.2,647.7 L1464.6,647.9 L1465.0,647.6 L1465.4,647.1 L1465.8,647.2 L1466.2,647.1 L1466.6,646.5 L1467.0,646.5 L1467.4,646.7 L1467.8,646.4 L1468.2,646.2 L1468.6,646.6 L1469.1,647.1 L1469.5,647.1 L1469.9,647.2 L1470.3,647.7 L1470.7,647.9 L1471.1,647.6 L1471.5,647.8 L1471.9,648.2 L1472.3,648.1 L1472.7,647.7 L1473.1,647.9 L1473.5,647.8 L1473.9,647.8 L1474.3,647.6 L1474.7,647.6 L1475.1,647.3 L1475.5,646.9 L1475.9,646.6 L1476.4,647.1 L1476.8,647.1 L1477.2,647.6 L1477.6,648.2 L1478.0,648.4 L1478.4,648.4 L1478.8,648.8 L1479.2,648.1 L1479.6,648.1 L1480.0,648.1 L1480.4,647.6 L1480.8,647.5 L1481.2,647.7 L1481.6,647.8 L1482.0,647.6 L1482.4,648.0 L1482.8,648.0 L1483.2,647.9 L1483.7,647.9 L1484.1,648.0 L1484.5,648.1 L1484.9,647.9 L1485.3,648.4 L1485.7,648.4 L1486.1,648.4 L1486.5,648.5 L1486.9,648.9 L1487.3,649.1 L1487.7,648.6 L1488.1,648.9 L1488.5,648.8 L1488.9,648.5 L1489.3,647.9 L1489.7,648.6 L1490.1,648.0 L1490.5,648.1 L1491.0,648.4 L1491.4,648.3 L1491.8,647.9 L1492.2,647.9 L1492.6,647.8 L1493.0,647.9 L1493.4,648.8 L1493.8,648.4 L1494.2,648.6 L1494.6,648.7 L1495.0,648.7 L1495.4,648.4 L1495.8,648.6 L1496.2,648.8 L1496.6,648.7 L1497.0,648.2 L1497.4,648.0 L1497.8,648.2 L1498.3,648.2 L1498.7,648.2 L1499.1,648.2 L1499.5,648.1 L1499.9,647.9 L1500.3,648.1 L1500.7,648.1 L1501.1,647.8 L1501.5,648.4 L1501.9,648.6 L1502.3,648.8 L1502.7,648.9 L1503.1,649.1 L1503.5,648.4 L1503.9,648.6 L1504.3,648.7 L1504.7,648.4 L1505.1,648.4 L1505.5,648.9 L1506.0,648.3 L1506.4,647.6 L1506.8,647.7 L1507.2,647.9 L1507.6,648.0 L1508.0,648.2 L1508.4,648.5 L1508.8,648.4 L1509.2,648.5 L1509.6,647.7 L1510.0,647.3 L1510.4,647.3 L1510.8,647.3 L1511.2,647.4 L1511.6,648.0 L1512.0,648.7 L1512.4,648.8 L1512.8,649.2 L1513.3,649.1 L1513.7,648.8 L1514.1,648.4 L1514.5,648.1 L1514.9,647.7 L1515.3,647.6 L1515.7,647.8 L1516.1,648.1 L1516.5,648.2 L1516.9,648.1 L1517.3,648.2 L1517.7,648.4 L1518.1,648.6 L1518.5,648.9 L1518.9,649.2 L1519.3,649.1 L1519.7,649.5 L1520.1,649.5 L1520.6,649.8 L1521.0,650.5 L1521.4,650.5 L1521.8,650.1 L1522.2,650.1 L1522.6,649.8 L1523.0,649.4 L1523.4,649.7 L1523.8,649.6 L1524.2,649.2 L1524.6,649.0 L1525.0,648.7 L1525.4,648.7 L1525.8,648.6 L1526.2,649.1 L1526.6,649.3 L1527.0,649.6 L1527.4,649.7 L1527.9,649.8 L1528.3,649.5 L1528.7,649.3 L1529.1,649.1 L1529.5,649.1 L1529.9,649.1 L1530.3,649.4 L1530.7,649.1 L1531.1,649.4 L1531.5,649.1 L1531.9,648.9 L1532.3,648.7 L1532.7,648.9 L1533.1,648.7 L1533.5,648.7 L1533.9,648.6 L1534.3,648.4 L1534.7,648.9 L1535.2,648.8 L1535.6,648.6 L1536.0,648.8 L1536.4,648.6 L1536.8,648.7 L1537.2,648.3 L1537.6,648.7 L1538.0,648.8 L1538.4,648.8 L1538.8,648.4 L1539.2,649.0 L1539.6,649.0 L1540.0,648.9 L1540.4,649.5 L1540.8,649.5 L1541.2,649.3 L1541.6,649.2 L1542.0,649.3 L1542.5,648.8 L1542.9,649.0 L1543.3,648.8 L1543.7,648.6 L1544.1,648.5 L1544.5,649.2 L1544.9,649.2 L1545.3,649.2 L1545.7,649.7 L1546.1,649.5 L1546.5,649.1 L1546.9,648.9 L1547.3,648.4 L1547.7,648.3 L1548.1,648.2 L1548.5,648.1 L1548.9,647.7 L1549.3,647.9 L1549.7,647.6 L1550.2,648.1 L1550.6,648.7 L1551.0,649.0 L1551.4,649.7 L1551.8,649.8 L1552.2,649.2 L1552.6,648.8 L1553.0,648.9 L1553.4,648.6 L1553.8,648.7 L1554.2,649.3 L1554.6,649.1 L1555.0,648.6 L1555.4,648.7 L1555.8,648.6 L1556.2,648.4 L1556.6,648.8 L1557.0,649.6 L1557.5,649.5 L1557.9,649.8 L1558.3,650.1 L1558.7,650.0 L1559.1,649.9 L1559.5,649.9 L1559.9,649.9 L1560.3,650.2 L1560.7,650.3 L1561.1,649.9 L1561.5,650.2 L1561.9,650.3 L1562.3,650.0 L1562.7,649.7 L1563.1,650.3 L1563.5,649.9 L1563.9,649.8 L1564.3,649.8 L1564.8,649.8 L1565.2,649.8 L1565.6,650.2 L1566.0,649.9 L1566.4,650.1 L1566.8,650.4 L1567.2,649.7 L1567.6,649.6 L1568.0,650.0 L1568.4,650.1 L1568.8,650.3 L1569.2,650.8 L1569.6,651.2 L1570.0,651.2 L1570.4,651.4 L1570.8,651.5 L1571.2,651.6 L1571.6,651.7 L1572.1,651.6 L1572.5,651.3 L1572.9,651.7 L1573.3,651.8 L1573.7,651.7 L1574.1,652.1 L1574.5,652.2 L1574.9,652.0 L1575.3,651.9 L1575.7,652.1 L1576.1,651.7 L1576.5,652.2 L1576.9,652.0 L1577.3,651.9 L1577.7,651.8 L1578.1,652.1 L1578.5,651.9 L1578.9,651.8 L1579.4,652.3 L1579.8,653.3 L1580.2,653.1 L1580.6,653.2 L1581.0,653.5 L1581.4,653.4 L1581.8,652.2 L1582.2,652.3 L1582.6,652.4 L1583.0,652.5 L1583.4,652.9 L1583.8,653.2 L1584.2,653.6 L1584.6,654.3 L1585.0,654.2 L1585.4,653.6 L1585.8,653.9 L1586.2,653.9 L1586.7,653.5 L1587.1,653.8 L1587.5,653.9 L1587.9,654.1 L1588.3,654.8 L1588.7,655.0 L1589.1,654.5 L1589.5,654.7 L1589.9,654.6 L1590.3,654.2 L1590.7,654.0 L1591.1,655.2 L1591.5,655.6 L1591.9,656.2 L1592.3,656.2 L1592.7,656.3 L1593.1,656.1 L1593.5,656.4 L1593.9,656.4 L1594.4,656.5 L1594.8,657.0 L1595.2,657.1 L1595.6,657.0 L1596.0,656.9 L1596.4,657.0 L1596.8,656.7 L1597.2,656.2 L1597.6,656.7 L1598.0,657.2 L1598.4,657.5 L1598.8,658.1 L1599.2,659.1 L1599.6,659.2 L1600.0,658.6 L1600.4,658.8 L1600.8,658.9 L1601.2,659.4 L1601.7,660.0 L1602.1,661.2 L1602.5,661.2 L1602.9,660.8 L1603.3,660.8 L1603.7,660.6 L1604.1,660.7 L1604.5,661.2 L1604.9,662.0 L1605.3,661.8 L1605.7,662.2 L1606.1,662.1 L1606.5,662.5 L1606.9,662.8 L1607.3,663.5 L1607.7,663.7 L1608.1,664.1 L1608.5,664.5 L1609.0,664.8 L1609.4,665.0 L1609.8,665.1 L1610.2,665.4 L1610.6,665.8 L1611.0,666.1 L1611.4,666.4 L1611.8,666.7 L1612.2,667.1 L1612.6,667.4 L1613.0,667.8 L1613.4,668.2 L1613.8,668.6 L1614.2,669.0 L1614.6,669.4 L1615.0,669.9 L1615.4,670.4 L1615.8,670.9 L1616.3,671.5 L1616.7,672.1 L1617.1,672.7 L1617.5,673.3 L1617.9,673.9 L1618.3,674.6 L1618.7,675.2 L1619.1,675.9 L1619.5,676.6 L1619.9,677.2 L1620.3,677.9 L1620.7,678.5 L1621.1,679.2 L1621.5,679.8 L1621.9,680.4 L1622.3,680.9 L1622.7,681.5 L1623.1,682.1 L1623.6,682.7 L1624.0,683.4 L1624.4,684.0 L1624.8,684.7 L1625.2,685.5 L1625.6,686.2 L1626.0,687.1 L1626.4,688.0 L1626.8,688.9 L1627.2,690.0 L1627.6,691.3 L1628.0,692.7 L1628.4,694.2 L1628.8,695.8 L1629.2,697.5 L1629.6,699.3 L1630.0,701.1 L1630.4,703.1 L1630.9,705.0 L1631.3,707.2 L1631.7,709.5 L1632.1,712.0 L1632.5,714.7 L1632.9,717.5 L1633.3,720.3 L1633.7,723.2 L1634.1,726.1 L1634.5,729.0 L1634.9,731.8 L1635.3,734.7 L1635.7,737.7 L1636.1,740.8 L1636.5,743.8 L1636.9,746.9 L1637.3,750.0 L1637.7,753.1 L1638.1,756.1 L1638.6,759.1 L1639.0,761.9 L1639.4,764.7 L1639.8,767.5 L1640.2,770.2 L1640.6,772.9 L1641.0,775.6 L1641.4,778.2 L1641.8,780.9 L1642.2,783.4 L1642.6,786.0 L1643.0,788.5 L1643.4,791.0 L1643.8,793.5 L1644.2,796.0 L1644.6,798.5 L1645.0,800.9 L1645.4,803.3 L1645.9,805.6 L1646.3,807.9 L1646.7,810.2 L1647.1,812.4 L1647.5,814.6 L1647.9,816.8 L1648.3,818.9 L1648.7,821.1 L1649.1,823.3 L1649.5,825.4 L1649.9,827.4 L1650.3,829.3 L1650.7,831.2 L1651.1,833.0 L1651.5,834.6 L1651.9,836.1 L1652.3,837.5 L1652.7,839.0 L1653.2,840.5 L1653.6,842.0 L1654.0,843.3 L1654.4,844.6 L1654.8,845.7 L1655.2,846.5 L1655.6,847.1 L1656.0,847.4 L1656.4,847.3 L1656.8,847.1 L1657.2,846.7 L1657.6,846.2 L1658.0,845.5 L1658.4,844.7 L1658.8,843.9 L1659.2,843.1 L1659.6,842.2 L1660.0,841.3 L1660.5,840.5 L1660.9,839.7 L1661.3,839.0 L1661.7,838.4 L1662.1,837.7 L1662.5,837.1 L1662.9,836.5 L1663.3,835.9 L1663.7,835.3 L1664.1,834.7 L1664.5,834.0 L1664.9,833.4 L1665.3,832.8 L1665.7,832.1 L1666.1,831.4 L1666.5,830.7 L1666.9,830.0 L1667.3,829.2 L1667.8,828.4 L1668.2,827.6 L1668.6,826.7 L1669.0,825.8 L1669.4,824.8 L1669.8,823.7 L1670.2,822.5 L1670.6,821.2 L1671.0,819.8 L1671.4,818.3 L1671.8,816.8 L1672.2,815.2 L1672.6,813.5 L1673.0,811.8 L1673.4,810.0 L1673.8,808.1 L1674.2,806.3 L1674.6,804.3 L1675.1,802.2 L1675.5,799.9 L1675.9,797.5 L1676.3,795.0 L1676.7,792.5 L1677.1,789.9 L1677.5,787.2 L1677.9,784.5 L1678.3,781.9 L1678.7,779.3 L1679.1,776.8 L1679.5,774.3 L1679.9,771.9 L1680.3,769.4 L1680.7,766.8 L1681.1,764.3 L1681.5,761.8 L1681.9,759.3 L1682.3,756.8 L1682.8,754.3 L1683.2,751.9 L1683.6,749.5 L1684.0,747.1 L1684.4,744.8 L1684.8,742.5 L1685.2,740.3 L1685.6,738.2 L1686.0,736.1 L1686.4,734.0 L1686.8,731.9 L1687.2,729.8 L1687.6,727.7 L1688.0,725.7 L1688.4,723.8 L1688.8,721.8 L1689.2,720.0 L1689.6,718.2 L1690.1,716.4 L1690.5,714.8 L1690.9,713.2 L1691.3,711.7 L1691.7,710.3 L1692.1,708.9 L1692.5,707.5 L1692.9,706.2 L1693.3,704.9 L1693.7,703.6 L1694.1,702.3 L1694.5,701.1 L1694.9,700.0 L1695.3,698.9 L1695.7,697.9 L1696.1,697.0 L1696.5,696.2 L1696.9,695.5 L1697.4,694.9 L1697.8,694.4 L1698.2,694.0 L1698.6,693.5 L1699.0,693.2 L1699.4,692.8 L1699.8,692.5 L1700.2,692.2 L1700.6,691.9 L1701.0,691.6 L1701.4,691.3 L1701.8,691.1 L1702.2,690.8 L1702.6,690.6 L1703.0,690.4 L1703.4,690.1 L1703.8,689.9 L1704.2,689.6 L1704.7,689.4 L1705.1,689.1 L1705.5,688.8 L1705.9,688.5 L1706.3,688.2 L1706.7,687.9 L1707.1,687.6 L1707.5,687.3 L1707.9,686.9 L1708.3,686.6 L1708.7,686.3 L1709.1,686.0 L1709.5,685.7 L1709.9,685.3 L1710.3,685.0 L1710.7,684.7 L1711.1,684.4 L1711.5,684.1 L1712.0,683.8 L1712.4,683.5 L1712.8,683.2 L1713.2,683.0 L1713.6,682.7 L1714.0,682.4 L1714.4,682.1 L1714.8,681.9 L1715.2,681.6 L1715.6,681.3 L1716.0,681.0 L1716.4,680.8 L1716.8,680.5 L1717.2,680.3 L1717.6,680.0 L1718.0,679.8 L1718.4,679.6 L1718.8,679.4 L1719.3,679.2 L1719.7,679.0 L1720.1,678.9 L1720.5,678.8 L1720.9,678.6 L1721.3,678.5 L1721.7,678.4 L1722.1,678.3 L1722.5,678.1 L1722.9,678.0 L1723.3,677.9 L1723.7,677.9 L1724.1,677.8 L1724.5,677.7 L1724.9,677.7 L1725.3,677.7 L1725.7,677.7 L1726.1,677.7 L1726.5,677.7 L1727.0,677.8 L1727.4,677.8 L1727.8,677.8 L1728.2,677.9 L1728.6,677.9 L1729.0,678.0 L1729.4,678.0 L1729.8,678.1 L1730.2,678.2 L1730.6,678.2 L1731.0,678.3 L1731.4,678.4 L1731.8,678.5 L1732.2,678.5 L1732.6,678.6 L1733.0,678.7 L1733.4,678.8 L1733.8,679.0 L1734.3,679.1 L1734.7,679.3 L1735.1,679.4 L1735.5,679.6 L1735.9,679.8 L1736.3,680.0 L1736.7,680.3 L1737.1,680.5 L1737.5,680.8 L1737.9,681.1 L1738.3,681.5 L1738.7,682.0 L1739.1,682.6 L1739.5,683.4 L1739.9,684.2 L1740.3,685.2 L1740.7,686.2 L1741.1,687.3 L1741.6,688.5 L1742.0,689.7 L1742.4,690.9 L1742.8,692.5 L1743.2,694.3 L1743.6,696.3 L1744.0,698.6 L1744.4,701.0 L1744.8,703.5 L1745.2,706.1 L1745.6,708.7 L1746.0,711.2 L1746.4,713.7 L1746.8,716.0 L1747.2,718.2 L1747.6,720.2 L1748.0,721.9 L1748.4,723.6 L1748.9,725.4 L1749.3,727.2 L1749.7,729.0 L1750.1,730.8 L1750.5,732.4 L1750.9,733.9 L1751.3,735.1 L1751.7,736.2 L1752.1,736.9 L1752.5,737.4 L1752.9,737.5 L1753.3,737.2 L1753.7,736.5 L1754.1,735.5 L1754.5,734.3 L1754.9,733.0 L1755.3,731.6 L1755.7,730.3 L1756.2,729.0 L1756.6,727.9 L1757.0,727.1 L1757.4,726.4 L1757.8,725.7 L1758.2,725.0 L1758.6,724.4 L1759.0,723.8 L1759.4,723.3 L1759.8,723.0 L1760.2,722.7 L1760.6,722.7 L1761.0,722.7 L1761.4,722.7 L1761.8,722.8 L1762.2,722.8 L1762.6,722.9 L1763.0,723.0 L1763.4,723.1 L1763.9,723.2 L1764.3,723.4 L1764.7,723.5 L1765.1,723.7 L1765.5,723.8 L1765.9,724.0 L1766.3,724.2 L1766.7,724.6 L1767.1,725.1 L1767.5,725.8 L1767.9,726.6 L1768.3,727.6 L1768.7,728.6 L1769.1,729.7 L1769.5,730.8 L1769.9,732.0 L1770.3,733.1 L1770.7,734.3 L1771.2,735.4 L1771.6,736.8 L1772.0,738.4 L1772.4,740.2 L1772.8,742.1 L1773.2,744.1 L1773.6,746.1 L1774.0,748.0 L1774.4,749.9 L1774.8,751.6 L1775.2,753.1 L1775.6,754.3 L1776.0,755.2 L1776.4,755.7 L1776.8,755.8 L1777.2,755.3 L1777.6,754.4 L1778.0,753.0 L1778.5,751.4 L1778.9,749.6 L1779.3,747.6 L1779.7,745.7 L1780.1,743.8 L1780.5,742.1 L1780.9,740.3 L1781.3,738.3 L1781.7,736.1 L1782.1,733.8 L1782.5,731.6 L1782.9,729.6 L1783.3,727.8 L1783.7,726.5 L1784.1,725.8 L1784.5,725.6 L1784.9,725.6 L1785.3,725.7 L1785.8,725.8 L1786.2,725.9 L1786.6,726.0 L1787.0,726.2 L1787.4,726.4 L1787.8,726.6 L1788.2,726.8 L1788.6,727.0 L1789.0,727.3 L1789.4,727.6 L1789.8,727.8 L1790.2,728.1 L1790.6,728.4 L1791.0,728.7 L1791.4,729.0 L1791.8,729.4 L1792.2,729.8 L1792.6,730.2 L1793.1,730.8 L1793.5,731.3 L1793.9,732.0 L1794.3,732.6 L1794.7,733.4 L1795.1,734.1 L1795.5,734.9 L1795.9,735.7 L1796.3,736.5 L1796.7,737.3 L1797.1,738.1 L1797.5,739.0 L1797.9,739.8 L1798.3,740.7 L1798.7,741.8 L1799.1,743.1 L1799.5,744.4 L1799.9,745.8 L1800.4,747.3 L1800.8,748.8 L1801.2,750.2 L1801.6,751.6 L1802.0,752.9 L1802.4,754.0 L1802.8,755.0 L1803.2,755.7 L1803.6,756.3 L1804.0,756.5 L1804.4,756.4 L1804.8,756.0 L1805.2,755.3 L1805.6,754.3 L1806.0,753.2 L1806.4,751.9 L1806.8,750.5 L1807.2,749.1 L1807.6,747.7 L1808.1,746.4 L1808.5,745.1 L1808.9,743.9 L1809.3,742.4 L1809.7,740.8 L1810.1,739.1 L1810.5,737.4 L1810.9,735.7 L1811.3,734.1 L1811.7,732.7 L1812.1,731.5 L1812.5,730.6 L1812.9,730.0 L1813.3,729.8 L1813.7,730.0 L1814.1,730.6 L1814.5,731.4 L1814.9,732.4 L1815.4,733.5 L1815.8,734.6 L1816.2,735.7 L1816.6,736.5 L1817.0,737.2 L1817.4,737.5 L1817.8,737.5 L1818.2,737.3 L1818.6,737.0 L1819.0,736.7 L1819.4,736.3 L1819.8,736.0 L1820.2,735.7 L1820.6,735.5 L1821.0,735.4 L1821.4,735.6 L1821.8,736.1 L1822.2,736.8 L1822.7,737.6 L1823.1,738.5 L1823.5,739.3 L1823.9,739.9 L1824.3,740.2 L1824.7,740.3 L1825.1,739.9 L1825.5,739.2 L1825.9,738.3 L1826.3,737.1 L1826.7,735.9 L1827.1,734.5 L1827.5,733.1 L1827.9,731.7 L1828.3,730.4 L1828.7,729.2 L1829.1,728.2 L1829.5,727.5 L1830.0,727.1 L1830.4,727.0 L1830.8,727.4 L1831.2,728.2 L1831.6,729.3 L1832.0,730.5 L1832.4,731.8 L1832.8,733.1 L1833.2,734.3 L1833.6,735.2 L1834.0,735.9 L1834.4,736.1 L1834.8,735.5 L1835.2,733.8 L1835.6,731.4 L1836.0,728.5 L1836.4,725.4 L1836.8,722.3 L1837.3,719.5 L1837.7,717.1 L1838.1,714.6 L1838.5,712.0 L1838.9,709.4 L1839.3,706.9 L1839.7,704.7 L1840.1,703.0 L1840.5,701.9 L1840.9,701.4 L1841.3,701.1 L1841.7,700.8 L1842.1,700.6 L1842.5,700.4 L1842.9,700.3 L1843.3,700.2 L1843.7,700.2 L1844.1,700.4 L1844.6,700.8 L1845.0,701.2 L1845.4,701.7 L1845.8,702.1 L1846.2,702.5 L1846.6,702.8 L1847.0,703.0 L1847.4,702.9 L1847.8,702.6 L1848.2,702.0 L1848.6,701.2 L1849.0,700.2 L1849.4,699.0 L1849.8,697.8 L1850.2,696.4 L1850.6,695.0 L1851.0,693.5 L1851.4,692.1 L1851.8,690.7 L1852.3,689.4 L1852.7,688.2 L1853.1,687.1 L1853.5,686.1 L1853.9,685.4 L1854.3,684.9 L1854.7,684.7 L1855.1,684.8 L1855.5,685.2 L1855.9,685.8 L1856.3,686.6 L1856.7,687.7 L1857.1,688.8 L1857.5,690.1 L1857.9,691.4 L1858.3,692.8 L1858.7,694.2 L1859.1,695.5 L1859.6,696.7 L1860.0,697.8 L1860.4,698.7 L1860.8,699.4 L1861.2,699.8 L1861.6,700.0 L1862.0,699.9 L1862.4,699.5 L1862.8,698.8 L1863.2,697.9 L1863.6,696.9 L1864.0,695.7 L1864.4,694.3 L1864.8,692.8 L1865.2,691.3 L1865.6,689.7 L1866.0,688.0 L1866.4,686.4 L1866.9,684.8 L1867.3,683.2 L1867.7,681.8 L1868.1,680.4 L1868.5,679.2 L1868.9,678.1 L1869.3,677.2 L1869.7,676.6 L1870.1,676.1 L1870.5,676.0 L1870.9,676.2 L1871.3,676.9 L1871.7,678.0 L1872.1,679.4 L1872.5,681.1 L1872.9,683.0 L1873.3,685.0 L1873.7,687.2 L1874.2,689.4 L1874.6,691.5 L1875.0,693.6 L1875.4,695.6 L1875.8,697.4 L1876.2,698.9 L1876.6,700.2 L1877.0,701.1 L1877.4,701.5 L1877.8,701.5 L1878.2,701.1 L1878.6,700.2 L1879.0,699.0 L1879.4,697.5 L1879.8,695.8 L1880.2,693.8 L1880.6,691.7 L1881.0,689.5 L1881.5,687.2 L1881.9,684.9 L1882.3,682.7 L1882.7,680.6 L1883.1,678.6 L1883.5,676.9 L1883.9,675.4 L1884.3,674.2 L1884.7,673.3 L1885.1,672.9 L1885.5,672.8 L1885.9,673.2 L1886.3,673.9 L1886.7,674.8 L1887.1,676.0 L1887.5,677.3 L1887.9,678.8 L1888.3,680.3 L1888.8,681.8 L1889.2,683.4 L1889.6,684.8 L1890.0,686.1 L1890.4,687.2 L1890.8,688.1 L1891.2,688.7 L1891.6,689.0 L1892.0,688.9 L1892.4,688.6 L1892.8,688.1 L1893.2,687.4 L1893.6,686.6 L1894.0,685.6 L1894.4,684.4 L1894.8,683.2 L1895.2,681.9 L1895.6,680.5 L1896.0,679.1 L1896.5,677.7 L1896.9,676.3 L1897.3,675.0 L1897.7,673.7 L1898.1,672.4 L1898.5,671.3 L1898.9,670.3 L1899.3,669.4 L1899.7,668.8 L1900.1,668.3 L1900.5,668.0 L1900.9,667.9 L1901.3,668.0 L1901.7,668.3 L1902.1,668.7 L1902.5,669.3 L1902.9,670.0 L1903.3,670.8 L1903.8,671.7 L1904.2,672.6 L1904.6,673.7 L1905.0,674.8 L1905.4,676.0 L1905.8,677.2 L1906.2,678.4 L1906.6,679.8 L1907.0,681.8 L1907.4,684.5 L1907.8,687.7 L1908.2,691.3 L1908.6,695.2 L1909.0,699.2 L1909.4,703.1 L1909.8,706.9 L1910.2,710.5 L1910.6,713.6 L1911.1,716.1 L1911.5,718.0 L1911.9,719.0 L1912.3,719.1 L1912.7,718.6 L1913.1,717.6 L1913.5,716.2 L1913.9,714.4 L1914.3,712.3 L1914.7,710.0 L1915.1,707.6 L1915.5,705.0 L1915.9,702.5 L1916.3,700.1 L1916.7,697.8 L1917.1,695.7 L1917.5,693.8 L1917.9,692.3 L1918.4,690.7 L1918.8,689.0 L1919.2,687.3 L1919.6,685.6 L1920.0,683.9 L1920.4,682.2 L1920.8,680.6 L1921.2,679.0 L1921.6,677.6 L1922.0,676.2 L1922.4,675.0 L1922.8,673.9 L1923.2,673.0 L1923.6,672.3 L1924.0,671.7 L1924.4,671.5 L1924.8,671.4 L1925.2,671.6 L1925.7,671.9 L1926.1,672.4 L1926.5,673.0 L1926.9,673.7 L1927.3,674.5 L1927.7,675.4 L1928.1,676.3 L1928.5,677.2 L1928.9,678.1 L1929.3,678.9 L1929.7,679.7 L1930.1,680.4 L1930.5,681.0 L1930.9,681.5 L1931.3,681.8 L1931.7,681.9 L1932.1,681.9 L1932.5,681.7 L1933.0,681.4 L1933.4,681.1 L1933.8,680.7 L1934.2,680.2 L1934.6,679.8 L1935.0,679.3 L1935.4,678.8 L1935.8,678.3 L1936.2,677.9 L1936.6,677.5 L1937.0,677.2 L1937.4,677.0 L1937.8,676.8 L1938.2,676.7 L1938.6,676.5 L1939.0,676.4 L1939.4,676.2 L1939.8,676.1 L1940.2,675.9 L1940.7,675.8 L1941.1,675.7 L1941.5,675.6 L1941.9,675.5 L1942.3,675.4 L1942.7,675.3 L1943.1,675.2 L1943.5,675.1 L1943.9,675.0 L1944.3,675.0 L1944.7,674.9 L1945.1,674.9 L1945.5,674.9 L1945.9,674.9 L1946.3,675.1 L1946.7,675.4 L1947.1,676.0 L1947.5,676.6 L1948.0,677.5 L1948.4,678.4 L1948.8,679.4 L1949.2,680.5 L1949.6,681.7 L1950.0,682.9 L1950.4,684.5 L1950.8,686.9 L1951.2,690.2 L1951.6,694.1 L1952.0,698.3 L1952.4,702.7 L1952.8,707.1 L1953.2,711.2 L1953.6,714.9 L1954.0,717.9 L1954.4,720.1 L1954.8,721.2 L1955.3,721.1 L1955.7,720.1 L1956.1,718.2 L1956.5,715.7 L1956.9,712.6 L1957.3,709.0 L1957.7,705.1 L1958.1,701.0 L1958.5,696.8 L1958.9,692.6 L1959.3,688.6 L1959.7,684.9 L1960.1,681.5 L1960.5,678.6 L1960.9,676.3 L1961.3,674.8 L1961.7,673.6 L1962.1,672.5 L1962.6,671.3 L1963.0,670.3 L1963.4,669.3 L1963.8,668.3 L1964.2,667.5 L1964.6,666.7 L1965.0,666.0 L1965.4,665.4 L1965.8,664.9 L1966.2,664.6 L1966.6,664.4 L1967.0,664.3 L1967.4,664.4 L1967.8,664.8 L1968.2,665.4 L1968.6,666.2 L1969.0,667.1 L1969.4,668.2 L1969.9,669.3 L1970.3,670.6 L1970.7,671.8 L1971.1,673.1 L1971.5,674.5 L1971.9,676.6 L1972.3,679.1 L1972.7,681.9 L1973.1,684.9 L1973.5,687.8 L1973.9,690.6 L1974.3,692.9 L1974.7,694.7 L1975.1,695.8 L1975.5,696.0 L1975.9,695.7 L1976.3,695.2 L1976.7,694.4 L1977.2,693.4 L1977.6,692.2 L1978.0,690.9 L1978.4,689.5 L1978.8,688.0 L1979.2,686.5 L1979.6,685.0 L1980.0,683.6 L1980.4,682.3 L1980.8,681.0 L1981.2,680.0 L1981.6,678.8 L1982.0,677.7 L1982.4,676.5 L1982.8,675.4 L1983.2,674.2 L1983.6,673.0 L1984.0,671.9 L1984.4,670.9 L1984.9,669.8 L1985.3,668.9 L1985.7,668.1 L1986.1,667.3 L1986.5,666.7 L1986.9,666.2 L1987.3,665.7 L1987.7,665.2 L1988.1,664.7 L1988.5,664.3 L1988.9,663.9 L1989.3,663.5 L1989.7,663.1 L1990.1,662.8 L1990.5,662.5 L1990.9,662.3 L1991.3,662.1 L1991.7,662.0 L1992.2,661.9 L1992.6,661.9 L1993.0,662.0 L1993.4,662.1 L1993.8,662.2 L1994.2,662.4 L1994.6,662.6 L1995.0,662.8 L1995.4,663.1 L1995.8,663.3 L1996.2,663.5 L1996.6,663.7 L1997.0,663.9 L1997.4,664.1 L1997.8,664.2 L1998.2,664.3 L1998.6,664.3 L1999.0,664.3 L1999.5,664.2 L1999.9,664.0 L2000.3,663.8 L2000.7,663.5 L2001.1,663.2 L2001.5,662.9 L2001.9,662.6 L2002.3,662.2 L2002.7,661.8 L2003.1,661.5 L2003.5,661.1 L2003.9,660.7 L2004.3,660.4 L2004.7,660.1 L2005.1,659.8 L2005.5,659.6 L2005.9,659.4 L2006.3,659.2 L2006.8,659.1 L2007.2,659.1 L2007.6,659.2 L2008.0,659.3 L2008.4,659.6 L2008.8,659.9 L2009.2,660.3 L2009.6,660.7 L2010.0,661.1 L2010.4,661.5 L2010.8,661.9 L2011.2,662.2 L2011.6,662.5 L2012.0,662.7 L2012.4,662.9 L2012.8,662.9 L2013.2,662.8 L2013.6,662.7 L2014.1,662.5 L2014.5,662.3 L2014.9,662.0 L2015.3,661.8 L2015.7,661.5 L2016.1,661.3 L2016.5,661.1 L2016.9,660.9 L2017.3,660.8 L2017.7,660.8 L2018.1,660.8 L2018.5,660.8 L2018.9,660.8 L2019.3,660.8 L2019.7,660.9 L2020.1,660.9 L2020.5,661.0 L2020.9,661.0 L2021.4,661.1 L2021.8,661.2 L2022.2,661.3 L2022.6,661.4 L2023.0,661.5 L2023.4,661.7 L2023.8,661.8 L2024.2,662.0 L2024.6,662.3 L2025.0,662.5" fill="none" stroke="#000" stroke-width="3.9" stroke-linejoin="round" stroke-linecap="round" />
<path d="M1457.7,745.0 L1458.1,745.0 L1458.5,744.9 L1458.9,745.1 L1459.3,745.3 L1459.7,745.3 L1460.1,745.5 L1460.5,745.5 L1460.9,745.4 L1461.3,745.1 L1461.8,745.0 L1462.2,745.1 L1462.6,745.3 L1463.0,745.0 L1463.4,744.7 L1463.8,744.9 L1464.2,744.5 L1464.6,744.3 L1465.0,744.7 L1465.4,745.3 L1465.8,745.4 L1466.2,745.9 L1466.6,746.2 L1467.0,746.0 L1467.4,745.4 L1467.8,745.6 L1468.2,745.5 L1468.6,745.7 L1469.1,746.1 L1469.5,746.6 L1469.9,746.8 L1470.3,746.4 L1470.7,746.0 L1471.1,745.7 L1471.5,745.9 L1471.9,745.6 L1472.3,745.3 L1472.7,745.5 L1473.1,745.4 L1473.5,745.2 L1473.9,745.0 L1474.3,745.7 L1474.7,745.5 L1475.1,745.7 L1475.5,745.4 L1475.9,745.8 L1476.4,745.8 L1476.8,745.7 L1477.2,745.8 L1477.6,745.9 L1478.0,746.0 L1478.4,746.0 L1478.8,746.1 L1479.2,746.0 L1479.6,746.0 L1480.0,745.4 L1480.4,745.4 L1480.8,745.4 L1481.2,745.6 L1481.6,745.9 L1482.0,745.9 L1482.4,746.0 L1482.8,746.1 L1483.2,746.0 L1483.7,746.0 L1484.1,746.0 L1484.5,746.2 L1484.9,745.9 L1485.3,745.8 L1485.7,745.4 L1486.1,745.9 L1486.5,745.5 L1486.9,745.9 L1487.3,746.1 L1487.7,746.7 L1488.1,746.3 L1488.5,746.3 L1488.9,745.9 L1489.3,745.7 L1489.7,745.5 L1490.1,745.8 L1490.5,746.1 L1491.0,746.4 L1491.4,746.4 L1491.8,746.6 L1492.2,746.6 L1492.6,746.6 L1493.0,746.1 L1493.4,745.7 L1493.8,745.2 L1494.2,745.0 L1494.6,745.0 L1495.0,745.6 L1495.4,745.8 L1495.8,745.8 L1496.2,746.0 L1496.6,745.9 L1497.0,745.6 L1497.4,745.8 L1497.8,745.9 L1498.3,746.1 L1498.7,746.2 L1499.1,746.4 L1499.5,746.3 L1499.9,746.6 L1500.3,746.5 L1500.7,746.5 L1501.1,746.5 L1501.5,746.4 L1501.9,745.9 L1502.3,745.7 L1502.7,745.6 L1503.1,745.4 L1503.5,745.4 L1503.9,745.7 L1504.3,745.8 L1504.7,746.0 L1505.1,746.2 L1505.5,746.4 L1506.0,746.0 L1506.4,746.1 L1506.8,746.4 L1507.2,746.4 L1507.6,746.5 L1508.0,746.6 L1508.4,746.7 L1508.8,746.0 L1509.2,745.6 L1509.6,745.5 L1510.0,745.6 L1510.4,745.4 L1510.8,745.6 L1511.2,745.7 L1511.6,745.6 L1512.0,745.2 L1512.4,745.0 L1512.8,745.1 L1513.3,744.9 L1513.7,744.7 L1514.1,744.9 L1514.5,745.0 L1514.9,745.1 L1515.3,745.4 L1515.7,745.7 L1516.1,745.7 L1516.5,745.8 L1516.9,745.9 L1517.3,746.1 L1517.7,746.1 L1518.1,746.4 L1518.5,746.6 L1518.9,746.6 L1519.3,746.8 L1519.7,746.9 L1520.1,746.9 L1520.6,746.9 L1521.0,746.9 L1521.4,746.3 L1521.8,746.6 L1522.2,746.6 L1522.6,746.5 L1523.0,746.6 L1523.4,746.8 L1523.8,746.5 L1524.2,746.5 L1524.6,746.2 L1525.0,746.2 L1525.4,745.9 L1525.8,746.0 L1526.2,746.1 L1526.6,746.4 L1527.0,746.3 L1527.4,746.7 L1527.9,746.7 L1528.3,746.5 L1528.7,746.5 L1529.1,746.9 L1529.5,746.9 L1529.9,747.0 L1530.3,746.9 L1530.7,747.1 L1531.1,746.5 L1531.5,746.4 L1531.9,746.1 L1532.3,746.7 L1532.7,746.2 L1533.1,746.7 L1533.5,746.7 L1533.9,746.5 L1534.3,746.1 L1534.7,746.7 L1535.2,746.6 L1535.6,746.1 L1536.0,746.3 L1536.4,746.1 L1536.8,745.5 L1537.2,745.2 L1537.6,745.8 L1538.0,745.9 L1538.4,746.1 L1538.8,746.2 L1539.2,746.5 L1539.6,746.2 L1540.0,746.0 L1540.4,746.3 L1540.8,746.2 L1541.2,746.0 L1541.6,745.9 L1542.0,746.5 L1542.5,746.1 L1542.9,746.4 L1543.3,746.7 L1543.7,746.7 L1544.1,746.6 L1544.5,746.9 L1544.9,746.9 L1545.3,746.8 L1545.7,746.8 L1546.1,746.6 L1546.5,746.7 L1546.9,746.3 L1547.3,746.0 L1547.7,746.1 L1548.1,746.2 L1548.5,745.7 L1548.9,746.2 L1549.3,746.6 L1549.7,746.2 L1550.2,746.3 L1550.6,746.4 L1551.0,746.3 L1551.4,746.1 L1551.8,746.4 L1552.2,746.0 L1552.6,746.0 L1553.0,746.1 L1553.4,745.9 L1553.8,745.4 L1554.2,745.7 L1554.6,745.8 L1555.0,745.6 L1555.4,745.9 L1555.8,746.0 L1556.2,746.5 L1556.6,746.3 L1557.0,746.2 L1557.5,745.9 L1557.9,746.0 L1558.3,745.8 L1558.7,746.0 L1559.1,746.2 L1559.5,746.4 L1559.9,746.8 L1560.3,746.6 L1560.7,746.3 L1561.1,746.4 L1561.5,746.4 L1561.9,746.2 L1562.3,746.3 L1562.7,746.6 L1563.1,746.6 L1563.5,746.5 L1563.9,746.1 L1564.3,746.4 L1564.8,746.4 L1565.2,746.5 L1565.6,746.6 L1566.0,746.6 L1566.4,746.2 L1566.8,746.6 L1567.2,746.4 L1567.6,746.5 L1568.0,746.6 L1568.4,746.8 L1568.8,746.5 L1569.2,746.7 L1569.6,746.8 L1570.0,747.1 L1570.4,747.1 L1570.8,747.3 L1571.2,747.4 L1571.6,747.5 L1572.1,748.0 L1572.5,748.2 L1572.9,748.3 L1573.3,748.2 L1573.7,748.5 L1574.1,748.0 L1574.5,747.7 L1574.9,747.5 L1575.3,747.8 L1575.7,747.4 L1576.1,747.9 L1576.5,748.3 L1576.9,748.2 L1577.3,748.0 L1577.7,748.7 L1578.1,748.2 L1578.5,748.0 L1578.9,748.4 L1579.4,748.7 L1579.8,748.6 L1580.2,748.7 L1580.6,749.0 L1581.0,749.0 L1581.4,749.0 L1581.8,749.3 L1582.2,749.3 L1582.6,749.6 L1583.0,749.5 L1583.4,749.4 L1583.8,748.8 L1584.2,748.7 L1584.6,748.6 L1585.0,748.5 L1585.4,748.6 L1585.8,748.7 L1586.2,748.9 L1586.7,748.9 L1587.1,749.1 L1587.5,749.0 L1587.9,749.4 L1588.3,750.0 L1588.7,749.9 L1589.1,750.1 L1589.5,750.1 L1589.9,749.8 L1590.3,749.3 L1590.7,749.4 L1591.1,749.4 L1591.5,749.8 L1591.9,749.7 L1592.3,749.7 L1592.7,750.1 L1593.1,750.0 L1593.5,750.0 L1593.9,750.6 L1594.4,750.6 L1594.8,750.9 L1595.2,751.0 L1595.6,751.2 L1596.0,751.2 L1596.4,751.2 L1596.8,751.1 L1597.2,751.5 L1597.6,751.7 L1598.0,751.6 L1598.4,752.0 L1598.8,752.1 L1599.2,752.6 L1599.6,752.4 L1600.0,753.1 L1600.4,753.0 L1600.8,753.4 L1601.2,753.2 L1601.7,753.7 L1602.1,753.6 L1602.5,753.8 L1602.9,753.6 L1603.3,754.1 L1603.7,754.3 L1604.1,754.5 L1604.5,755.3 L1604.9,755.7 L1605.3,755.5 L1605.7,755.5 L1606.1,756.1 L1606.5,756.6 L1606.9,756.8 L1607.3,757.3 L1607.7,758.0 L1608.1,758.5 L1608.5,757.9 L1609.0,758.4 L1609.4,758.8 L1609.8,758.6 L1610.2,759.1 L1610.6,759.5 L1611.0,759.8 L1611.4,760.1 L1611.8,760.4 L1612.2,760.7 L1612.6,761.1 L1613.0,761.4 L1613.4,761.8 L1613.8,762.2 L1614.2,762.6 L1614.6,763.0 L1615.0,763.4 L1615.4,763.9 L1615.8,764.4 L1616.3,765.0 L1616.7,765.5 L1617.1,766.1 L1617.5,766.7 L1617.9,767.4 L1618.3,768.0 L1618.7,768.6 L1619.1,769.3 L1619.5,769.9 L1619.9,770.6 L1620.3,771.2 L1620.7,771.9 L1621.1,772.5 L1621.5,773.1 L1621.9,773.6 L1622.3,774.2 L1622.7,774.8 L1623.1,775.4 L1623.6,776.0 L1624.0,776.6 L1624.4,777.2 L1624.8,777.9 L1625.2,778.6 L1625.6,779.4 L1626.0,780.2 L1626.4,781.1 L1626.8,782.1 L1627.2,783.1 L1627.6,784.4 L1628.0,785.7 L1628.4,787.2 L1628.8,788.8 L1629.2,790.5 L1629.6,792.3 L1630.0,794.1 L1630.4,796.0 L1630.9,798.0 L1631.3,800.1 L1631.7,802.5 L1632.1,805.0 L1632.5,807.6 L1632.9,810.3 L1633.3,813.2 L1633.7,816.0 L1634.1,818.9 L1634.5,821.8 L1634.9,824.6 L1635.3,827.5 L1635.7,830.5 L1636.1,833.5 L1636.5,836.5 L1636.9,839.6 L1637.3,842.7 L1637.7,845.7 L1638.1,848.7 L1638.6,851.7 L1639.0,854.5 L1639.4,857.3 L1639.8,860.0 L1640.2,862.7 L1640.6,865.4 L1641.0,868.1 L1641.4,870.7 L1641.8,873.3 L1642.2,875.8 L1642.6,878.4 L1643.0,880.9 L1643.4,883.4 L1643.8,885.9 L1644.2,888.3 L1644.6,890.8 L1645.0,893.2 L1645.4,895.6 L1645.9,897.9 L1646.3,900.2 L1646.7,902.4 L1647.1,904.6 L1647.5,906.7 L1647.9,908.9 L1648.3,911.1 L1648.7,913.3 L1649.1,915.4 L1649.5,917.5 L1649.9,919.5 L1650.3,921.4 L1650.7,923.3 L1651.1,925.0 L1651.5,926.6 L1651.9,928.1 L1652.3,929.5 L1652.7,931.0 L1653.2,932.5 L1653.6,934.0 L1654.0,935.3 L1654.4,936.6 L1654.8,937.7 L1655.2,938.5 L1655.6,939.1 L1656.0,939.4 L1656.4,939.3 L1656.8,939.1 L1657.2,938.7 L1657.6,938.2 L1658.0,937.5 L1658.4,936.8 L1658.8,936.0 L1659.2,935.2 L1659.6,934.3 L1660.0,933.5 L1660.5,932.6 L1660.9,931.9 L1661.3,931.2 L1661.7,930.6 L1662.1,930.0 L1662.5,929.4 L1662.9,928.8 L1663.3,928.3 L1663.7,927.7 L1664.1,927.1 L1664.5,926.6 L1664.9,926.0 L1665.3,925.4 L1665.7,924.8 L1666.1,924.1 L1666.5,923.5 L1666.9,922.8 L1667.3,922.1 L1667.8,921.4 L1668.2,920.6 L1668.6,919.7 L1669.0,918.9 L1669.4,917.9 L1669.8,916.9 L1670.2,915.7 L1670.6,914.5 L1671.0,913.2 L1671.4,911.8 L1671.8,910.3 L1672.2,908.7 L1672.6,907.1 L1673.0,905.5 L1673.4,903.7 L1673.8,902.0 L1674.2,900.2 L1674.6,898.3 L1675.1,896.2 L1675.5,894.0 L1675.9,891.7 L1676.3,889.3 L1676.7,886.8 L1677.1,884.3 L1677.5,881.7 L1677.9,879.2 L1678.3,876.6 L1678.7,874.2 L1679.1,871.8 L1679.5,869.4 L1679.9,867.1 L1680.3,864.7 L1680.7,862.3 L1681.1,859.9 L1681.5,857.6 L1681.9,855.2 L1682.3,852.8 L1682.8,850.5 L1683.2,848.1 L1683.6,845.9 L1684.0,843.6 L1684.4,841.4 L1684.8,839.3 L1685.2,837.2 L1685.6,835.2 L1686.0,833.2 L1686.4,831.2 L1686.8,829.2 L1687.2,827.3 L1687.6,825.3 L1688.0,823.4 L1688.4,821.5 L1688.8,819.7 L1689.2,817.9 L1689.6,816.1 L1690.1,814.4 L1690.5,812.8 L1690.9,811.3 L1691.3,809.8 L1691.7,808.5 L1692.1,807.1 L1692.5,805.8 L1692.9,804.4 L1693.3,803.1 L1693.7,801.9 L1694.1,800.6 L1694.5,799.5 L1694.9,798.3 L1695.3,797.3 L1695.7,796.3 L1696.1,795.4 L1696.5,794.7 L1696.9,794.0 L1697.4,793.4 L1697.8,793.0 L1698.2,792.6 L1698.6,792.2 L1699.0,791.8 L1699.4,791.5 L1699.8,791.2 L1700.2,791.0 L1700.6,790.8 L1701.0,790.6 L1701.4,790.4 L1701.8,790.2 L1702.2,790.1 L1702.6,790.0 L1703.0,789.9 L1703.4,789.7 L1703.8,789.6 L1704.2,789.5 L1704.7,789.4 L1705.1,789.3 L1705.5,789.2 L1705.9,789.0 L1706.3,788.9 L1706.7,788.7 L1707.1,788.5 L1707.5,788.4 L1707.9,788.2 L1708.3,788.0 L1708.7,787.9 L1709.1,787.7 L1709.5,787.5 L1709.9,787.3 L1710.3,787.1 L1710.7,787.0 L1711.1,786.8 L1711.5,786.6 L1712.0,786.5 L1712.4,786.4 L1712.8,786.2 L1713.2,786.1 L1713.6,786.0 L1714.0,785.8 L1714.4,785.7 L1714.8,785.5 L1715.2,785.4 L1715.6,785.2 L1716.0,785.0 L1716.4,784.7 L1716.8,784.5 L1717.2,784.3 L1717.6,784.0 L1718.0,783.8 L1718.4,783.5 L1718.8,783.3 L1719.3,783.0 L1719.7,782.8 L1720.1,782.6 L1720.5,782.4 L1720.9,782.2 L1721.3,782.0 L1721.7,781.7 L1722.1,781.5 L1722.5,781.3 L1722.9,781.1 L1723.3,780.9 L1723.7,780.7 L1724.1,780.5 L1724.5,780.3 L1724.9,780.2 L1725.3,780.0 L1725.7,779.9 L1726.1,779.8 L1726.5,779.7 L1727.0,779.6 L1727.4,779.5 L1727.8,779.4 L1728.2,779.4 L1728.6,779.3 L1729.0,779.2 L1729.4,779.2 L1729.8,779.2 L1730.2,779.1 L1730.6,779.1 L1731.0,779.1 L1731.4,779.0 L1731.8,779.0 L1732.2,778.9 L1732.6,778.9 L1733.0,778.8 L1733.4,778.8 L1733.8,778.8 L1734.3,778.8 L1734.7,778.8 L1735.1,778.9 L1735.5,778.9 L1735.9,779.0 L1736.3,779.1 L1736.7,779.2 L1737.1,779.4 L1737.5,779.5 L1737.9,779.7 L1738.3,780.0 L1738.7,780.4 L1739.1,780.9 L1739.5,781.6 L1739.9,782.4 L1740.3,783.3 L1740.7,784.3 L1741.1,785.3 L1741.6,786.5 L1742.0,787.7 L1742.4,788.9 L1742.8,790.5 L1743.2,792.3 L1743.6,794.4 L1744.0,796.6 L1744.4,799.0 L1744.8,801.5 L1745.2,804.1 L1745.6,806.7 L1746.0,809.2 L1746.4,811.7 L1746.8,814.1 L1747.2,816.3 L1747.6,818.2 L1748.0,820.0 L1748.4,821.7 L1748.9,823.5 L1749.3,825.3 L1749.7,827.1 L1750.1,828.9 L1750.5,830.5 L1750.9,832.0 L1751.3,833.3 L1751.7,834.3 L1752.1,835.1 L1752.5,835.6 L1752.9,835.7 L1753.3,835.4 L1753.7,834.7 L1754.1,833.7 L1754.5,832.5 L1754.9,831.2 L1755.3,829.9 L1755.7,828.5 L1756.2,827.3 L1756.6,826.2 L1757.0,825.3 L1757.4,824.7 L1757.8,824.0 L1758.2,823.3 L1758.6,822.7 L1759.0,822.1 L1759.4,821.6 L1759.8,821.3 L1760.2,821.0 L1760.6,821.0 L1761.0,821.0 L1761.4,821.0 L1761.8,821.1 L1762.2,821.2 L1762.6,821.2 L1763.0,821.3 L1763.4,821.4 L1763.9,821.5 L1764.3,821.7 L1764.7,821.8 L1765.1,822.0 L1765.5,822.1 L1765.9,822.3 L1766.3,822.5 L1766.7,822.9 L1767.1,823.4 L1767.5,824.1 L1767.9,825.0 L1768.3,825.9 L1768.7,826.9 L1769.1,828.0 L1769.5,829.1 L1769.9,830.3 L1770.3,831.5 L1770.7,832.6 L1771.2,833.8 L1771.6,835.1 L1772.0,836.8 L1772.4,838.5 L1772.8,840.4 L1773.2,842.4 L1773.6,844.4 L1774.0,846.4 L1774.4,848.2 L1774.8,849.9 L1775.2,851.4 L1775.6,852.6 L1776.0,853.5 L1776.4,854.0 L1776.8,854.1 L1777.2,853.7 L1777.6,852.7 L1778.0,851.4 L1778.5,849.7 L1778.9,847.9 L1779.3,846.0 L1779.7,844.0 L1780.1,842.1 L1780.5,840.4 L1780.9,838.7 L1781.3,836.6 L1781.7,834.4 L1782.1,832.2 L1782.5,829.9 L1782.9,827.9 L1783.3,826.2 L1783.7,824.9 L1784.1,824.1 L1784.5,824.0 L1784.9,824.0 L1785.3,824.1 L1785.8,824.1 L1786.2,824.3 L1786.6,824.4 L1787.0,824.6 L1787.4,824.7 L1787.8,824.9 L1788.2,825.2 L1788.6,825.4 L1789.0,825.7 L1789.4,825.9 L1789.8,826.2 L1790.2,826.5 L1790.6,826.8 L1791.0,827.1 L1791.4,827.4 L1791.8,827.8 L1792.2,828.2 L1792.6,828.6 L1793.1,829.2 L1793.5,829.7 L1793.9,830.4 L1794.3,831.0 L1794.7,831.7 L1795.1,832.5 L1795.5,833.3 L1795.9,834.0 L1796.3,834.9 L1796.7,835.7 L1797.1,836.5 L1797.5,837.4 L1797.9,838.2 L1798.3,839.1 L1798.7,840.2 L1799.1,841.5 L1799.5,842.8 L1799.9,844.2 L1800.4,845.7 L1800.8,847.2 L1801.2,848.6 L1801.6,850.0 L1802.0,851.3 L1802.4,852.4 L1802.8,853.4 L1803.2,854.2 L1803.6,854.7 L1804.0,854.9 L1804.4,854.8 L1804.8,854.4 L1805.2,853.7 L1805.6,852.7 L1806.0,851.6 L1806.4,850.3 L1806.8,848.9 L1807.2,847.5 L1807.6,846.1 L1808.1,844.8 L1808.5,843.5 L1808.9,842.3 L1809.3,840.8 L1809.7,839.2 L1810.1,837.5 L1810.5,835.8 L1810.9,834.1 L1811.3,832.6 L1811.7,831.1 L1812.1,829.9 L1812.5,829.0 L1812.9,828.4 L1813.3,828.2 L1813.7,828.5 L1814.1,829.0 L1814.5,829.9 L1814.9,830.9 L1815.4,832.0 L1815.8,833.1 L1816.2,834.1 L1816.6,835.0 L1817.0,835.6 L1817.4,835.9 L1817.8,835.9 L1818.2,835.7 L1818.6,835.4 L1819.0,835.1 L1819.4,834.7 L1819.8,834.4 L1820.2,834.1 L1820.6,833.9 L1821.0,833.8 L1821.4,834.1 L1821.8,834.6 L1822.2,835.3 L1822.7,836.1 L1823.1,836.9 L1823.5,837.7 L1823.9,838.3 L1824.3,838.7 L1824.7,838.7 L1825.1,838.4 L1825.5,837.7 L1825.9,836.7 L1826.3,835.6 L1826.7,834.3 L1827.1,832.9 L1827.5,831.5 L1827.9,830.1 L1828.3,828.8 L1828.7,827.6 L1829.1,826.7 L1829.5,825.9 L1830.0,825.5 L1830.4,825.5 L1830.8,825.9 L1831.2,826.7 L1831.6,827.7 L1832.0,829.0 L1832.4,830.3 L1832.8,831.6 L1833.2,832.8 L1833.6,833.7 L1834.0,834.3 L1834.4,834.6 L1834.8,833.9 L1835.2,832.3 L1835.6,829.9 L1836.0,827.0 L1836.4,823.9 L1836.8,820.8 L1837.3,817.9 L1837.7,815.6 L1838.1,813.1 L1838.5,810.5 L1838.9,807.9 L1839.3,805.4 L1839.7,803.2 L1840.1,801.5 L1840.5,800.4 L1840.9,799.9 L1841.3,799.6 L1841.7,799.3 L1842.1,799.1 L1842.5,798.9 L1842.9,798.7 L1843.3,798.7 L1843.7,798.7 L1844.1,798.9 L1844.6,799.3 L1845.0,799.7 L1845.4,800.2 L1845.8,800.6 L1846.2,801.0 L1846.6,801.3 L1847.0,801.5 L1847.4,801.4 L1847.8,801.1 L1848.2,800.5 L1848.6,799.7 L1849.0,798.7 L1849.4,797.5 L1849.8,796.2 L1850.2,794.9 L1850.6,793.5 L1851.0,792.0 L1851.4,790.6 L1851.8,789.2 L1852.3,787.9 L1852.7,786.6 L1853.1,785.6 L1853.5,784.6 L1853.9,783.9 L1854.3,783.4 L1854.7,783.2 L1855.1,783.3 L1855.5,783.7 L1855.9,784.3 L1856.3,785.1 L1856.7,786.2 L1857.1,787.3 L1857.5,788.6 L1857.9,790.0 L1858.3,791.3 L1858.7,792.7 L1859.1,794.0 L1859.6,795.2 L1860.0,796.3 L1860.4,797.2 L1860.8,797.9 L1861.2,798.3 L1861.6,798.5 L1862.0,798.4 L1862.4,798.0 L1862.8,797.3 L1863.2,796.5 L1863.6,795.4 L1864.0,794.2 L1864.4,792.8 L1864.8,791.3 L1865.2,789.8 L1865.6,788.2 L1866.0,786.5 L1866.4,784.9 L1866.9,783.3 L1867.3,781.7 L1867.7,780.3 L1868.1,778.9 L1868.5,777.7 L1868.9,776.6 L1869.3,775.7 L1869.7,775.1 L1870.1,774.7 L1870.5,774.5 L1870.9,774.8 L1871.3,775.5 L1871.7,776.5 L1872.1,777.9 L1872.5,779.6 L1872.9,781.5 L1873.3,783.5 L1873.7,785.7 L1874.2,787.9 L1874.6,790.1 L1875.0,792.2 L1875.4,794.1 L1875.8,795.9 L1876.2,797.5 L1876.6,798.7 L1877.0,799.6 L1877.4,800.1 L1877.8,800.1 L1878.2,799.6 L1878.6,798.8 L1879.0,797.6 L1879.4,796.0 L1879.8,794.3 L1880.2,792.3 L1880.6,790.2 L1881.0,788.0 L1881.5,785.7 L1881.9,783.5 L1882.3,781.2 L1882.7,779.1 L1883.1,777.2 L1883.5,775.4 L1883.9,773.9 L1884.3,772.7 L1884.7,771.8 L1885.1,771.4 L1885.5,771.4 L1885.9,771.8 L1886.3,772.4 L1886.7,773.4 L1887.1,774.6 L1887.5,775.9 L1887.9,777.3 L1888.3,778.9 L1888.8,780.4 L1889.2,781.9 L1889.6,783.3 L1890.0,784.6 L1890.4,785.7 L1890.8,786.6 L1891.2,787.2 L1891.6,787.5 L1892.0,787.5 L1892.4,787.2 L1892.8,786.7 L1893.2,786.0 L1893.6,785.1 L1894.0,784.1 L1894.4,783.0 L1894.8,781.8 L1895.2,780.5 L1895.6,779.1 L1896.0,777.7 L1896.5,776.3 L1896.9,774.9 L1897.3,773.5 L1897.7,772.2 L1898.1,771.0 L1898.5,769.9 L1898.9,768.9 L1899.3,768.0 L1899.7,767.3 L1900.1,766.8 L1900.5,766.5 L1900.9,766.5 L1901.3,766.6 L1901.7,766.9 L1902.1,767.3 L1902.5,767.9 L1902.9,768.5 L1903.3,769.3 L1903.8,770.2 L1904.2,771.2 L1904.6,772.3 L1905.0,773.4 L1905.4,774.5 L1905.8,775.8 L1906.2,777.0 L1906.6,778.4 L1907.0,780.4 L1907.4,783.1 L1907.8,786.3 L1908.2,789.9 L1908.6,793.7 L1909.0,797.7 L1909.4,801.7 L1909.8,805.5 L1910.2,809.0 L1910.6,812.1 L1911.1,814.7 L1911.5,816.6 L1911.9,817.6 L1912.3,817.7 L1912.7,817.2 L1913.1,816.2 L1913.5,814.7 L1913.9,812.9 L1914.3,810.9 L1914.7,808.6 L1915.1,806.1 L1915.5,803.6 L1915.9,801.1 L1916.3,798.6 L1916.7,796.3 L1917.1,794.2 L1917.5,792.4 L1917.9,790.8 L1918.4,789.2 L1918.8,787.6 L1919.2,785.9 L1919.6,784.2 L1920.0,782.5 L1920.4,780.8 L1920.8,779.2 L1921.2,777.6 L1921.6,776.1 L1922.0,774.8 L1922.4,773.6 L1922.8,772.5 L1923.2,771.6 L1923.6,770.8 L1924.0,770.3 L1924.4,770.0 L1924.8,770.0 L1925.2,770.1 L1925.7,770.5 L1926.1,771.0 L1926.5,771.6 L1926.9,772.3 L1927.3,773.1 L1927.7,774.0 L1928.1,774.9 L1928.5,775.8 L1928.9,776.6 L1929.3,777.5 L1929.7,778.3 L1930.1,779.0 L1930.5,779.6 L1930.9,780.0 L1931.3,780.3 L1931.7,780.5 L1932.1,780.4 L1932.5,780.3 L1933.0,780.0 L1933.4,779.7 L1933.8,779.3 L1934.2,778.8 L1934.6,778.3 L1935.0,777.8 L1935.4,777.4 L1935.8,776.9 L1936.2,776.5 L1936.6,776.1 L1937.0,775.8 L1937.4,775.6 L1937.8,775.4 L1938.2,775.3 L1938.6,775.1 L1939.0,774.9 L1939.4,774.8 L1939.8,774.7 L1940.2,774.5 L1940.7,774.4 L1941.1,774.3 L1941.5,774.1 L1941.9,774.0 L1942.3,773.9 L1942.7,773.8 L1943.1,773.8 L1943.5,773.7 L1943.9,773.6 L1944.3,773.6 L1944.7,773.5 L1945.1,773.5 L1945.5,773.5 L1945.9,773.5 L1946.3,773.7 L1946.7,774.0 L1947.1,774.5 L1947.5,775.2 L1948.0,776.0 L1948.4,777.0 L1948.8,778.0 L1949.2,779.1 L1949.6,780.3 L1950.0,781.5 L1950.4,783.0 L1950.8,785.5 L1951.2,788.8 L1951.6,792.7 L1952.0,796.9 L1952.4,801.3 L1952.8,805.7 L1953.2,809.8 L1953.6,813.5 L1954.0,816.5 L1954.4,818.7 L1954.8,819.8 L1955.3,819.7 L1955.7,818.7 L1956.1,816.8 L1956.5,814.3 L1956.9,811.2 L1957.3,807.6 L1957.7,803.7 L1958.1,799.6 L1958.5,795.4 L1958.9,791.2 L1959.3,787.2 L1959.7,783.4 L1960.1,780.1 L1960.5,777.2 L1960.9,774.9 L1961.3,773.4 L1961.7,772.2 L1962.1,771.1 L1962.6,769.9 L1963.0,768.9 L1963.4,767.9 L1963.8,766.9 L1964.2,766.0 L1964.6,765.3 L1965.0,764.6 L1965.4,764.0 L1965.8,763.5 L1966.2,763.2 L1966.6,763.0 L1967.0,762.9 L1967.4,763.0 L1967.8,763.4 L1968.2,764.0 L1968.6,764.8 L1969.0,765.7 L1969.4,766.8 L1969.9,767.9 L1970.3,769.1 L1970.7,770.4 L1971.1,771.7 L1971.5,773.1 L1971.9,775.2 L1972.3,777.7 L1972.7,780.5 L1973.1,783.5 L1973.5,786.4 L1973.9,789.1 L1974.3,791.5 L1974.7,793.3 L1975.1,794.4 L1975.5,794.6 L1975.9,794.3 L1976.3,793.8 L1976.7,793.0 L1977.2,792.0 L1977.6,790.8 L1978.0,789.5 L1978.4,788.1 L1978.8,786.6 L1979.2,785.1 L1979.6,783.6 L1980.0,782.2 L1980.4,780.9 L1980.8,779.6 L1981.2,778.6 L1981.6,777.4 L1982.0,776.3 L1982.4,775.1 L1982.8,774.0 L1983.2,772.8 L1983.6,771.6 L1984.0,770.5 L1984.4,769.4 L1984.9,768.4 L1985.3,767.5 L1985.7,766.7 L1986.1,765.9 L1986.5,765.3 L1986.9,764.8 L1987.3,764.3 L1987.7,763.8 L1988.1,763.3 L1988.5,762.9 L1988.9,762.5 L1989.3,762.1 L1989.7,761.7 L1990.1,761.4 L1990.5,761.1 L1990.9,760.9 L1991.3,760.7 L1991.7,760.6 L1992.2,760.5 L1992.6,760.5 L1993.0,760.6 L1993.4,760.7 L1993.8,760.8 L1994.2,761.0 L1994.6,761.2 L1995.0,761.4 L1995.4,761.7 L1995.8,761.9 L1996.2,762.1 L1996.6,762.3 L1997.0,762.5 L1997.4,762.7 L1997.8,762.8 L1998.2,762.9 L1998.6,762.9 L1999.0,762.9 L1999.5,762.8 L1999.9,762.6 L2000.3,762.4 L2000.7,762.1 L2001.1,761.8 L2001.5,761.5 L2001.9,761.2 L2002.3,760.8 L2002.7,760.4 L2003.1,760.1 L2003.5,759.7 L2003.9,759.3 L2004.3,759.0 L2004.7,758.7 L2005.1,758.4 L2005.5,758.2 L2005.9,758.0 L2006.3,757.8 L2006.8,757.7 L2007.2,757.7 L2007.6,757.8 L2008.0,757.9 L2008.4,758.2 L2008.8,758.5 L2009.2,758.9 L2009.6,759.3 L2010.0,759.7 L2010.4,760.1 L2010.8,760.5 L2011.2,760.8 L2011.6,761.1 L2012.0,761.3 L2012.4,761.5 L2012.8,761.5 L2013.2,761.4 L2013.6,761.3 L2014.1,761.1 L2014.5,760.9 L2014.9,760.6 L2015.3,760.4 L2015.7,760.1 L2016.1,759.9 L2016.5,759.7 L2016.9,759.5 L2017.3,759.4 L2017.7,759.4 L2018.1,759.4 L2018.5,759.4 L2018.9,759.4 L2019.3,759.4 L2019.7,759.5 L2020.1,759.5 L2020.5,759.6 L2020.9,759.6 L2021.4,759.7 L2021.8,759.8 L2022.2,759.9 L2022.6,760.0 L2023.0,760.1 L2023.4,760.3 L2023.8,760.4 L2024.2,760.6 L2024.6,760.9 L2025.0,761.1" fill="none" stroke="#E5450C" stroke-width="3.9" stroke-linejoin="round" stroke-linecap="round" />
<path d="M1457.7,832.6 L1458.1,832.4 L1458.5,832.2 L1458.9,832.3 L1459.3,831.6 L1459.7,831.8 L1460.1,832.2 L1460.5,831.8 L1460.9,832.0 L1461.3,832.2 L1461.8,832.0 L1462.2,832.2 L1462.6,832.4 L1463.0,831.7 L1463.4,831.8 L1463.8,831.7 L1464.2,831.4 L1464.6,831.6 L1465.0,831.9 L1465.4,832.0 L1465.8,832.2 L1466.2,832.1 L1466.6,832.2 L1467.0,832.4 L1467.4,832.2 L1467.8,832.7 L1468.2,832.6 L1468.6,832.7 L1469.1,832.5 L1469.5,832.8 L1469.9,832.5 L1470.3,833.0 L1470.7,833.1 L1471.1,833.1 L1471.5,833.6 L1471.9,833.6 L1472.3,833.3 L1472.7,832.7 L1473.1,833.4 L1473.5,833.1 L1473.9,833.1 L1474.3,833.4 L1474.7,833.9 L1475.1,833.5 L1475.5,833.1 L1475.9,833.1 L1476.4,833.1 L1476.8,832.9 L1477.2,832.6 L1477.6,832.8 L1478.0,832.5 L1478.4,832.2 L1478.8,832.4 L1479.2,832.8 L1479.6,832.7 L1480.0,833.0 L1480.4,833.4 L1480.8,833.2 L1481.2,832.7 L1481.6,832.7 L1482.0,832.1 L1482.4,831.5 L1482.8,831.8 L1483.2,832.5 L1483.7,832.3 L1484.1,833.0 L1484.5,833.4 L1484.9,833.3 L1485.3,833.0 L1485.7,832.9 L1486.1,832.8 L1486.5,832.8 L1486.9,832.7 L1487.3,832.8 L1487.7,833.1 L1488.1,833.1 L1488.5,833.0 L1488.9,832.9 L1489.3,832.7 L1489.7,832.8 L1490.1,833.0 L1490.5,832.8 L1491.0,832.9 L1491.4,833.0 L1491.8,832.8 L1492.2,833.1 L1492.6,833.5 L1493.0,833.3 L1493.4,833.4 L1493.8,833.7 L1494.2,833.5 L1494.6,833.5 L1495.0,834.1 L1495.4,833.8 L1495.8,833.7 L1496.2,833.9 L1496.6,833.8 L1497.0,833.8 L1497.4,834.2 L1497.8,834.0 L1498.3,834.0 L1498.7,833.7 L1499.1,833.5 L1499.5,833.0 L1499.9,833.3 L1500.3,833.0 L1500.7,833.2 L1501.1,833.2 L1501.5,833.6 L1501.9,833.3 L1502.3,833.4 L1502.7,832.9 L1503.1,832.7 L1503.5,832.9 L1503.9,832.6 L1504.3,832.4 L1504.7,833.1 L1505.1,833.5 L1505.5,833.5 L1506.0,833.7 L1506.4,834.0 L1506.8,833.7 L1507.2,833.5 L1507.6,833.2 L1508.0,832.8 L1508.4,832.6 L1508.8,832.2 L1509.2,832.3 L1509.6,832.3 L1510.0,832.5 L1510.4,832.7 L1510.8,833.1 L1511.2,832.9 L1511.6,832.8 L1512.0,832.6 L1512.4,832.9 L1512.8,832.8 L1513.3,832.6 L1513.7,832.6 L1514.1,832.9 L1514.5,832.6 L1514.9,832.9 L1515.3,832.9 L1515.7,833.1 L1516.1,833.2 L1516.5,833.4 L1516.9,833.1 L1517.3,833.4 L1517.7,833.5 L1518.1,833.4 L1518.5,833.2 L1518.9,833.5 L1519.3,833.4 L1519.7,833.2 L1520.1,833.7 L1520.6,833.7 L1521.0,833.6 L1521.4,833.8 L1521.8,833.9 L1522.2,834.0 L1522.6,834.1 L1523.0,834.3 L1523.4,834.7 L1523.8,834.3 L1524.2,833.8 L1524.6,833.2 L1525.0,833.2 L1525.4,832.4 L1525.8,832.7 L1526.2,833.2 L1526.6,833.4 L1527.0,833.1 L1527.4,833.5 L1527.9,833.6 L1528.3,833.2 L1528.7,833.5 L1529.1,833.8 L1529.5,833.9 L1529.9,833.7 L1530.3,834.3 L1530.7,834.3 L1531.1,834.1 L1531.5,834.0 L1531.9,834.1 L1532.3,833.7 L1532.7,833.8 L1533.1,833.8 L1533.5,834.0 L1533.9,833.7 L1534.3,833.8 L1534.7,833.7 L1535.2,833.7 L1535.6,833.6 L1536.0,833.9 L1536.4,834.0 L1536.8,834.3 L1537.2,834.3 L1537.6,833.9 L1538.0,833.5 L1538.4,833.4 L1538.8,832.9 L1539.2,832.8 L1539.6,832.9 L1540.0,833.5 L1540.4,833.6 L1540.8,833.4 L1541.2,833.4 L1541.6,833.4 L1542.0,832.9 L1542.5,832.8 L1542.9,833.0 L1543.3,833.0 L1543.7,833.5 L1544.1,834.1 L1544.5,834.2 L1544.9,834.1 L1545.3,833.8 L1545.7,833.6 L1546.1,833.2 L1546.5,833.0 L1546.9,833.0 L1547.3,833.3 L1547.7,833.5 L1548.1,833.5 L1548.5,833.5 L1548.9,833.6 L1549.3,833.6 L1549.7,832.9 L1550.2,832.6 L1550.6,832.6 L1551.0,832.5 L1551.4,832.3 L1551.8,832.3 L1552.2,832.5 L1552.6,832.5 L1553.0,832.5 L1553.4,832.3 L1553.8,832.4 L1554.2,832.7 L1554.6,832.7 L1555.0,832.5 L1555.4,832.7 L1555.8,832.8 L1556.2,832.9 L1556.6,832.6 L1557.0,833.0 L1557.5,833.0 L1557.9,833.1 L1558.3,833.0 L1558.7,833.2 L1559.1,832.9 L1559.5,833.0 L1559.9,833.1 L1560.3,832.9 L1560.7,832.8 L1561.1,832.8 L1561.5,832.9 L1561.9,833.1 L1562.3,833.1 L1562.7,833.4 L1563.1,833.5 L1563.5,833.5 L1563.9,833.1 L1564.3,833.2 L1564.8,833.4 L1565.2,833.5 L1565.6,833.6 L1566.0,833.7 L1566.4,833.7 L1566.8,833.6 L1567.2,833.9 L1567.6,834.2 L1568.0,834.5 L1568.4,835.0 L1568.8,835.2 L1569.2,835.0 L1569.6,834.5 L1570.0,834.5 L1570.4,834.2 L1570.8,834.4 L1571.2,834.6 L1571.6,834.9 L1572.1,834.7 L1572.5,834.8 L1572.9,834.9 L1573.3,834.9 L1573.7,835.1 L1574.1,835.4 L1574.5,835.4 L1574.9,835.8 L1575.3,836.1 L1575.7,836.0 L1576.1,835.9 L1576.5,835.9 L1576.9,835.6 L1577.3,835.6 L1577.7,836.2 L1578.1,836.3 L1578.5,836.5 L1578.9,836.3 L1579.4,836.2 L1579.8,835.7 L1580.2,835.6 L1580.6,835.8 L1581.0,835.9 L1581.4,836.1 L1581.8,836.1 L1582.2,836.4 L1582.6,836.4 L1583.0,836.0 L1583.4,835.5 L1583.8,835.8 L1584.2,835.9 L1584.6,835.4 L1585.0,835.7 L1585.4,835.8 L1585.8,835.6 L1586.2,836.0 L1586.7,836.3 L1587.1,836.9 L1587.5,837.1 L1587.9,837.1 L1588.3,837.2 L1588.7,837.6 L1589.1,837.6 L1589.5,838.1 L1589.9,838.5 L1590.3,838.5 L1590.7,838.1 L1591.1,837.8 L1591.5,837.6 L1591.9,837.5 L1592.3,837.5 L1592.7,837.9 L1593.1,838.4 L1593.5,838.8 L1593.9,839.1 L1594.4,839.2 L1594.8,839.6 L1595.2,839.7 L1595.6,839.5 L1596.0,839.5 L1596.4,839.5 L1596.8,839.6 L1597.2,839.3 L1597.6,839.5 L1598.0,839.8 L1598.4,840.0 L1598.8,840.0 L1599.2,840.6 L1599.6,840.8 L1600.0,840.9 L1600.4,841.1 L1600.8,841.6 L1601.2,841.8 L1601.7,841.7 L1602.1,841.9 L1602.5,842.0 L1602.9,841.8 L1603.3,842.4 L1603.7,842.6 L1604.1,842.9 L1604.5,843.3 L1604.9,843.6 L1605.3,842.9 L1605.7,843.2 L1606.1,843.4 L1606.5,843.5 L1606.9,843.5 L1607.3,844.0 L1607.7,844.3 L1608.1,844.7 L1608.5,844.9 L1609.0,845.3 L1609.4,845.6 L1609.8,846.0 L1610.2,846.8 L1610.6,847.1 L1611.0,847.4 L1611.4,847.7 L1611.8,848.0 L1612.2,848.3 L1612.6,848.6 L1613.0,849.0 L1613.4,849.3 L1613.8,849.7 L1614.2,850.1 L1614.6,850.5 L1615.0,851.0 L1615.4,851.4 L1615.8,851.9 L1616.3,852.5 L1616.7,853.0 L1617.1,853.6 L1617.5,854.2 L1617.9,854.8 L1618.3,855.4 L1618.7,856.0 L1619.1,856.7 L1619.5,857.3 L1619.9,857.9 L1620.3,858.6 L1620.7,859.2 L1621.1,859.8 L1621.5,860.4 L1621.9,860.9 L1622.3,861.5 L1622.7,862.1 L1623.1,862.6 L1623.6,863.2 L1624.0,863.8 L1624.4,864.4 L1624.8,865.1 L1625.2,865.8 L1625.6,866.5 L1626.0,867.4 L1626.4,868.2 L1626.8,869.2 L1627.2,870.2 L1627.6,871.5 L1628.0,872.8 L1628.4,874.3 L1628.8,875.9 L1629.2,877.5 L1629.6,879.3 L1630.0,881.1 L1630.4,883.0 L1630.9,885.0 L1631.3,887.1 L1631.7,889.4 L1632.1,891.9 L1632.5,894.5 L1632.9,897.2 L1633.3,900.0 L1633.7,902.9 L1634.1,905.8 L1634.5,908.6 L1634.9,911.4 L1635.3,914.3 L1635.7,917.2 L1636.1,920.2 L1636.5,923.3 L1636.9,926.3 L1637.3,929.4 L1637.7,932.4 L1638.1,935.4 L1638.6,938.3 L1639.0,941.1 L1639.4,943.9 L1639.8,946.6 L1640.2,949.3 L1640.6,951.9 L1641.0,954.6 L1641.4,957.2 L1641.8,959.7 L1642.2,962.3 L1642.6,964.8 L1643.0,967.3 L1643.4,969.8 L1643.8,972.2 L1644.2,974.7 L1644.6,977.1 L1645.0,979.5 L1645.4,981.8 L1645.9,984.1 L1646.3,986.4 L1646.7,988.6 L1647.1,990.8 L1647.5,992.9 L1647.9,995.1 L1648.3,997.3 L1648.7,999.4 L1649.1,1001.5 L1649.5,1003.6 L1649.9,1005.6 L1650.3,1007.5 L1650.7,1009.4 L1651.1,1011.1 L1651.5,1012.7 L1651.9,1014.2 L1652.3,1015.6 L1652.7,1017.1 L1653.2,1018.5 L1653.6,1020.0 L1654.0,1021.4 L1654.4,1022.6 L1654.8,1023.7 L1655.2,1024.5 L1655.6,1025.1 L1656.0,1025.4 L1656.4,1025.3 L1656.8,1025.1 L1657.2,1024.7 L1657.6,1024.2 L1658.0,1023.5 L1658.4,1022.8 L1658.8,1022.0 L1659.2,1021.2 L1659.6,1020.3 L1660.0,1019.5 L1660.5,1018.7 L1660.9,1018.0 L1661.3,1017.3 L1661.7,1016.7 L1662.1,1016.1 L1662.5,1015.6 L1662.9,1015.0 L1663.3,1014.4 L1663.7,1013.9 L1664.1,1013.3 L1664.5,1012.8 L1664.9,1012.2 L1665.3,1011.7 L1665.7,1011.1 L1666.1,1010.5 L1666.5,1009.8 L1666.9,1009.2 L1667.3,1008.5 L1667.8,1007.8 L1668.2,1007.0 L1668.6,1006.2 L1669.0,1005.4 L1669.4,1004.5 L1669.8,1003.5 L1670.2,1002.3 L1670.6,1001.1 L1671.0,999.9 L1671.4,998.5 L1671.8,997.0 L1672.2,995.5 L1672.6,993.9 L1673.0,992.3 L1673.4,990.6 L1673.8,988.9 L1674.2,987.1 L1674.6,985.2 L1675.1,983.2 L1675.5,981.1 L1675.9,978.8 L1676.3,976.4 L1676.7,974.0 L1677.1,971.5 L1677.5,969.0 L1677.9,966.5 L1678.3,964.1 L1678.7,961.7 L1679.1,959.3 L1679.5,957.1 L1679.9,954.8 L1680.3,952.5 L1680.7,950.2 L1681.1,947.9 L1681.5,945.6 L1681.9,943.3 L1682.3,941.1 L1682.8,938.8 L1683.2,936.6 L1683.6,934.4 L1684.0,932.3 L1684.4,930.2 L1684.8,928.1 L1685.2,926.2 L1685.6,924.2 L1686.0,922.3 L1686.4,920.4 L1686.8,918.5 L1687.2,916.7 L1687.6,914.8 L1688.0,913.0 L1688.4,911.2 L1688.8,909.4 L1689.2,907.7 L1689.6,906.0 L1690.1,904.4 L1690.5,902.9 L1690.9,901.4 L1691.3,900.1 L1691.7,898.8 L1692.1,897.5 L1692.5,896.2 L1692.9,894.9 L1693.3,893.7 L1693.7,892.5 L1694.1,891.3 L1694.5,890.2 L1694.9,889.1 L1695.3,888.1 L1695.7,887.2 L1696.1,886.4 L1696.5,885.6 L1696.9,885.0 L1697.4,884.5 L1697.8,884.1 L1698.2,883.8 L1698.6,883.5 L1699.0,883.2 L1699.4,882.9 L1699.8,882.7 L1700.2,882.5 L1700.6,882.4 L1701.0,882.2 L1701.4,882.1 L1701.8,882.0 L1702.2,881.9 L1702.6,881.9 L1703.0,881.9 L1703.4,882.0 L1703.8,882.0 L1704.2,882.1 L1704.7,882.2 L1705.1,882.4 L1705.5,882.5 L1705.9,882.6 L1706.3,882.8 L1706.7,882.9 L1707.1,883.1 L1707.5,883.3 L1707.9,883.4 L1708.3,883.6 L1708.7,883.7 L1709.1,883.9 L1709.5,884.1 L1709.9,884.2 L1710.3,884.3 L1710.7,884.5 L1711.1,884.6 L1711.5,884.7 L1712.0,884.9 L1712.4,885.1 L1712.8,885.3 L1713.2,885.6 L1713.6,885.9 L1714.0,886.1 L1714.4,886.4 L1714.8,886.6 L1715.2,886.8 L1715.6,887.0 L1716.0,887.1 L1716.4,887.1 L1716.8,887.1 L1717.2,887.1 L1717.6,887.0 L1718.0,886.8 L1718.4,886.5 L1718.8,886.2 L1719.3,885.9 L1719.7,885.5 L1720.1,885.1 L1720.5,884.7 L1720.9,884.2 L1721.3,883.7 L1721.7,883.2 L1722.1,882.6 L1722.5,882.1 L1722.9,881.5 L1723.3,880.9 L1723.7,880.4 L1724.1,879.8 L1724.5,879.3 L1724.9,878.8 L1725.3,878.3 L1725.7,877.9 L1726.1,877.5 L1726.5,877.1 L1727.0,876.8 L1727.4,876.5 L1727.8,876.2 L1728.2,875.9 L1728.6,875.6 L1729.0,875.4 L1729.4,875.1 L1729.8,874.8 L1730.2,874.6 L1730.6,874.3 L1731.0,874.1 L1731.4,873.9 L1731.8,873.6 L1732.2,873.4 L1732.6,873.2 L1733.0,873.0 L1733.4,872.9 L1733.8,872.7 L1734.3,872.6 L1734.7,872.5 L1735.1,872.4 L1735.5,872.3 L1735.9,872.3 L1736.3,872.2 L1736.7,872.2 L1737.1,872.2 L1737.5,872.2 L1737.9,872.3 L1738.3,872.4 L1738.7,872.6 L1739.1,873.0 L1739.5,873.5 L1739.9,874.1 L1740.3,874.8 L1740.7,875.6 L1741.1,876.5 L1741.6,877.5 L1742.0,878.5 L1742.4,879.6 L1742.8,881.0 L1743.2,882.6 L1743.6,884.6 L1744.0,886.7 L1744.4,889.1 L1744.8,891.5 L1745.2,894.1 L1745.6,896.6 L1746.0,899.1 L1746.4,901.6 L1746.8,903.9 L1747.2,906.1 L1747.6,908.0 L1748.0,909.7 L1748.4,911.4 L1748.9,913.2 L1749.3,915.0 L1749.7,916.8 L1750.1,918.5 L1750.5,920.1 L1750.9,921.5 L1751.3,922.8 L1751.7,923.8 L1752.1,924.6 L1752.5,925.0 L1752.9,925.1 L1753.3,924.8 L1753.7,924.1 L1754.1,923.1 L1754.5,921.9 L1754.9,920.5 L1755.3,919.2 L1755.7,917.8 L1756.2,916.5 L1756.6,915.4 L1757.0,914.6 L1757.4,913.9 L1757.8,913.2 L1758.2,912.5 L1758.6,911.9 L1759.0,911.3 L1759.4,910.8 L1759.8,910.5 L1760.2,910.2 L1760.6,910.2 L1761.0,910.2 L1761.4,910.2 L1761.8,910.3 L1762.2,910.4 L1762.6,910.4 L1763.0,910.5 L1763.4,910.6 L1763.9,910.7 L1764.3,910.9 L1764.7,911.0 L1765.1,911.2 L1765.5,911.4 L1765.9,911.5 L1766.3,911.7 L1766.7,912.1 L1767.1,912.7 L1767.5,913.4 L1767.9,914.2 L1768.3,915.1 L1768.7,916.2 L1769.1,917.2 L1769.5,918.4 L1769.9,919.6 L1770.3,920.7 L1770.7,921.9 L1771.2,923.0 L1771.6,924.4 L1772.0,926.0 L1772.4,927.8 L1772.8,929.7 L1773.2,931.7 L1773.6,933.7 L1774.0,935.7 L1774.4,937.5 L1774.8,939.2 L1775.2,940.7 L1775.6,942.0 L1776.0,942.9 L1776.4,943.4 L1776.8,943.5 L1777.2,943.0 L1777.6,942.1 L1778.0,940.7 L1778.5,939.1 L1778.9,937.3 L1779.3,935.4 L1779.7,933.4 L1780.1,931.5 L1780.5,929.8 L1780.9,928.1 L1781.3,926.1 L1781.7,923.9 L1782.1,921.6 L1782.5,919.4 L1782.9,917.4 L1783.3,915.6 L1783.7,914.3 L1784.1,913.6 L1784.5,913.4 L1784.9,913.5 L1785.3,913.5 L1785.8,913.6 L1786.2,913.7 L1786.6,913.9 L1787.0,914.1 L1787.4,914.3 L1787.8,914.5 L1788.2,914.7 L1788.6,914.9 L1789.0,915.2 L1789.4,915.5 L1789.8,915.8 L1790.2,916.1 L1790.6,916.4 L1791.0,916.7 L1791.4,917.0 L1791.8,917.3 L1792.2,917.7 L1792.6,918.2 L1793.1,918.7 L1793.5,919.3 L1793.9,919.9 L1794.3,920.6 L1794.7,921.3 L1795.1,922.1 L1795.5,922.8 L1795.9,923.6 L1796.3,924.5 L1796.7,925.3 L1797.1,926.1 L1797.5,927.0 L1797.9,927.8 L1798.3,928.7 L1798.7,929.8 L1799.1,931.1 L1799.5,932.4 L1799.9,933.8 L1800.4,935.3 L1800.8,936.8 L1801.2,938.2 L1801.6,939.6 L1802.0,940.9 L1802.4,942.0 L1802.8,943.0 L1803.2,943.7 L1803.6,944.3 L1804.0,944.5 L1804.4,944.4 L1804.8,944.0 L1805.2,943.3 L1805.6,942.3 L1806.0,941.2 L1806.4,939.9 L1806.8,938.5 L1807.2,937.1 L1807.6,935.7 L1808.1,934.4 L1808.5,933.1 L1808.9,931.9 L1809.3,930.4 L1809.7,928.8 L1810.1,927.1 L1810.5,925.4 L1810.9,923.7 L1811.3,922.1 L1811.7,920.7 L1812.1,919.5 L1812.5,918.6 L1812.9,918.0 L1813.3,917.8 L1813.7,918.0 L1814.1,918.6 L1814.5,919.4 L1814.9,920.4 L1815.4,921.5 L1815.8,922.6 L1816.2,923.7 L1816.6,924.5 L1817.0,925.2 L1817.4,925.5 L1817.8,925.5 L1818.2,925.3 L1818.6,925.0 L1819.0,924.7 L1819.4,924.3 L1819.8,924.0 L1820.2,923.7 L1820.6,923.5 L1821.0,923.4 L1821.4,923.6 L1821.8,924.1 L1822.2,924.8 L1822.7,925.6 L1823.1,926.5 L1823.5,927.3 L1823.9,927.9 L1824.3,928.2 L1824.7,928.3 L1825.1,927.9 L1825.5,927.2 L1825.9,926.3 L1826.3,925.1 L1826.7,923.9 L1827.1,922.5 L1827.5,921.1 L1827.9,919.7 L1828.3,918.3 L1828.7,917.2 L1829.1,916.2 L1829.5,915.5 L1830.0,915.1 L1830.4,915.0 L1830.8,915.4 L1831.2,916.2 L1831.6,917.3 L1832.0,918.5 L1832.4,919.8 L1832.8,921.1 L1833.2,922.3 L1833.6,923.2 L1834.0,923.9 L1834.4,924.1 L1834.8,923.5 L1835.2,921.8 L1835.6,919.4 L1836.0,916.5 L1836.4,913.4 L1836.8,910.3 L1837.3,907.5 L1837.7,905.1 L1838.1,902.6 L1838.5,900.0 L1838.9,897.4 L1839.3,894.9 L1839.7,892.7 L1840.1,891.0 L1840.5,889.9 L1840.9,889.4 L1841.3,889.1 L1841.7,888.8 L1842.1,888.6 L1842.5,888.4 L1842.9,888.3 L1843.3,888.2 L1843.7,888.2 L1844.1,888.4 L1844.6,888.8 L1845.0,889.2 L1845.4,889.7 L1845.8,890.1 L1846.2,890.5 L1846.6,890.8 L1847.0,891.0 L1847.4,890.9 L1847.8,890.6 L1848.2,890.0 L1848.6,889.2 L1849.0,888.2 L1849.4,887.0 L1849.8,885.7 L1850.2,884.4 L1850.6,883.0 L1851.0,881.5 L1851.4,880.1 L1851.8,878.7 L1852.3,877.4 L1852.7,876.1 L1853.1,875.0 L1853.5,874.1 L1853.9,873.4 L1854.3,872.9 L1854.7,872.7 L1855.1,872.8 L1855.5,873.1 L1855.9,873.8 L1856.3,874.6 L1856.7,875.6 L1857.1,876.8 L1857.5,878.1 L1857.9,879.4 L1858.3,880.8 L1858.7,882.1 L1859.1,883.4 L1859.6,884.6 L1860.0,885.7 L1860.4,886.6 L1860.8,887.3 L1861.2,887.8 L1861.6,888.0 L1862.0,887.8 L1862.4,887.4 L1862.8,886.8 L1863.2,885.9 L1863.6,884.8 L1864.0,883.6 L1864.4,882.3 L1864.8,880.8 L1865.2,879.2 L1865.6,877.6 L1866.0,876.0 L1866.4,874.4 L1866.9,872.7 L1867.3,871.2 L1867.7,869.7 L1868.1,868.3 L1868.5,867.1 L1868.9,866.0 L1869.3,865.2 L1869.7,864.5 L1870.1,864.1 L1870.5,863.9 L1870.9,864.2 L1871.3,864.9 L1871.7,866.0 L1872.1,867.4 L1872.5,869.0 L1872.9,870.9 L1873.3,873.0 L1873.7,875.1 L1874.2,877.3 L1874.6,879.5 L1875.0,881.6 L1875.4,883.5 L1875.8,885.3 L1876.2,886.9 L1876.6,888.1 L1877.0,889.0 L1877.4,889.5 L1877.8,889.5 L1878.2,889.0 L1878.6,888.2 L1879.0,887.0 L1879.4,885.4 L1879.8,883.7 L1880.2,881.7 L1880.6,879.6 L1881.0,877.4 L1881.5,875.1 L1881.9,872.8 L1882.3,870.6 L1882.7,868.5 L1883.1,866.5 L1883.5,864.8 L1883.9,863.3 L1884.3,862.1 L1884.7,861.2 L1885.1,860.8 L1885.5,860.8 L1885.9,861.1 L1886.3,861.8 L1886.7,862.7 L1887.1,863.9 L1887.5,865.2 L1887.9,866.7 L1888.3,868.2 L1888.8,869.7 L1889.2,871.3 L1889.6,872.7 L1890.0,874.0 L1890.4,875.1 L1890.8,876.0 L1891.2,876.6 L1891.6,876.9 L1892.0,876.8 L1892.4,876.5 L1892.8,876.0 L1893.2,875.3 L1893.6,874.5 L1894.0,873.5 L1894.4,872.3 L1894.8,871.1 L1895.2,869.8 L1895.6,868.4 L1896.0,867.0 L1896.5,865.6 L1896.9,864.2 L1897.3,862.8 L1897.7,861.5 L1898.1,860.3 L1898.5,859.2 L1898.9,858.2 L1899.3,857.3 L1899.7,856.6 L1900.1,856.1 L1900.5,855.8 L1900.9,855.8 L1901.3,855.9 L1901.7,856.2 L1902.1,856.6 L1902.5,857.1 L1902.9,857.8 L1903.3,858.6 L1903.8,859.5 L1904.2,860.5 L1904.6,861.5 L1905.0,862.6 L1905.4,863.8 L1905.8,865.0 L1906.2,866.3 L1906.6,867.6 L1907.0,869.6 L1907.4,872.3 L1907.8,875.5 L1908.2,879.1 L1908.6,883.0 L1909.0,887.0 L1909.4,890.9 L1909.8,894.7 L1910.2,898.3 L1910.6,901.4 L1911.1,903.9 L1911.5,905.8 L1911.9,906.8 L1912.3,906.9 L1912.7,906.4 L1913.1,905.4 L1913.5,904.0 L1913.9,902.2 L1914.3,900.1 L1914.7,897.8 L1915.1,895.3 L1915.5,892.8 L1915.9,890.3 L1916.3,887.8 L1916.7,885.5 L1917.1,883.4 L1917.5,881.6 L1917.9,880.0 L1918.4,878.4 L1918.8,876.7 L1919.2,875.0 L1919.6,873.3 L1920.0,871.6 L1920.4,870.0 L1920.8,868.3 L1921.2,866.8 L1921.6,865.3 L1922.0,863.9 L1922.4,862.7 L1922.8,861.6 L1923.2,860.7 L1923.6,860.0 L1924.0,859.5 L1924.4,859.2 L1924.8,859.1 L1925.2,859.3 L1925.7,859.6 L1926.1,860.1 L1926.5,860.7 L1926.9,861.4 L1927.3,862.2 L1927.7,863.1 L1928.1,864.0 L1928.5,864.9 L1928.9,865.7 L1929.3,866.6 L1929.7,867.4 L1930.1,868.1 L1930.5,868.7 L1930.9,869.1 L1931.3,869.4 L1931.7,869.6 L1932.1,869.5 L1932.5,869.4 L1933.0,869.1 L1933.4,868.7 L1933.8,868.3 L1934.2,867.9 L1934.6,867.4 L1935.0,866.9 L1935.4,866.4 L1935.8,865.9 L1936.2,865.5 L1936.6,865.1 L1937.0,864.8 L1937.4,864.6 L1937.8,864.4 L1938.2,864.3 L1938.6,864.1 L1939.0,864.0 L1939.4,863.8 L1939.8,863.7 L1940.2,863.5 L1940.7,863.4 L1941.1,863.3 L1941.5,863.1 L1941.9,863.0 L1942.3,862.9 L1942.7,862.8 L1943.1,862.7 L1943.5,862.7 L1943.9,862.6 L1944.3,862.5 L1944.7,862.5 L1945.1,862.5 L1945.5,862.4 L1945.9,862.4 L1946.3,862.6 L1946.7,863.0 L1947.1,863.5 L1947.5,864.2 L1948.0,865.0 L1948.4,865.9 L1948.8,866.9 L1949.2,868.0 L1949.6,869.2 L1950.0,870.4 L1950.4,872.0 L1950.8,874.4 L1951.2,877.7 L1951.6,881.5 L1952.0,885.8 L1952.4,890.2 L1952.8,894.6 L1953.2,898.7 L1953.6,902.4 L1954.0,905.4 L1954.4,907.6 L1954.8,908.7 L1955.3,908.6 L1955.7,907.5 L1956.1,905.6 L1956.5,903.1 L1956.9,900.0 L1957.3,896.4 L1957.7,892.5 L1958.1,888.4 L1958.5,884.2 L1958.9,880.0 L1959.3,876.0 L1959.7,872.2 L1960.1,868.9 L1960.5,866.0 L1960.9,863.7 L1961.3,862.2 L1961.7,861.0 L1962.1,859.8 L1962.6,858.7 L1963.0,857.6 L1963.4,856.6 L1963.8,855.7 L1964.2,854.8 L1964.6,854.0 L1965.0,853.3 L1965.4,852.7 L1965.8,852.2 L1966.2,851.9 L1966.6,851.7 L1967.0,851.6 L1967.4,851.7 L1967.8,852.1 L1968.2,852.7 L1968.6,853.5 L1969.0,854.4 L1969.4,855.5 L1969.9,856.6 L1970.3,857.8 L1970.7,859.1 L1971.1,860.3 L1971.5,861.8 L1971.9,863.8 L1972.3,866.3 L1972.7,869.1 L1973.1,872.1 L1973.5,875.0 L1973.9,877.8 L1974.3,880.1 L1974.7,881.9 L1975.1,883.0 L1975.5,883.2 L1975.9,882.9 L1976.3,882.4 L1976.7,881.6 L1977.2,880.6 L1977.6,879.4 L1978.0,878.1 L1978.4,876.6 L1978.8,875.2 L1979.2,873.7 L1979.6,872.2 L1980.0,870.7 L1980.4,869.4 L1980.8,868.2 L1981.2,867.1 L1981.6,866.0 L1982.0,864.8 L1982.4,863.6 L1982.8,862.4 L1983.2,861.3 L1983.6,860.1 L1984.0,859.0 L1984.4,857.9 L1984.9,856.9 L1985.3,856.0 L1985.7,855.1 L1986.1,854.4 L1986.5,853.7 L1986.9,853.2 L1987.3,852.7 L1987.7,852.2 L1988.1,851.8 L1988.5,851.3 L1988.9,850.9 L1989.3,850.5 L1989.7,850.1 L1990.1,849.8 L1990.5,849.5 L1990.9,849.2 L1991.3,849.0 L1991.7,848.9 L1992.2,848.8 L1992.6,848.8 L1993.0,848.9 L1993.4,849.0 L1993.8,849.1 L1994.2,849.3 L1994.6,849.5 L1995.0,849.7 L1995.4,850.0 L1995.8,850.2 L1996.2,850.4 L1996.6,850.6 L1997.0,850.8 L1997.4,850.9 L1997.8,851.0 L1998.2,851.1 L1998.6,851.1 L1999.0,851.1 L1999.5,851.0 L1999.9,850.8 L2000.3,850.6 L2000.7,850.3 L2001.1,850.0 L2001.5,849.7 L2001.9,849.3 L2002.3,849.0 L2002.7,848.6 L2003.1,848.2 L2003.5,847.8 L2003.9,847.5 L2004.3,847.1 L2004.7,846.8 L2005.1,846.5 L2005.5,846.3 L2005.9,846.1 L2006.3,845.9 L2006.8,845.8 L2007.2,845.8 L2007.6,845.8 L2008.0,846.0 L2008.4,846.3 L2008.8,846.6 L2009.2,846.9 L2009.6,847.3 L2010.0,847.7 L2010.4,848.1 L2010.8,848.5 L2011.2,848.8 L2011.6,849.1 L2012.0,849.3 L2012.4,849.4 L2012.8,849.5 L2013.2,849.4 L2013.6,849.2 L2014.1,849.0 L2014.5,848.8 L2014.9,848.6 L2015.3,848.3 L2015.7,848.0 L2016.1,847.8 L2016.5,847.6 L2016.9,847.4 L2017.3,847.3 L2017.7,847.3 L2018.1,847.3 L2018.5,847.3 L2018.9,847.3 L2019.3,847.3 L2019.7,847.3 L2020.1,847.3 L2020.5,847.4 L2020.9,847.4 L2021.4,847.5 L2021.8,847.5 L2022.2,847.6 L2022.6,847.7 L2023.0,847.9 L2023.4,848.0 L2023.8,848.2 L2024.2,848.4 L2024.6,848.6 L2025.0,848.8" fill="none" stroke="#4862A8" stroke-width="3.9" stroke-linejoin="round" stroke-linecap="round" />
<text x="1457.7" y="1086" font-size="28.4" fill="#000" text-anchor="middle" font-weight="normal"  transform="matrix(1 0 0 1.035 0 -38.010)">2000</text>
<text x="1740.6" y="1086" font-size="28.4" fill="#000" text-anchor="middle" font-weight="normal"  transform="matrix(1 0 0 1.035 0 -38.010)">1500</text>
<text x="1984.8" y="1086" font-size="28.4" fill="#000" text-anchor="start" font-weight="normal"  transform="matrix(1 0 0 1.035 0 -38.010)">1000</text>
<text x="1743.2" y="1136" font-size="28.4" fill="#000" text-anchor="middle" font-weight="normal"  transform="matrix(1 0 0 1.035 0 -39.760)">Wavenumber</text>
<text x="1433" y="833" font-size="28.4" fill="#000" text-anchor="middle" transform="rotate(-90 1433 833) matrix(1 0 0 1.035 0 -29.155)">Absorbance</text>
<text x="1460.6" y="698.4" font-size="28.4" fill="#000" text-anchor="start" font-weight="normal"  transform="matrix(1 0 0 1.035 0 -24.444)">ES</text>
<text x="1460.4" y="790" font-size="28.4" fill="#E5450C" text-anchor="start" transform="matrix(1 0 0 1.035 0 -27.650)">0.2 M K<tspan dy="12.9" font-size="24">2</tspan><tspan dy="-12.9">S</tspan></text>
<text x="1460.4" y="877.8" font-size="28.4" fill="#4862A8" text-anchor="start" transform="matrix(1 0 0 1.035 0 -30.723)">0.4 M K<tspan dy="12.9" font-size="24">2</tspan><tspan dy="-12.9">S</tspan></text>
</svg>
</body></html>
